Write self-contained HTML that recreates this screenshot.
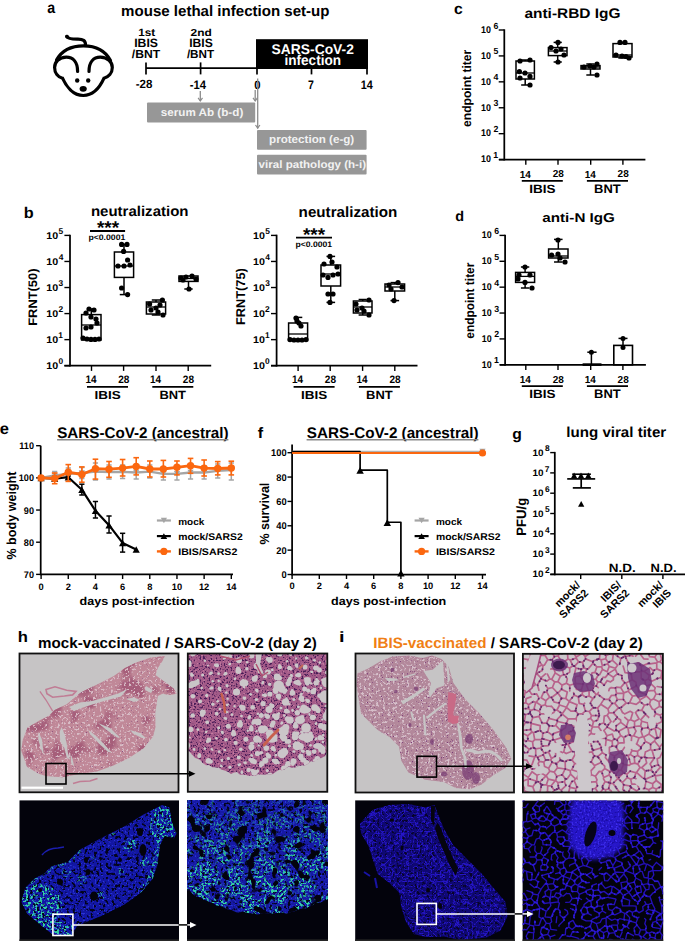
<!DOCTYPE html>
<html><head><meta charset="utf-8"><style>
html,body{margin:0;padding:0;background:#fff;width:685px;height:941px;overflow:hidden}
svg{display:block}
text{font-family:"Liberation Sans", sans-serif;text-rendering:geometricPrecision}
</style></head><body>
<svg width="685" height="941" viewBox="0 0 685 941" font-family="Liberation Sans, sans-serif">
<text x="47.37" y="12.94" font-size="15.82" font-weight="bold" fill="#000" textLength="7.90" lengthAdjust="spacingAndGlyphs" >a</text>
<text x="121.12" y="16.13" font-size="15.08" font-weight="bold" fill="#000" textLength="208.39" lengthAdjust="spacingAndGlyphs" >mouse lethal infection set-up</text>
<g fill="none" stroke="#000" stroke-width="3.2" stroke-linecap="round">
<path d="M66.8 36.4 C68 39 72 39.3 78 39.2 C83 39.2 85.6 40.5 85.5 45"/>
<path d="M56.5 60 C62 50 72 45.8 83.5 45.8 C95 45.8 105 50 110.5 60.5"/>
<path d="M77.6 71.5 C77.6 62 73 57.2 66.3 57.2 C59 57.2 54.6 62 54.6 67.5 C54.6 73 58 77 62.5 78.2 C66 86 73 95.5 83.3 95.5 C93.6 95.5 100.5 86 104 78.2 C108.5 77 112.3 73 112.3 67.5 C112.3 62 107.6 57.2 100.3 57.2 C93.6 57.2 89 62 89 71.5"/>
</g>
<circle cx="67" cy="36.6" r="1.9" fill="#000"/><circle cx="77.2" cy="80.5" r="2.2" fill="#000"/><circle cx="88.2" cy="80.5" r="2.2" fill="#000"/>
<ellipse cx="83.2" cy="88.8" rx="3.6" ry="2.9" fill="#000"/>
<text x="138.30" y="36.29" font-size="10.57" font-weight="bold" fill="#000" textLength="16.88" lengthAdjust="spacingAndGlyphs" >1st</text>
<text x="134.20" y="47.48" font-size="12.11" font-weight="bold" fill="#000" textLength="23.82" lengthAdjust="spacingAndGlyphs" >IBIS</text>
<text x="131.88" y="58.16" font-size="11.81" font-weight="bold" fill="#000" textLength="28.28" lengthAdjust="spacingAndGlyphs" >/BNT</text>
<text x="190.58" y="36.30" font-size="10.07" font-weight="bold" fill="#000" textLength="21.23" lengthAdjust="spacingAndGlyphs" >2nd</text>
<text x="189.21" y="47.48" font-size="12.11" font-weight="bold" fill="#000" textLength="23.61" lengthAdjust="spacingAndGlyphs" >IBIS</text>
<text x="186.88" y="58.16" font-size="11.81" font-weight="bold" fill="#000" textLength="27.27" lengthAdjust="spacingAndGlyphs" >/BNT</text>
<line x1="146" y1="62.4" x2="146" y2="74.4" stroke="#000" stroke-width="1.7" />
<line x1="200.6" y1="62.4" x2="200.6" y2="74.4" stroke="#000" stroke-width="1.7" />
<line x1="146" y1="68.2" x2="257" y2="68.2" stroke="#000" stroke-width="1.7" />
<rect x="256" y="39.2" width="112" height="29.8" fill="#000" stroke="none" stroke-width="1" />
<line x1="257" y1="66" x2="257" y2="74.4" stroke="#000" stroke-width="1.7" />
<line x1="311.5" y1="66" x2="311.5" y2="74.4" stroke="#000" stroke-width="1.7" />
<line x1="367" y1="66" x2="367" y2="74.4" stroke="#000" stroke-width="1.7" />
<text x="271.58" y="53.66" font-size="14.08" font-weight="bold" fill="#fff" textLength="82.28" lengthAdjust="spacingAndGlyphs" >SARS-CoV-2</text>
<text x="284.45" y="64.86" font-size="14.42" font-weight="bold" fill="#fff" textLength="56.59" lengthAdjust="spacingAndGlyphs" >infection</text>
<text x="135.64" y="88.48" font-size="11.97" font-weight="bold" fill="#000" textLength="16.71" lengthAdjust="spacingAndGlyphs" >-28</text>
<text x="189.65" y="88.60" font-size="12.32" font-weight="bold" fill="#000" textLength="16.31" lengthAdjust="spacingAndGlyphs" >-14</text>
<text x="254.15" y="88.58" font-size="11.97" font-weight="bold" fill="#000" textLength="6.32" lengthAdjust="spacingAndGlyphs" >0</text>
<text x="307.98" y="88.60" font-size="12.32" font-weight="bold" fill="#000" textLength="5.85" lengthAdjust="spacingAndGlyphs" >7</text>
<text x="360.65" y="88.60" font-size="12.32" font-weight="bold" fill="#000" textLength="12.03" lengthAdjust="spacingAndGlyphs" >14</text>
<rect x="147" y="102.4" width="108.2" height="20.1" fill="#979797" stroke="none" stroke-width="1" rx="1"/>
<rect x="257" y="129.9" width="109.6" height="19.8" fill="#979797" stroke="none" stroke-width="1" rx="1"/>
<rect x="257" y="154.7" width="109.6" height="19.8" fill="#979797" stroke="none" stroke-width="1" rx="1"/>
<text x="160.79" y="115.99" font-size="11.02" font-weight="bold" fill="#f2f2f2" textLength="82.48" lengthAdjust="spacingAndGlyphs" >serum Ab (b-d)</text>
<text x="269.04" y="142.74" font-size="11.23" font-weight="bold" fill="#f2f2f2" textLength="85.21" lengthAdjust="spacingAndGlyphs" >protection (e-g)</text>
<text x="258.64" y="167.53" font-size="10.80" font-weight="bold" fill="#f2f2f2" textLength="107.41" lengthAdjust="spacingAndGlyphs" >viral pathology (h-i)</text>
<line x1="200.3" y1="91" x2="200.3" y2="101" stroke="#8c8c8c" stroke-width="1.3" />
<path d="M198.10000000000002 97.8 L200.3 101 L202.5 97.8" fill="none" stroke="#8c8c8c" stroke-width="1.2"/>
<line x1="255.2" y1="90" x2="255.2" y2="101" stroke="#8c8c8c" stroke-width="1.3" />
<path d="M253.0 97.8 L255.2 101 L257.4 97.8" fill="none" stroke="#8c8c8c" stroke-width="1.2"/>
<line x1="257.7" y1="78.5" x2="257.7" y2="128.2" stroke="#8c8c8c" stroke-width="1.3" />
<path d="M255.5 124.99999999999999 L257.7 128.2 L259.9 124.99999999999999" fill="none" stroke="#8c8c8c" stroke-width="1.2"/>
<text x="23.84" y="217.64" font-size="15.51" font-weight="bold" fill="#000" textLength="9.92" lengthAdjust="spacingAndGlyphs" >b</text>
<text x="90.92" y="216.46" font-size="14.29" font-weight="bold" fill="#000" textLength="97.59" lengthAdjust="spacingAndGlyphs" >neutralization</text>
<line x1="70" y1="234.70000000000002" x2="70" y2="366.575" stroke="#000" stroke-width="1.75" />
<line x1="64.4" y1="235.4" x2="70" y2="235.4" stroke="#000" stroke-width="1.4" />
<text x="46.36" y="238.60" font-size="9.86" font-weight="bold" fill="#000" textLength="11.89" lengthAdjust="spacingAndGlyphs" >10</text>
<text x="58.55" y="234.00" font-size="8.40" font-weight="bold" fill="#000" text-anchor="start" textLength="4.67" lengthAdjust="spacingAndGlyphs">5</text>
<line x1="64.4" y1="261.46" x2="70" y2="261.46" stroke="#000" stroke-width="1.4" />
<text x="46.36" y="264.66" font-size="9.86" font-weight="bold" fill="#000" textLength="11.89" lengthAdjust="spacingAndGlyphs" >10</text>
<text x="58.67" y="260.06" font-size="8.40" font-weight="bold" fill="#000" text-anchor="start" textLength="4.67" lengthAdjust="spacingAndGlyphs">4</text>
<line x1="64.4" y1="287.52" x2="70" y2="287.52" stroke="#000" stroke-width="1.4" />
<text x="46.36" y="290.72" font-size="9.86" font-weight="bold" fill="#000" textLength="11.89" lengthAdjust="spacingAndGlyphs" >10</text>
<text x="58.59" y="286.12" font-size="8.40" font-weight="bold" fill="#000" text-anchor="start" textLength="4.67" lengthAdjust="spacingAndGlyphs">3</text>
<line x1="64.4" y1="313.58" x2="70" y2="313.58" stroke="#000" stroke-width="1.4" />
<text x="46.36" y="316.78" font-size="9.86" font-weight="bold" fill="#000" textLength="11.89" lengthAdjust="spacingAndGlyphs" >10</text>
<text x="58.51" y="312.18" font-size="8.40" font-weight="bold" fill="#000" text-anchor="start" textLength="4.67" lengthAdjust="spacingAndGlyphs">2</text>
<line x1="64.4" y1="339.64" x2="70" y2="339.64" stroke="#000" stroke-width="1.4" />
<text x="46.36" y="342.84" font-size="9.86" font-weight="bold" fill="#000" textLength="11.89" lengthAdjust="spacingAndGlyphs" >10</text>
<text x="58.30" y="338.24" font-size="8.40" font-weight="bold" fill="#000" text-anchor="start" textLength="4.67" lengthAdjust="spacingAndGlyphs">1</text>
<line x1="64.4" y1="365.7" x2="70" y2="365.7" stroke="#000" stroke-width="1.4" />
<text x="46.36" y="368.90" font-size="9.86" font-weight="bold" fill="#000" textLength="11.89" lengthAdjust="spacingAndGlyphs" >10</text>
<text x="58.46" y="364.30" font-size="8.40" font-weight="bold" fill="#000" text-anchor="start" textLength="4.67" lengthAdjust="spacingAndGlyphs">0</text>
<line x1="64.4" y1="365.7" x2="211.2" y2="365.7" stroke="#000" stroke-width="1.75" />
<line x1="91.5" y1="365.7" x2="91.5" y2="370.9" stroke="#000" stroke-width="1.4" />
<line x1="123.6" y1="365.7" x2="123.6" y2="370.9" stroke="#000" stroke-width="1.4" />
<line x1="156" y1="365.7" x2="156" y2="370.9" stroke="#000" stroke-width="1.4" />
<line x1="188.2" y1="365.7" x2="188.2" y2="370.9" stroke="#000" stroke-width="1.4" />
<text x="85.50" y="383.00" font-size="11.01" font-weight="bold" fill="#000" textLength="11.07" lengthAdjust="spacingAndGlyphs" >14</text>
<text x="118.25" y="382.89" font-size="10.70" font-weight="bold" fill="#000" textLength="11.18" lengthAdjust="spacingAndGlyphs" >28</text>
<text x="150.00" y="383.00" font-size="11.01" font-weight="bold" fill="#000" textLength="11.07" lengthAdjust="spacingAndGlyphs" >14</text>
<text x="182.85" y="382.89" font-size="10.70" font-weight="bold" fill="#000" textLength="11.18" lengthAdjust="spacingAndGlyphs" >28</text>
<line x1="87" y1="386.9" x2="128" y2="386.9" stroke="#000" stroke-width="1.8" />
<text x="94.47" y="398.58" font-size="11.55" font-weight="bold" fill="#000" textLength="26.25" lengthAdjust="spacingAndGlyphs" >IBIS</text>
<line x1="152.3" y1="386.9" x2="193.3" y2="386.9" stroke="#000" stroke-width="1.8" />
<text x="159.46" y="398.70" font-size="11.88" font-weight="bold" fill="#000" textLength="26.57" lengthAdjust="spacingAndGlyphs" >BNT</text>
<text x="0" y="0" transform="translate(36.52 325.74) rotate(-90)" font-size="12.30" font-weight="bold" fill="#000" textLength="57.17" lengthAdjust="spacingAndGlyphs">FRNT(50)</text>
<line x1="90" y1="231" x2="125.1" y2="231" stroke="#000" stroke-width="1.8" />
<text x="96.91" y="234.07" font-size="18.65" font-weight="bold" fill="#000" textLength="22.14" lengthAdjust="spacingAndGlyphs" >***</text>
<text x="88.44" y="239.92" font-size="8.02" font-weight="bold" fill="#000" textLength="36.91" lengthAdjust="spacingAndGlyphs" >p&lt;0.0001</text>
<line x1="91.3" y1="309" x2="91.3" y2="314.6" stroke="#000" stroke-width="1.5" />
<line x1="87.032" y1="309" x2="95.568" y2="309" stroke="#000" stroke-width="1.5" />
<rect x="81.6" y="314.6" width="19.400000000000006" height="25.399999999999977" fill="#fff" stroke="#000" stroke-width="1.5" />
<line x1="81.6" y1="325" x2="101" y2="325" stroke="#000" stroke-width="1.3" />
<circle cx="89" cy="309" r="2.6" fill="#000"/>
<circle cx="94" cy="310" r="2.6" fill="#000"/>
<circle cx="86" cy="313" r="2.6" fill="#000"/>
<circle cx="91" cy="317" r="2.6" fill="#000"/>
<circle cx="96" cy="319" r="2.6" fill="#000"/>
<circle cx="97" cy="323" r="2.6" fill="#000"/>
<circle cx="91" cy="327" r="2.6" fill="#000"/>
<circle cx="86" cy="328" r="2.6" fill="#000"/>
<circle cx="83" cy="338" r="2.6" fill="#000"/>
<circle cx="87" cy="339" r="2.6" fill="#000"/>
<circle cx="91" cy="339.4" r="2.6" fill="#000"/>
<circle cx="95" cy="339.4" r="2.6" fill="#000"/>
<circle cx="99" cy="339" r="2.6" fill="#000"/>
<line x1="124.0" y1="244.4" x2="124.0" y2="252" stroke="#000" stroke-width="1.5" />
<line x1="119.776" y1="244.4" x2="128.224" y2="244.4" stroke="#000" stroke-width="1.5" />
<line x1="124.0" y1="277.4" x2="124.0" y2="294.6" stroke="#000" stroke-width="1.5" />
<line x1="119.776" y1="294.6" x2="128.224" y2="294.6" stroke="#000" stroke-width="1.5" />
<rect x="114.4" y="252" width="19.19999999999999" height="25.399999999999977" fill="#fff" stroke="#000" stroke-width="1.5" />
<line x1="114.4" y1="266" x2="133.6" y2="266" stroke="#000" stroke-width="1.3" />
<circle cx="121.6" cy="244.4" r="2.6" fill="#000"/>
<circle cx="127" cy="244.4" r="2.6" fill="#000"/>
<circle cx="123.6" cy="251.4" r="2.6" fill="#000"/>
<circle cx="127.6" cy="260" r="2.6" fill="#000"/>
<circle cx="118" cy="266" r="2.6" fill="#000"/>
<circle cx="124" cy="266" r="2.6" fill="#000"/>
<circle cx="130" cy="265" r="2.6" fill="#000"/>
<circle cx="121.6" cy="288" r="2.6" fill="#000"/>
<circle cx="127.6" cy="294.6" r="2.6" fill="#000"/>
<line x1="156.0" y1="300" x2="156.0" y2="302" stroke="#000" stroke-width="1.5" />
<line x1="151.776" y1="300" x2="160.224" y2="300" stroke="#000" stroke-width="1.5" />
<line x1="156.0" y1="314" x2="156.0" y2="315" stroke="#000" stroke-width="1.5" />
<line x1="151.776" y1="315" x2="160.224" y2="315" stroke="#000" stroke-width="1.5" />
<rect x="146.4" y="302" width="19.19999999999999" height="12" fill="#fff" stroke="#000" stroke-width="1.5" />
<line x1="146.4" y1="307" x2="165.6" y2="307" stroke="#000" stroke-width="1.3" />
<circle cx="162.4" cy="300" r="2.6" fill="#000"/>
<circle cx="149.6" cy="304" r="2.6" fill="#000"/>
<circle cx="156" cy="308" r="2.6" fill="#000"/>
<circle cx="163" cy="315" r="2.6" fill="#000"/>
<circle cx="158" cy="312" r="2.6" fill="#000"/>
<circle cx="151" cy="310" r="2.6" fill="#000"/>
<circle cx="160" cy="305" r="2.6" fill="#000"/>
<line x1="188.5" y1="281.4" x2="188.5" y2="289" stroke="#000" stroke-width="1.5" />
<line x1="184.32" y1="289" x2="192.68" y2="289" stroke="#000" stroke-width="1.5" />
<rect x="179" y="276" width="19" height="5.399999999999977" fill="#fff" stroke="#000" stroke-width="1.5" />
<line x1="179" y1="278.5" x2="198" y2="278.5" stroke="#000" stroke-width="1.3" />
<circle cx="181" cy="278" r="2.6" fill="#000"/>
<circle cx="186" cy="277" r="2.6" fill="#000"/>
<circle cx="192" cy="276" r="2.6" fill="#000"/>
<circle cx="196" cy="279" r="2.6" fill="#000"/>
<circle cx="183" cy="280" r="2.6" fill="#000"/>
<circle cx="189" cy="289" r="2.6" fill="#000"/>
<text x="298.61" y="216.85" font-size="14.83" font-weight="bold" fill="#000" textLength="98.61" lengthAdjust="spacingAndGlyphs" >neutralization</text>
<line x1="276.6" y1="234.70000000000002" x2="276.6" y2="366.575" stroke="#000" stroke-width="1.75" />
<line x1="271.0" y1="235.4" x2="276.6" y2="235.4" stroke="#000" stroke-width="1.4" />
<text x="252.96" y="238.60" font-size="9.86" font-weight="bold" fill="#000" textLength="11.89" lengthAdjust="spacingAndGlyphs" >10</text>
<text x="265.15" y="234.00" font-size="8.40" font-weight="bold" fill="#000" text-anchor="start" textLength="4.67" lengthAdjust="spacingAndGlyphs">5</text>
<line x1="271.0" y1="261.46" x2="276.6" y2="261.46" stroke="#000" stroke-width="1.4" />
<text x="252.96" y="264.66" font-size="9.86" font-weight="bold" fill="#000" textLength="11.89" lengthAdjust="spacingAndGlyphs" >10</text>
<text x="265.27" y="260.06" font-size="8.40" font-weight="bold" fill="#000" text-anchor="start" textLength="4.67" lengthAdjust="spacingAndGlyphs">4</text>
<line x1="271.0" y1="287.52" x2="276.6" y2="287.52" stroke="#000" stroke-width="1.4" />
<text x="252.96" y="290.72" font-size="9.86" font-weight="bold" fill="#000" textLength="11.89" lengthAdjust="spacingAndGlyphs" >10</text>
<text x="265.19" y="286.12" font-size="8.40" font-weight="bold" fill="#000" text-anchor="start" textLength="4.67" lengthAdjust="spacingAndGlyphs">3</text>
<line x1="271.0" y1="313.58" x2="276.6" y2="313.58" stroke="#000" stroke-width="1.4" />
<text x="252.96" y="316.78" font-size="9.86" font-weight="bold" fill="#000" textLength="11.89" lengthAdjust="spacingAndGlyphs" >10</text>
<text x="265.11" y="312.18" font-size="8.40" font-weight="bold" fill="#000" text-anchor="start" textLength="4.67" lengthAdjust="spacingAndGlyphs">2</text>
<line x1="271.0" y1="339.64" x2="276.6" y2="339.64" stroke="#000" stroke-width="1.4" />
<text x="252.96" y="342.84" font-size="9.86" font-weight="bold" fill="#000" textLength="11.89" lengthAdjust="spacingAndGlyphs" >10</text>
<text x="264.90" y="338.24" font-size="8.40" font-weight="bold" fill="#000" text-anchor="start" textLength="4.67" lengthAdjust="spacingAndGlyphs">1</text>
<line x1="271.0" y1="365.7" x2="276.6" y2="365.7" stroke="#000" stroke-width="1.4" />
<text x="252.96" y="368.90" font-size="9.86" font-weight="bold" fill="#000" textLength="11.89" lengthAdjust="spacingAndGlyphs" >10</text>
<text x="265.06" y="364.30" font-size="8.40" font-weight="bold" fill="#000" text-anchor="start" textLength="4.67" lengthAdjust="spacingAndGlyphs">0</text>
<line x1="271.0" y1="365.7" x2="417.5" y2="365.7" stroke="#000" stroke-width="1.75" />
<line x1="298.1" y1="365.7" x2="298.1" y2="370.9" stroke="#000" stroke-width="1.4" />
<line x1="330.2" y1="365.7" x2="330.2" y2="370.9" stroke="#000" stroke-width="1.4" />
<line x1="362.6" y1="365.7" x2="362.6" y2="370.9" stroke="#000" stroke-width="1.4" />
<line x1="394.79999999999995" y1="365.7" x2="394.79999999999995" y2="370.9" stroke="#000" stroke-width="1.4" />
<text x="292.10" y="383.00" font-size="11.01" font-weight="bold" fill="#000" textLength="11.07" lengthAdjust="spacingAndGlyphs" >14</text>
<text x="324.85" y="382.89" font-size="10.70" font-weight="bold" fill="#000" textLength="11.18" lengthAdjust="spacingAndGlyphs" >28</text>
<text x="356.60" y="383.00" font-size="11.01" font-weight="bold" fill="#000" textLength="11.07" lengthAdjust="spacingAndGlyphs" >14</text>
<text x="389.45" y="382.89" font-size="10.70" font-weight="bold" fill="#000" textLength="11.18" lengthAdjust="spacingAndGlyphs" >28</text>
<line x1="293.6" y1="386.9" x2="334.6" y2="386.9" stroke="#000" stroke-width="1.8" />
<text x="301.07" y="398.58" font-size="11.55" font-weight="bold" fill="#000" textLength="26.25" lengthAdjust="spacingAndGlyphs" >IBIS</text>
<line x1="358.9" y1="386.9" x2="399.9" y2="386.9" stroke="#000" stroke-width="1.8" />
<text x="366.06" y="398.70" font-size="11.88" font-weight="bold" fill="#000" textLength="26.57" lengthAdjust="spacingAndGlyphs" >BNT</text>
<text x="0" y="0" transform="translate(245.23 324.93) rotate(-90)" font-size="12.73" font-weight="bold" fill="#000" textLength="56.76" lengthAdjust="spacingAndGlyphs">FRNT(75)</text>
<line x1="296" y1="237.6" x2="332" y2="237.6" stroke="#000" stroke-width="1.8" />
<text x="302.91" y="240.87" font-size="18.65" font-weight="bold" fill="#000" textLength="22.14" lengthAdjust="spacingAndGlyphs" >***</text>
<text x="295.44" y="246.82" font-size="8.02" font-weight="bold" fill="#000" textLength="36.60" lengthAdjust="spacingAndGlyphs" >p&lt;0.0001</text>
<line x1="298.1" y1="317.4" x2="298.1" y2="323" stroke="#000" stroke-width="1.5" />
<line x1="293.92" y1="317.4" x2="302.28000000000003" y2="317.4" stroke="#000" stroke-width="1.5" />
<rect x="288.6" y="323" width="19.0" height="17.600000000000023" fill="#fff" stroke="#000" stroke-width="1.5" />
<line x1="288.6" y1="334" x2="307.6" y2="334" stroke="#000" stroke-width="1.3" />
<circle cx="296" cy="318" r="2.6" fill="#000"/>
<circle cx="297" cy="321" r="2.6" fill="#000"/>
<circle cx="301" cy="326" r="2.6" fill="#000"/>
<circle cx="299" cy="323" r="2.6" fill="#000"/>
<circle cx="290" cy="339.6" r="2.6" fill="#000"/>
<circle cx="294" cy="340" r="2.6" fill="#000"/>
<circle cx="298" cy="340" r="2.6" fill="#000"/>
<circle cx="302" cy="340" r="2.6" fill="#000"/>
<circle cx="306" cy="339.6" r="2.6" fill="#000"/>
<line x1="330.8" y1="256.4" x2="330.8" y2="265" stroke="#000" stroke-width="1.5" />
<line x1="326.488" y1="256.4" x2="335.112" y2="256.4" stroke="#000" stroke-width="1.5" />
<line x1="330.8" y1="286" x2="330.8" y2="302.4" stroke="#000" stroke-width="1.5" />
<line x1="326.488" y1="302.4" x2="335.112" y2="302.4" stroke="#000" stroke-width="1.5" />
<rect x="321" y="265" width="19.600000000000023" height="21" fill="#fff" stroke="#000" stroke-width="1.5" />
<line x1="321" y1="274" x2="340.6" y2="274" stroke="#000" stroke-width="1.3" />
<circle cx="330" cy="256.4" r="2.6" fill="#000"/>
<circle cx="324" cy="264" r="2.6" fill="#000"/>
<circle cx="332" cy="262" r="2.6" fill="#000"/>
<circle cx="337" cy="267" r="2.6" fill="#000"/>
<circle cx="323" cy="275" r="2.6" fill="#000"/>
<circle cx="328" cy="277.4" r="2.6" fill="#000"/>
<circle cx="333" cy="275" r="2.6" fill="#000"/>
<circle cx="338" cy="274" r="2.6" fill="#000"/>
<circle cx="328" cy="294" r="2.6" fill="#000"/>
<circle cx="333" cy="294" r="2.6" fill="#000"/>
<circle cx="330" cy="302.4" r="2.6" fill="#000"/>
<line x1="362.7" y1="299.5" x2="362.7" y2="301" stroke="#000" stroke-width="1.5" />
<line x1="358.608" y1="299.5" x2="366.792" y2="299.5" stroke="#000" stroke-width="1.5" />
<line x1="362.7" y1="313" x2="362.7" y2="315" stroke="#000" stroke-width="1.5" />
<line x1="358.608" y1="315" x2="366.792" y2="315" stroke="#000" stroke-width="1.5" />
<rect x="353.4" y="301" width="18.600000000000023" height="12" fill="#fff" stroke="#000" stroke-width="1.5" />
<line x1="353.4" y1="307" x2="372" y2="307" stroke="#000" stroke-width="1.3" />
<circle cx="369" cy="300" r="2.6" fill="#000"/>
<circle cx="356" cy="304" r="2.6" fill="#000"/>
<circle cx="362" cy="308" r="2.6" fill="#000"/>
<circle cx="369" cy="315" r="2.6" fill="#000"/>
<circle cx="364" cy="311" r="2.6" fill="#000"/>
<circle cx="357" cy="310" r="2.6" fill="#000"/>
<line x1="394.8" y1="282.6" x2="394.8" y2="284" stroke="#000" stroke-width="1.5" />
<line x1="390.488" y1="282.6" x2="399.112" y2="282.6" stroke="#000" stroke-width="1.5" />
<line x1="394.8" y1="291" x2="394.8" y2="300.6" stroke="#000" stroke-width="1.5" />
<line x1="390.488" y1="300.6" x2="399.112" y2="300.6" stroke="#000" stroke-width="1.5" />
<rect x="385" y="284" width="19.600000000000023" height="7" fill="#fff" stroke="#000" stroke-width="1.5" />
<line x1="385" y1="287" x2="404.6" y2="287" stroke="#000" stroke-width="1.3" />
<circle cx="389" cy="285" r="2.6" fill="#000"/>
<circle cx="398" cy="282.6" r="2.6" fill="#000"/>
<circle cx="402" cy="287" r="2.6" fill="#000"/>
<circle cx="394" cy="300.6" r="2.6" fill="#000"/>
<circle cx="391" cy="289" r="2.6" fill="#000"/>
<text x="453.97" y="14.15" font-size="15.45" font-weight="bold" fill="#000" textLength="8.72" lengthAdjust="spacingAndGlyphs" >c</text>
<text x="524.44" y="18.30" font-size="13.80" font-weight="bold" fill="#000" textLength="96.12" lengthAdjust="spacingAndGlyphs" >anti-RBD IgG</text>
<line x1="504.3" y1="29.3" x2="504.3" y2="160.475" stroke="#000" stroke-width="1.75" />
<line x1="498.7" y1="30.0" x2="504.3" y2="30.0" stroke="#000" stroke-width="1.4" />
<text x="481.07" y="32.80" font-size="9.86" font-weight="bold" fill="#000" textLength="9.91" lengthAdjust="spacingAndGlyphs" >10</text>
<text x="493.39" y="28.50" font-size="8.80" font-weight="bold" fill="#000" text-anchor="start" textLength="4.89" lengthAdjust="spacingAndGlyphs">6</text>
<line x1="498.7" y1="55.92" x2="504.3" y2="55.92" stroke="#000" stroke-width="1.4" />
<text x="481.07" y="58.72" font-size="9.86" font-weight="bold" fill="#000" textLength="9.91" lengthAdjust="spacingAndGlyphs" >10</text>
<text x="493.44" y="54.42" font-size="8.80" font-weight="bold" fill="#000" text-anchor="start" textLength="4.89" lengthAdjust="spacingAndGlyphs">5</text>
<line x1="498.7" y1="81.84" x2="504.3" y2="81.84" stroke="#000" stroke-width="1.4" />
<text x="481.07" y="84.64" font-size="9.86" font-weight="bold" fill="#000" textLength="9.91" lengthAdjust="spacingAndGlyphs" >10</text>
<text x="493.57" y="80.34" font-size="8.80" font-weight="bold" fill="#000" text-anchor="start" textLength="4.89" lengthAdjust="spacingAndGlyphs">4</text>
<line x1="498.7" y1="107.75999999999999" x2="504.3" y2="107.75999999999999" stroke="#000" stroke-width="1.4" />
<text x="481.07" y="110.56" font-size="9.86" font-weight="bold" fill="#000" textLength="9.91" lengthAdjust="spacingAndGlyphs" >10</text>
<text x="493.48" y="106.26" font-size="8.80" font-weight="bold" fill="#000" text-anchor="start" textLength="4.89" lengthAdjust="spacingAndGlyphs">3</text>
<line x1="498.7" y1="133.68" x2="504.3" y2="133.68" stroke="#000" stroke-width="1.4" />
<text x="481.07" y="136.48" font-size="9.86" font-weight="bold" fill="#000" textLength="9.91" lengthAdjust="spacingAndGlyphs" >10</text>
<text x="493.39" y="132.18" font-size="8.80" font-weight="bold" fill="#000" text-anchor="start" textLength="4.89" lengthAdjust="spacingAndGlyphs">2</text>
<line x1="498.7" y1="159.6" x2="504.3" y2="159.6" stroke="#000" stroke-width="1.4" />
<text x="481.07" y="162.40" font-size="9.86" font-weight="bold" fill="#000" textLength="9.91" lengthAdjust="spacingAndGlyphs" >10</text>
<text x="493.17" y="158.10" font-size="8.80" font-weight="bold" fill="#000" text-anchor="start" textLength="4.89" lengthAdjust="spacingAndGlyphs">1</text>
<line x1="499" y1="159.6" x2="645.4" y2="159.6" stroke="#000" stroke-width="1.75" />
<line x1="525.8" y1="159.6" x2="525.8" y2="164.79999999999998" stroke="#000" stroke-width="1.4" />
<line x1="558" y1="159.6" x2="558" y2="164.79999999999998" stroke="#000" stroke-width="1.4" />
<line x1="590.7" y1="159.6" x2="590.7" y2="164.79999999999998" stroke="#000" stroke-width="1.4" />
<line x1="622.9" y1="159.6" x2="622.9" y2="164.79999999999998" stroke="#000" stroke-width="1.4" />
<text x="519.80" y="177.50" font-size="10.29" font-weight="bold" fill="#000" textLength="11.07" lengthAdjust="spacingAndGlyphs" >14</text>
<text x="552.65" y="177.40" font-size="10.00" font-weight="bold" fill="#000" textLength="11.18" lengthAdjust="spacingAndGlyphs" >28</text>
<text x="584.70" y="177.50" font-size="10.29" font-weight="bold" fill="#000" textLength="11.07" lengthAdjust="spacingAndGlyphs" >14</text>
<text x="617.55" y="177.40" font-size="10.00" font-weight="bold" fill="#000" textLength="11.18" lengthAdjust="spacingAndGlyphs" >28</text>
<line x1="521.8" y1="180.9" x2="562.8" y2="180.9" stroke="#000" stroke-width="1.8" />
<text x="529.27" y="193.08" font-size="11.97" font-weight="bold" fill="#000" textLength="26.25" lengthAdjust="spacingAndGlyphs" >IBIS</text>
<line x1="586.9" y1="180.9" x2="628" y2="180.9" stroke="#000" stroke-width="1.8" />
<text x="594.11" y="193.20" font-size="12.32" font-weight="bold" fill="#000" textLength="26.57" lengthAdjust="spacingAndGlyphs" >BNT</text>
<text x="0" y="0" transform="translate(471.29 126.98) rotate(-90)" font-size="12.41" font-weight="bold" fill="#000" textLength="77.25" lengthAdjust="spacingAndGlyphs">endpoint titer</text>
<line x1="525.2" y1="60" x2="525.2" y2="61" stroke="#000" stroke-width="1.5" />
<line x1="521.152" y1="60" x2="529.248" y2="60" stroke="#000" stroke-width="1.5" />
<line x1="525.2" y1="79" x2="525.2" y2="85" stroke="#000" stroke-width="1.5" />
<line x1="521.152" y1="85" x2="529.248" y2="85" stroke="#000" stroke-width="1.5" />
<rect x="516" y="61" width="18.399999999999977" height="18" fill="#fff" stroke="#000" stroke-width="1.5" />
<line x1="516" y1="73" x2="534.4" y2="73" stroke="#000" stroke-width="1.3" />
<circle cx="520" cy="61" r="2.6" fill="#000"/>
<circle cx="530" cy="60" r="2.6" fill="#000"/>
<circle cx="519.4" cy="71.6" r="2.6" fill="#000"/>
<circle cx="520" cy="78" r="2.6" fill="#000"/>
<circle cx="530" cy="76.4" r="2.6" fill="#000"/>
<circle cx="530" cy="85" r="2.6" fill="#000"/>
<circle cx="525" cy="73" r="2.6" fill="#000"/>
<line x1="557.7" y1="42.4" x2="557.7" y2="47.6" stroke="#000" stroke-width="1.5" />
<line x1="553.6080000000001" y1="42.4" x2="561.792" y2="42.4" stroke="#000" stroke-width="1.5" />
<line x1="557.7" y1="55.6" x2="557.7" y2="62" stroke="#000" stroke-width="1.5" />
<line x1="553.6080000000001" y1="62" x2="561.792" y2="62" stroke="#000" stroke-width="1.5" />
<rect x="548.4" y="47.6" width="18.600000000000023" height="8.0" fill="#fff" stroke="#000" stroke-width="1.5" />
<line x1="548.4" y1="51" x2="567" y2="51" stroke="#000" stroke-width="1.3" />
<circle cx="558" cy="42.4" r="2.6" fill="#000"/>
<circle cx="551" cy="47.6" r="2.6" fill="#000"/>
<circle cx="556" cy="51" r="2.6" fill="#000"/>
<circle cx="564" cy="55" r="2.6" fill="#000"/>
<circle cx="558" cy="62" r="2.6" fill="#000"/>
<circle cx="561" cy="49" r="2.6" fill="#000"/>
<line x1="590.5" y1="64" x2="590.5" y2="65.6" stroke="#000" stroke-width="1.5" />
<line x1="586.32" y1="64" x2="594.68" y2="64" stroke="#000" stroke-width="1.5" />
<line x1="590.5" y1="69" x2="590.5" y2="75" stroke="#000" stroke-width="1.5" />
<line x1="586.32" y1="75" x2="594.68" y2="75" stroke="#000" stroke-width="1.5" />
<rect x="581" y="65.6" width="19" height="3.4000000000000057" fill="#fff" stroke="#000" stroke-width="1.5" />
<line x1="581" y1="67" x2="600" y2="67" stroke="#000" stroke-width="1.3" />
<circle cx="597" cy="64" r="2.6" fill="#000"/>
<circle cx="597" cy="75" r="2.6" fill="#000"/>
<circle cx="584" cy="67" r="2.6" fill="#000"/>
<circle cx="590" cy="66" r="2.6" fill="#000"/>
<circle cx="594" cy="67" r="2.6" fill="#000"/>
<line x1="622.5" y1="42.4" x2="622.5" y2="43.6" stroke="#000" stroke-width="1.5" />
<line x1="618.32" y1="42.4" x2="626.68" y2="42.4" stroke="#000" stroke-width="1.5" />
<line x1="622.5" y1="57" x2="622.5" y2="58" stroke="#000" stroke-width="1.5" />
<line x1="618.32" y1="58" x2="626.68" y2="58" stroke="#000" stroke-width="1.5" />
<rect x="613" y="43.6" width="19" height="13.399999999999999" fill="#fff" stroke="#000" stroke-width="1.5" />
<line x1="613" y1="55" x2="632" y2="55" stroke="#000" stroke-width="1.3" />
<circle cx="620" cy="42.4" r="2.6" fill="#000"/>
<circle cx="625" cy="42.4" r="2.6" fill="#000"/>
<circle cx="629" cy="58" r="2.6" fill="#000"/>
<circle cx="616" cy="55" r="2.6" fill="#000"/>
<circle cx="622" cy="56" r="2.6" fill="#000"/>
<circle cx="626" cy="56.5" r="2.6" fill="#000"/>
<text x="455.22" y="221.16" font-size="14.29" font-weight="bold" fill="#000" textLength="8.83" lengthAdjust="spacingAndGlyphs" >d</text>
<text x="542.34" y="221.50" font-size="12.83" font-weight="bold" fill="#000" textLength="72.60" lengthAdjust="spacingAndGlyphs" >anti-N IgG</text>
<line x1="505.1" y1="234.70000000000002" x2="505.1" y2="365.675" stroke="#000" stroke-width="1.75" />
<line x1="499.5" y1="235.4" x2="505.1" y2="235.4" stroke="#000" stroke-width="1.4" />
<text x="481.87" y="238.20" font-size="9.86" font-weight="bold" fill="#000" textLength="9.91" lengthAdjust="spacingAndGlyphs" >10</text>
<text x="494.19" y="233.90" font-size="8.80" font-weight="bold" fill="#000" text-anchor="start" textLength="4.89" lengthAdjust="spacingAndGlyphs">6</text>
<line x1="499.5" y1="261.28000000000003" x2="505.1" y2="261.28000000000003" stroke="#000" stroke-width="1.4" />
<text x="481.87" y="264.08" font-size="9.86" font-weight="bold" fill="#000" textLength="9.91" lengthAdjust="spacingAndGlyphs" >10</text>
<text x="494.24" y="259.78" font-size="8.80" font-weight="bold" fill="#000" text-anchor="start" textLength="4.89" lengthAdjust="spacingAndGlyphs">5</text>
<line x1="499.5" y1="287.16" x2="505.1" y2="287.16" stroke="#000" stroke-width="1.4" />
<text x="481.87" y="289.96" font-size="9.86" font-weight="bold" fill="#000" textLength="9.91" lengthAdjust="spacingAndGlyphs" >10</text>
<text x="494.37" y="285.66" font-size="8.80" font-weight="bold" fill="#000" text-anchor="start" textLength="4.89" lengthAdjust="spacingAndGlyphs">4</text>
<line x1="499.5" y1="313.04" x2="505.1" y2="313.04" stroke="#000" stroke-width="1.4" />
<text x="481.87" y="315.84" font-size="9.86" font-weight="bold" fill="#000" textLength="9.91" lengthAdjust="spacingAndGlyphs" >10</text>
<text x="494.28" y="311.54" font-size="8.80" font-weight="bold" fill="#000" text-anchor="start" textLength="4.89" lengthAdjust="spacingAndGlyphs">3</text>
<line x1="499.5" y1="338.92" x2="505.1" y2="338.92" stroke="#000" stroke-width="1.4" />
<text x="481.87" y="341.72" font-size="9.86" font-weight="bold" fill="#000" textLength="9.91" lengthAdjust="spacingAndGlyphs" >10</text>
<text x="494.19" y="337.42" font-size="8.80" font-weight="bold" fill="#000" text-anchor="start" textLength="4.89" lengthAdjust="spacingAndGlyphs">2</text>
<line x1="499.5" y1="364.8" x2="505.1" y2="364.8" stroke="#000" stroke-width="1.4" />
<text x="481.87" y="367.60" font-size="9.86" font-weight="bold" fill="#000" textLength="9.91" lengthAdjust="spacingAndGlyphs" >10</text>
<text x="493.97" y="363.30" font-size="8.80" font-weight="bold" fill="#000" text-anchor="start" textLength="4.89" lengthAdjust="spacingAndGlyphs">1</text>
<line x1="499.8" y1="364.8" x2="645.9" y2="364.8" stroke="#000" stroke-width="1.75" />
<line x1="525.8" y1="364.8" x2="525.8" y2="370.0" stroke="#000" stroke-width="1.4" />
<line x1="558" y1="364.8" x2="558" y2="370.0" stroke="#000" stroke-width="1.4" />
<line x1="590.7" y1="364.8" x2="590.7" y2="370.0" stroke="#000" stroke-width="1.4" />
<line x1="622.9" y1="364.8" x2="622.9" y2="370.0" stroke="#000" stroke-width="1.4" />
<text x="519.80" y="382.70" font-size="10.29" font-weight="bold" fill="#000" textLength="11.07" lengthAdjust="spacingAndGlyphs" >14</text>
<text x="552.65" y="382.60" font-size="10.00" font-weight="bold" fill="#000" textLength="11.18" lengthAdjust="spacingAndGlyphs" >28</text>
<text x="584.70" y="382.70" font-size="10.29" font-weight="bold" fill="#000" textLength="11.07" lengthAdjust="spacingAndGlyphs" >14</text>
<text x="617.55" y="382.60" font-size="10.00" font-weight="bold" fill="#000" textLength="11.18" lengthAdjust="spacingAndGlyphs" >28</text>
<line x1="521.8" y1="386.1" x2="562.8" y2="386.1" stroke="#000" stroke-width="1.8" />
<text x="529.27" y="398.28" font-size="11.97" font-weight="bold" fill="#000" textLength="26.25" lengthAdjust="spacingAndGlyphs" >IBIS</text>
<line x1="586.9" y1="386.1" x2="628" y2="386.1" stroke="#000" stroke-width="1.8" />
<text x="594.11" y="398.40" font-size="12.32" font-weight="bold" fill="#000" textLength="26.57" lengthAdjust="spacingAndGlyphs" >BNT</text>
<text x="0" y="0" transform="translate(474.37 338.68) rotate(-90)" font-size="12.51" font-weight="bold" fill="#000" textLength="76.04" lengthAdjust="spacingAndGlyphs">endpoint titer</text>
<line x1="525.1" y1="267" x2="525.1" y2="272.4" stroke="#000" stroke-width="1.5" />
<line x1="520.9200000000001" y1="267" x2="529.28" y2="267" stroke="#000" stroke-width="1.5" />
<line x1="525.1" y1="282.4" x2="525.1" y2="288" stroke="#000" stroke-width="1.5" />
<line x1="520.9200000000001" y1="288" x2="529.28" y2="288" stroke="#000" stroke-width="1.5" />
<rect x="515.6" y="272.4" width="19.0" height="10.0" fill="#fff" stroke="#000" stroke-width="1.5" />
<line x1="515.6" y1="276.4" x2="534.6" y2="276.4" stroke="#000" stroke-width="1.3" />
<circle cx="525" cy="267" r="2.6" fill="#000"/>
<circle cx="519" cy="275" r="2.6" fill="#000"/>
<circle cx="530" cy="275" r="2.6" fill="#000"/>
<circle cx="518" cy="279" r="2.6" fill="#000"/>
<circle cx="525" cy="282.4" r="2.6" fill="#000"/>
<circle cx="532" cy="288" r="2.6" fill="#000"/>
<line x1="558.3" y1="239.4" x2="558.3" y2="249" stroke="#000" stroke-width="1.5" />
<line x1="554.0319999999999" y1="239.4" x2="562.568" y2="239.4" stroke="#000" stroke-width="1.5" />
<line x1="558.3" y1="258" x2="558.3" y2="262" stroke="#000" stroke-width="1.5" />
<line x1="554.0319999999999" y1="262" x2="562.568" y2="262" stroke="#000" stroke-width="1.5" />
<rect x="548.6" y="249" width="19.399999999999977" height="9" fill="#fff" stroke="#000" stroke-width="1.5" />
<line x1="548.6" y1="256" x2="568" y2="256" stroke="#000" stroke-width="1.3" />
<circle cx="558" cy="240" r="2.6" fill="#000"/>
<circle cx="551.6" cy="255" r="2.6" fill="#000"/>
<circle cx="558" cy="254" r="2.6" fill="#000"/>
<circle cx="560" cy="258" r="2.6" fill="#000"/>
<circle cx="565" cy="262" r="2.6" fill="#000"/>
<line x1="591.4" y1="352.2" x2="591.4" y2="364.8" stroke="#000" stroke-width="1.5" />
<line x1="587.3" y1="352.2" x2="596.6" y2="352.2" stroke="#000" stroke-width="1.5" />
<circle cx="591.4" cy="352.2" r="2.5" fill="#000"/>
<line x1="582.6" y1="364.6" x2="601.5" y2="364.6" stroke="#000" stroke-width="2.6" />
<line x1="623" y1="338.4" x2="623" y2="345.4" stroke="#000" stroke-width="1.5" />
<line x1="618.5" y1="338.4" x2="627.5" y2="338.4" stroke="#000" stroke-width="1.5" />
<rect x="613.8" y="345.4" width="18.7" height="19.4" fill="#fff" stroke="#000" stroke-width="1.6" />
<circle cx="623" cy="338.4" r="2.5" fill="#000"/>
<circle cx="623" cy="347.6" r="2.5" fill="#000"/>
<text x="-0.26" y="434.34" font-size="16.00" font-weight="bold" fill="#000" textLength="9.15" lengthAdjust="spacingAndGlyphs" >e</text>
<text x="57.24" y="437.89" font-size="15.29" font-weight="bold" fill="#000" textLength="171.36" lengthAdjust="spacingAndGlyphs" >SARS-CoV-2 (ancestral)</text>
<line x1="57.1" y1="439.7" x2="228.4" y2="439.7" stroke="#8a8a8a" stroke-width="1.5" />
<line x1="40.7" y1="445.7" x2="40.7" y2="575.275" stroke="#000" stroke-width="1.75" />
<line x1="36.1" y1="445.7" x2="40.7" y2="445.7" stroke="#000" stroke-width="1.4" />
<text x="34.00" y="449.20" font-size="9.60" font-weight="bold" fill="#000" text-anchor="end" textLength="14.71" lengthAdjust="spacingAndGlyphs">110</text>
<line x1="36.1" y1="477.87" x2="40.7" y2="477.87" stroke="#000" stroke-width="1.4" />
<text x="34.00" y="481.37" font-size="9.60" font-weight="bold" fill="#000" text-anchor="end" textLength="15.22" lengthAdjust="spacingAndGlyphs">100</text>
<line x1="36.1" y1="510.03999999999996" x2="40.7" y2="510.03999999999996" stroke="#000" stroke-width="1.4" />
<text x="34.00" y="513.54" font-size="9.60" font-weight="bold" fill="#000" text-anchor="end" textLength="10.14" lengthAdjust="spacingAndGlyphs">90</text>
<line x1="36.1" y1="542.21" x2="40.7" y2="542.21" stroke="#000" stroke-width="1.4" />
<text x="34.00" y="545.71" font-size="9.60" font-weight="bold" fill="#000" text-anchor="end" textLength="10.14" lengthAdjust="spacingAndGlyphs">80</text>
<line x1="36.1" y1="574.38" x2="40.7" y2="574.38" stroke="#000" stroke-width="1.4" />
<text x="34.00" y="577.88" font-size="9.60" font-weight="bold" fill="#000" text-anchor="end" textLength="10.14" lengthAdjust="spacingAndGlyphs">70</text>
<line x1="40.7" y1="574.4" x2="233" y2="574.4" stroke="#000" stroke-width="1.75" />
<line x1="41.1" y1="574.4" x2="41.1" y2="579" stroke="#000" stroke-width="1.4" />
<text x="41.10" y="589.60" font-size="9.30" font-weight="bold" fill="#000" text-anchor="middle" textLength="5.17" lengthAdjust="spacingAndGlyphs">0</text>
<line x1="68.27142857142857" y1="574.4" x2="68.27142857142857" y2="579" stroke="#000" stroke-width="1.4" />
<text x="68.27" y="589.60" font-size="9.30" font-weight="bold" fill="#000" text-anchor="middle" textLength="5.17" lengthAdjust="spacingAndGlyphs">2</text>
<line x1="95.44285714285715" y1="574.4" x2="95.44285714285715" y2="579" stroke="#000" stroke-width="1.4" />
<text x="95.44" y="589.60" font-size="9.30" font-weight="bold" fill="#000" text-anchor="middle" textLength="5.17" lengthAdjust="spacingAndGlyphs">4</text>
<line x1="122.61428571428573" y1="574.4" x2="122.61428571428573" y2="579" stroke="#000" stroke-width="1.4" />
<text x="122.61" y="589.60" font-size="9.30" font-weight="bold" fill="#000" text-anchor="middle" textLength="5.17" lengthAdjust="spacingAndGlyphs">6</text>
<line x1="149.7857142857143" y1="574.4" x2="149.7857142857143" y2="579" stroke="#000" stroke-width="1.4" />
<text x="149.79" y="589.60" font-size="9.30" font-weight="bold" fill="#000" text-anchor="middle" textLength="5.17" lengthAdjust="spacingAndGlyphs">8</text>
<line x1="176.95714285714286" y1="574.4" x2="176.95714285714286" y2="579" stroke="#000" stroke-width="1.4" />
<text x="176.96" y="589.60" font-size="9.30" font-weight="bold" fill="#000" text-anchor="middle" textLength="10.34" lengthAdjust="spacingAndGlyphs">10</text>
<line x1="204.12857142857143" y1="574.4" x2="204.12857142857143" y2="579" stroke="#000" stroke-width="1.4" />
<text x="204.13" y="589.60" font-size="9.30" font-weight="bold" fill="#000" text-anchor="middle" textLength="10.34" lengthAdjust="spacingAndGlyphs">12</text>
<line x1="231.3" y1="574.4" x2="231.3" y2="579" stroke="#000" stroke-width="1.4" />
<text x="231.30" y="589.60" font-size="9.30" font-weight="bold" fill="#000" text-anchor="middle" textLength="10.34" lengthAdjust="spacingAndGlyphs">14</text>
<text x="79.60" y="604.77" font-size="11.55" font-weight="bold" fill="#000" textLength="115.19" lengthAdjust="spacingAndGlyphs" >days post-infection</text>
<text x="0" y="0" transform="translate(15.64 559.61) rotate(-90)" font-size="13.16" font-weight="bold" fill="#000" textLength="88.10" lengthAdjust="spacingAndGlyphs">% body weight</text>
<line x1="54.68571428571429" y1="471.5" x2="54.68571428571429" y2="479" stroke="#a5a5a5" stroke-width="1.5" />
<line x1="52.08571428571429" y1="471.5" x2="57.28571428571429" y2="471.5" stroke="#a5a5a5" stroke-width="1.5" />
<line x1="52.08571428571429" y1="479" x2="57.28571428571429" y2="479" stroke="#a5a5a5" stroke-width="1.5" />
<line x1="68.27142857142857" y1="468" x2="68.27142857142857" y2="479" stroke="#a5a5a5" stroke-width="1.5" />
<line x1="65.67142857142858" y1="468" x2="70.87142857142857" y2="468" stroke="#a5a5a5" stroke-width="1.5" />
<line x1="65.67142857142858" y1="479" x2="70.87142857142857" y2="479" stroke="#a5a5a5" stroke-width="1.5" />
<line x1="81.85714285714286" y1="467.5" x2="81.85714285714286" y2="478.5" stroke="#a5a5a5" stroke-width="1.5" />
<line x1="79.25714285714287" y1="467.5" x2="84.45714285714286" y2="467.5" stroke="#a5a5a5" stroke-width="1.5" />
<line x1="79.25714285714287" y1="478.5" x2="84.45714285714286" y2="478.5" stroke="#a5a5a5" stroke-width="1.5" />
<line x1="95.44285714285715" y1="463" x2="95.44285714285715" y2="480" stroke="#a5a5a5" stroke-width="1.5" />
<line x1="92.84285714285716" y1="463" x2="98.04285714285714" y2="463" stroke="#a5a5a5" stroke-width="1.5" />
<line x1="92.84285714285716" y1="480" x2="98.04285714285714" y2="480" stroke="#a5a5a5" stroke-width="1.5" />
<line x1="109.02857142857144" y1="465" x2="109.02857142857144" y2="479" stroke="#a5a5a5" stroke-width="1.5" />
<line x1="106.42857142857144" y1="465" x2="111.62857142857143" y2="465" stroke="#a5a5a5" stroke-width="1.5" />
<line x1="106.42857142857144" y1="479" x2="111.62857142857143" y2="479" stroke="#a5a5a5" stroke-width="1.5" />
<line x1="122.61428571428573" y1="465" x2="122.61428571428573" y2="478.5" stroke="#a5a5a5" stroke-width="1.5" />
<line x1="120.01428571428573" y1="465" x2="125.21428571428572" y2="465" stroke="#a5a5a5" stroke-width="1.5" />
<line x1="120.01428571428573" y1="478.5" x2="125.21428571428572" y2="478.5" stroke="#a5a5a5" stroke-width="1.5" />
<line x1="136.20000000000002" y1="466" x2="136.20000000000002" y2="479" stroke="#a5a5a5" stroke-width="1.5" />
<line x1="133.60000000000002" y1="466" x2="138.8" y2="466" stroke="#a5a5a5" stroke-width="1.5" />
<line x1="133.60000000000002" y1="479" x2="138.8" y2="479" stroke="#a5a5a5" stroke-width="1.5" />
<line x1="149.7857142857143" y1="465" x2="149.7857142857143" y2="478" stroke="#a5a5a5" stroke-width="1.5" />
<line x1="147.1857142857143" y1="465" x2="152.3857142857143" y2="465" stroke="#a5a5a5" stroke-width="1.5" />
<line x1="147.1857142857143" y1="478" x2="152.3857142857143" y2="478" stroke="#a5a5a5" stroke-width="1.5" />
<line x1="163.3714285714286" y1="467" x2="163.3714285714286" y2="480" stroke="#a5a5a5" stroke-width="1.5" />
<line x1="160.7714285714286" y1="467" x2="165.9714285714286" y2="467" stroke="#a5a5a5" stroke-width="1.5" />
<line x1="160.7714285714286" y1="480" x2="165.9714285714286" y2="480" stroke="#a5a5a5" stroke-width="1.5" />
<line x1="176.95714285714286" y1="467" x2="176.95714285714286" y2="480" stroke="#a5a5a5" stroke-width="1.5" />
<line x1="174.35714285714286" y1="467" x2="179.55714285714285" y2="467" stroke="#a5a5a5" stroke-width="1.5" />
<line x1="174.35714285714286" y1="480" x2="179.55714285714285" y2="480" stroke="#a5a5a5" stroke-width="1.5" />
<line x1="190.54285714285714" y1="466" x2="190.54285714285714" y2="479" stroke="#a5a5a5" stroke-width="1.5" />
<line x1="187.94285714285715" y1="466" x2="193.14285714285714" y2="466" stroke="#a5a5a5" stroke-width="1.5" />
<line x1="187.94285714285715" y1="479" x2="193.14285714285714" y2="479" stroke="#a5a5a5" stroke-width="1.5" />
<line x1="204.12857142857143" y1="466" x2="204.12857142857143" y2="479" stroke="#a5a5a5" stroke-width="1.5" />
<line x1="201.52857142857144" y1="466" x2="206.72857142857143" y2="466" stroke="#a5a5a5" stroke-width="1.5" />
<line x1="201.52857142857144" y1="479" x2="206.72857142857143" y2="479" stroke="#a5a5a5" stroke-width="1.5" />
<line x1="217.71428571428572" y1="464" x2="217.71428571428572" y2="478" stroke="#a5a5a5" stroke-width="1.5" />
<line x1="215.11428571428573" y1="464" x2="220.31428571428572" y2="464" stroke="#a5a5a5" stroke-width="1.5" />
<line x1="215.11428571428573" y1="478" x2="220.31428571428572" y2="478" stroke="#a5a5a5" stroke-width="1.5" />
<line x1="231.3" y1="463" x2="231.3" y2="480" stroke="#a5a5a5" stroke-width="1.5" />
<line x1="228.70000000000002" y1="463" x2="233.9" y2="463" stroke="#a5a5a5" stroke-width="1.5" />
<line x1="228.70000000000002" y1="480" x2="233.9" y2="480" stroke="#a5a5a5" stroke-width="1.5" />
<polyline points="41.1,477.9 54.68571428571429,475.5 68.27142857142857,473.8 81.85714285714286,473 95.44285714285715,471.5 109.02857142857144,472 122.61428571428573,471.8 136.20000000000002,472.5 149.7857142857143,471.7 163.3714285714286,473.8 176.95714285714286,473.8 190.54285714285714,472.5 204.12857142857143,472.5 217.71428571428572,470.9 231.3,470" fill="none" stroke="#a5a5a5" stroke-width="2.3" stroke-linejoin="round"/>
<path d="M38.0 475.10999999999996 L41.1 480.69 L44.2 475.10999999999996Z" fill="#a5a5a5"/>
<path d="M51.58571428571429 472.71 L54.68571428571429 478.29 L57.78571428571429 472.71Z" fill="#a5a5a5"/>
<path d="M65.17142857142858 471.01 L68.27142857142857 476.59000000000003 L71.37142857142857 471.01Z" fill="#a5a5a5"/>
<path d="M78.75714285714287 470.21 L81.85714285714286 475.79 L84.95714285714286 470.21Z" fill="#a5a5a5"/>
<path d="M92.34285714285716 468.71 L95.44285714285715 474.29 L98.54285714285714 468.71Z" fill="#a5a5a5"/>
<path d="M105.92857142857144 469.21 L109.02857142857144 474.79 L112.12857142857143 469.21Z" fill="#a5a5a5"/>
<path d="M119.51428571428573 469.01 L122.61428571428573 474.59000000000003 L125.71428571428572 469.01Z" fill="#a5a5a5"/>
<path d="M133.10000000000002 469.71 L136.20000000000002 475.29 L139.3 469.71Z" fill="#a5a5a5"/>
<path d="M146.6857142857143 468.90999999999997 L149.7857142857143 474.49 L152.8857142857143 468.90999999999997Z" fill="#a5a5a5"/>
<path d="M160.2714285714286 471.01 L163.3714285714286 476.59000000000003 L166.4714285714286 471.01Z" fill="#a5a5a5"/>
<path d="M173.85714285714286 471.01 L176.95714285714286 476.59000000000003 L180.05714285714285 471.01Z" fill="#a5a5a5"/>
<path d="M187.44285714285715 469.71 L190.54285714285714 475.29 L193.64285714285714 469.71Z" fill="#a5a5a5"/>
<path d="M201.02857142857144 469.71 L204.12857142857143 475.29 L207.22857142857143 469.71Z" fill="#a5a5a5"/>
<path d="M214.61428571428573 468.10999999999996 L217.71428571428572 473.69 L220.81428571428572 468.10999999999996Z" fill="#a5a5a5"/>
<path d="M228.20000000000002 467.21 L231.3 472.79 L234.4 467.21Z" fill="#a5a5a5"/>
<line x1="54.68571428571429" y1="476.5" x2="54.68571428571429" y2="480.5" stroke="#000" stroke-width="1.5" />
<line x1="52.08571428571429" y1="476.5" x2="57.28571428571429" y2="476.5" stroke="#000" stroke-width="1.5" />
<line x1="52.08571428571429" y1="480.5" x2="57.28571428571429" y2="480.5" stroke="#000" stroke-width="1.5" />
<line x1="68.27142857142857" y1="476" x2="68.27142857142857" y2="479" stroke="#000" stroke-width="1.5" />
<line x1="65.67142857142858" y1="476" x2="70.87142857142857" y2="476" stroke="#000" stroke-width="1.5" />
<line x1="65.67142857142858" y1="479" x2="70.87142857142857" y2="479" stroke="#000" stroke-width="1.5" />
<line x1="81.85714285714286" y1="484.2" x2="81.85714285714286" y2="495" stroke="#000" stroke-width="1.5" />
<line x1="79.25714285714287" y1="484.2" x2="84.45714285714286" y2="484.2" stroke="#000" stroke-width="1.5" />
<line x1="79.25714285714287" y1="495" x2="84.45714285714286" y2="495" stroke="#000" stroke-width="1.5" />
<line x1="95.44285714285715" y1="501.5" x2="95.44285714285715" y2="518" stroke="#000" stroke-width="1.5" />
<line x1="92.84285714285716" y1="501.5" x2="98.04285714285714" y2="501.5" stroke="#000" stroke-width="1.5" />
<line x1="92.84285714285716" y1="518" x2="98.04285714285714" y2="518" stroke="#000" stroke-width="1.5" />
<line x1="109.02857142857144" y1="516" x2="109.02857142857144" y2="533" stroke="#000" stroke-width="1.5" />
<line x1="106.42857142857144" y1="516" x2="111.62857142857143" y2="516" stroke="#000" stroke-width="1.5" />
<line x1="106.42857142857144" y1="533" x2="111.62857142857143" y2="533" stroke="#000" stroke-width="1.5" />
<line x1="122.61428571428573" y1="533.3" x2="122.61428571428573" y2="552.1" stroke="#000" stroke-width="1.5" />
<line x1="120.01428571428573" y1="533.3" x2="125.21428571428572" y2="533.3" stroke="#000" stroke-width="1.5" />
<line x1="120.01428571428573" y1="552.1" x2="125.21428571428572" y2="552.1" stroke="#000" stroke-width="1.5" />
<polyline points="41.1,477.9 54.68571428571429,478.6 68.27142857142857,477.2 81.85714285714286,489.7 95.44285714285715,510.7 109.02857142857144,525.2 122.61428571428573,542.9 136.20000000000002,549.5" fill="none" stroke="#000" stroke-width="2.2" stroke-linejoin="round"/>
<path d="M37.5 481.14 L41.1 474.65999999999997 L44.7 481.14Z" fill="#000"/>
<path d="M51.08571428571429 481.84000000000003 L54.68571428571429 475.36 L58.28571428571429 481.84000000000003Z" fill="#000"/>
<path d="M64.67142857142858 480.44 L68.27142857142857 473.96 L71.87142857142857 480.44Z" fill="#000"/>
<path d="M78.25714285714287 492.94 L81.85714285714286 486.46 L85.45714285714286 492.94Z" fill="#000"/>
<path d="M91.84285714285716 513.9399999999999 L95.44285714285715 507.46 L99.04285714285714 513.9399999999999Z" fill="#000"/>
<path d="M105.42857142857144 528.44 L109.02857142857144 521.96 L112.62857142857143 528.44Z" fill="#000"/>
<path d="M119.01428571428573 546.14 L122.61428571428573 539.66 L126.21428571428572 546.14Z" fill="#000"/>
<path d="M132.60000000000002 552.74 L136.20000000000002 546.26 L139.8 552.74Z" fill="#000"/>
<line x1="54.68571428571429" y1="473" x2="54.68571428571429" y2="483.7" stroke="#fb670f" stroke-width="1.6" />
<line x1="51.88571428571429" y1="473" x2="57.48571428571429" y2="473" stroke="#fb670f" stroke-width="1.6" />
<line x1="51.88571428571429" y1="483.7" x2="57.48571428571429" y2="483.7" stroke="#fb670f" stroke-width="1.6" />
<line x1="68.27142857142857" y1="464.6" x2="68.27142857142857" y2="481.4" stroke="#fb670f" stroke-width="1.6" />
<line x1="65.47142857142858" y1="464.6" x2="71.07142857142857" y2="464.6" stroke="#fb670f" stroke-width="1.6" />
<line x1="65.47142857142858" y1="481.4" x2="71.07142857142857" y2="481.4" stroke="#fb670f" stroke-width="1.6" />
<line x1="81.85714285714286" y1="466.9" x2="81.85714285714286" y2="482.2" stroke="#fb670f" stroke-width="1.6" />
<line x1="79.05714285714286" y1="466.9" x2="84.65714285714286" y2="466.9" stroke="#fb670f" stroke-width="1.6" />
<line x1="79.05714285714286" y1="482.2" x2="84.65714285714286" y2="482.2" stroke="#fb670f" stroke-width="1.6" />
<line x1="95.44285714285715" y1="459.2" x2="95.44285714285715" y2="479.1" stroke="#fb670f" stroke-width="1.6" />
<line x1="92.64285714285715" y1="459.2" x2="98.24285714285715" y2="459.2" stroke="#fb670f" stroke-width="1.6" />
<line x1="92.64285714285715" y1="479.1" x2="98.24285714285715" y2="479.1" stroke="#fb670f" stroke-width="1.6" />
<line x1="109.02857142857144" y1="461.5" x2="109.02857142857144" y2="477.3" stroke="#fb670f" stroke-width="1.6" />
<line x1="106.22857142857144" y1="461.5" x2="111.82857142857144" y2="461.5" stroke="#fb670f" stroke-width="1.6" />
<line x1="106.22857142857144" y1="477.3" x2="111.82857142857144" y2="477.3" stroke="#fb670f" stroke-width="1.6" />
<line x1="122.61428571428573" y1="459.5" x2="122.61428571428573" y2="476" stroke="#fb670f" stroke-width="1.6" />
<line x1="119.81428571428573" y1="459.5" x2="125.41428571428573" y2="459.5" stroke="#fb670f" stroke-width="1.6" />
<line x1="119.81428571428573" y1="476" x2="125.41428571428573" y2="476" stroke="#fb670f" stroke-width="1.6" />
<line x1="136.20000000000002" y1="457.7" x2="136.20000000000002" y2="474.9" stroke="#fb670f" stroke-width="1.6" />
<line x1="133.4" y1="457.7" x2="139.00000000000003" y2="457.7" stroke="#fb670f" stroke-width="1.6" />
<line x1="133.4" y1="474.9" x2="139.00000000000003" y2="474.9" stroke="#fb670f" stroke-width="1.6" />
<line x1="149.7857142857143" y1="461" x2="149.7857142857143" y2="477" stroke="#fb670f" stroke-width="1.6" />
<line x1="146.9857142857143" y1="461" x2="152.58571428571432" y2="461" stroke="#fb670f" stroke-width="1.6" />
<line x1="146.9857142857143" y1="477" x2="152.58571428571432" y2="477" stroke="#fb670f" stroke-width="1.6" />
<line x1="163.3714285714286" y1="460.4" x2="163.3714285714286" y2="477" stroke="#fb670f" stroke-width="1.6" />
<line x1="160.57142857142858" y1="460.4" x2="166.1714285714286" y2="460.4" stroke="#fb670f" stroke-width="1.6" />
<line x1="160.57142857142858" y1="477" x2="166.1714285714286" y2="477" stroke="#fb670f" stroke-width="1.6" />
<line x1="176.95714285714286" y1="461" x2="176.95714285714286" y2="474.9" stroke="#fb670f" stroke-width="1.6" />
<line x1="174.15714285714284" y1="461" x2="179.75714285714287" y2="461" stroke="#fb670f" stroke-width="1.6" />
<line x1="174.15714285714284" y1="474.9" x2="179.75714285714287" y2="474.9" stroke="#fb670f" stroke-width="1.6" />
<line x1="190.54285714285714" y1="458.4" x2="190.54285714285714" y2="473.3" stroke="#fb670f" stroke-width="1.6" />
<line x1="187.74285714285713" y1="458.4" x2="193.34285714285716" y2="458.4" stroke="#fb670f" stroke-width="1.6" />
<line x1="187.74285714285713" y1="473.3" x2="193.34285714285716" y2="473.3" stroke="#fb670f" stroke-width="1.6" />
<line x1="204.12857142857143" y1="460" x2="204.12857142857143" y2="476" stroke="#fb670f" stroke-width="1.6" />
<line x1="201.32857142857142" y1="460" x2="206.92857142857144" y2="460" stroke="#fb670f" stroke-width="1.6" />
<line x1="201.32857142857142" y1="476" x2="206.92857142857144" y2="476" stroke="#fb670f" stroke-width="1.6" />
<line x1="217.71428571428572" y1="461.6" x2="217.71428571428572" y2="474.9" stroke="#fb670f" stroke-width="1.6" />
<line x1="214.9142857142857" y1="461.6" x2="220.51428571428573" y2="461.6" stroke="#fb670f" stroke-width="1.6" />
<line x1="214.9142857142857" y1="474.9" x2="220.51428571428573" y2="474.9" stroke="#fb670f" stroke-width="1.6" />
<line x1="231.3" y1="461.2" x2="231.3" y2="474.9" stroke="#fb670f" stroke-width="1.6" />
<line x1="228.5" y1="461.2" x2="234.10000000000002" y2="461.2" stroke="#fb670f" stroke-width="1.6" />
<line x1="228.5" y1="474.9" x2="234.10000000000002" y2="474.9" stroke="#fb670f" stroke-width="1.6" />
<polyline points="41.1,477.9 54.68571428571429,478.4 68.27142857142857,472.2 81.85714285714286,474.5 95.44285714285715,468.7 109.02857142857144,469.2 122.61428571428573,468.1 136.20000000000002,466.4 149.7857142857143,469 163.3714285714286,469 176.95714285714286,467.3 190.54285714285714,465.7 204.12857142857143,468.1 217.71428571428572,468.5 231.3,468" fill="none" stroke="#fb670f" stroke-width="2.8" stroke-linejoin="round"/>
<circle cx="41.1" cy="477.9" r="3.7" fill="#fb670f"/>
<circle cx="54.68571428571429" cy="478.4" r="3.7" fill="#fb670f"/>
<circle cx="68.27142857142857" cy="472.2" r="3.7" fill="#fb670f"/>
<circle cx="81.85714285714286" cy="474.5" r="3.7" fill="#fb670f"/>
<circle cx="95.44285714285715" cy="468.7" r="3.7" fill="#fb670f"/>
<circle cx="109.02857142857144" cy="469.2" r="3.7" fill="#fb670f"/>
<circle cx="122.61428571428573" cy="468.1" r="3.7" fill="#fb670f"/>
<circle cx="136.20000000000002" cy="466.4" r="3.7" fill="#fb670f"/>
<circle cx="149.7857142857143" cy="469" r="3.7" fill="#fb670f"/>
<circle cx="163.3714285714286" cy="469" r="3.7" fill="#fb670f"/>
<circle cx="176.95714285714286" cy="467.3" r="3.7" fill="#fb670f"/>
<circle cx="190.54285714285714" cy="465.7" r="3.7" fill="#fb670f"/>
<circle cx="204.12857142857143" cy="468.1" r="3.7" fill="#fb670f"/>
<circle cx="217.71428571428572" cy="468.5" r="3.7" fill="#fb670f"/>
<circle cx="231.3" cy="468" r="3.7" fill="#fb670f"/>
<line x1="156.9" y1="520.5" x2="170.9" y2="520.5" stroke="#a5a5a5" stroke-width="2.2" />
<path d="M160.8 517.71 L163.9 523.29 L167.0 517.71Z" fill="#a5a5a5"/>
<line x1="156.9" y1="536.1" x2="170.9" y2="536.1" stroke="#000" stroke-width="2.2" />
<path d="M160.6 539.07 L163.9 533.13 L167.20000000000002 539.07Z" fill="#000"/>
<line x1="156.9" y1="551.4" x2="170.9" y2="551.4" stroke="#fb670f" stroke-width="2.4" />
<circle cx="163.9" cy="551.4" r="3.6" fill="#fb670f"/>
<text x="178.25" y="524.50" font-size="9.52" font-weight="bold" fill="#000" textLength="26.07" lengthAdjust="spacingAndGlyphs" >mock</text>
<text x="178.23" y="540.00" font-size="9.80" font-weight="bold" fill="#000" textLength="64.49" lengthAdjust="spacingAndGlyphs" >mock/SARS2</text>
<text x="178.21" y="554.61" font-size="9.53" font-weight="bold" fill="#000" textLength="59.14" lengthAdjust="spacingAndGlyphs" >IBIS/SARS2</text>
<text x="257.76" y="438.40" font-size="15.17" font-weight="bold" fill="#000" textLength="5.41" lengthAdjust="spacingAndGlyphs" >f</text>
<text x="306.84" y="437.89" font-size="15.29" font-weight="bold" fill="#000" textLength="171.76" lengthAdjust="spacingAndGlyphs" >SARS-CoV-2 (ancestral)</text>
<line x1="306.6" y1="439.7" x2="478.4" y2="439.7" stroke="#8a8a8a" stroke-width="1.5" />
<line x1="292.1" y1="444.5" x2="292.1" y2="575.375" stroke="#000" stroke-width="1.75" />
<line x1="287.5" y1="452.7" x2="292.1" y2="452.7" stroke="#000" stroke-width="1.4" />
<text x="286.60" y="456.30" font-size="9.80" font-weight="bold" fill="#000" text-anchor="end" textLength="15.53" lengthAdjust="spacingAndGlyphs">100</text>
<line x1="287.5" y1="477.06" x2="292.1" y2="477.06" stroke="#000" stroke-width="1.4" />
<text x="286.60" y="480.66" font-size="9.80" font-weight="bold" fill="#000" text-anchor="end" textLength="10.36" lengthAdjust="spacingAndGlyphs">80</text>
<line x1="287.5" y1="501.42" x2="292.1" y2="501.42" stroke="#000" stroke-width="1.4" />
<text x="286.60" y="505.02" font-size="9.80" font-weight="bold" fill="#000" text-anchor="end" textLength="10.36" lengthAdjust="spacingAndGlyphs">60</text>
<line x1="287.5" y1="525.78" x2="292.1" y2="525.78" stroke="#000" stroke-width="1.4" />
<text x="286.60" y="529.38" font-size="9.80" font-weight="bold" fill="#000" text-anchor="end" textLength="10.36" lengthAdjust="spacingAndGlyphs">40</text>
<line x1="287.5" y1="550.14" x2="292.1" y2="550.14" stroke="#000" stroke-width="1.4" />
<text x="286.60" y="553.74" font-size="9.80" font-weight="bold" fill="#000" text-anchor="end" textLength="10.36" lengthAdjust="spacingAndGlyphs">20</text>
<line x1="287.5" y1="574.5" x2="292.1" y2="574.5" stroke="#000" stroke-width="1.4" />
<text x="286.60" y="578.10" font-size="9.80" font-weight="bold" fill="#000" text-anchor="end" textLength="5.18" lengthAdjust="spacingAndGlyphs">0</text>
<line x1="292.1" y1="574.5" x2="486" y2="574.5" stroke="#000" stroke-width="1.75" />
<line x1="292.1" y1="574.5" x2="292.1" y2="579" stroke="#000" stroke-width="1.4" />
<text x="292.10" y="589.40" font-size="9.30" font-weight="bold" fill="#000" text-anchor="middle" textLength="5.17" lengthAdjust="spacingAndGlyphs">0</text>
<line x1="319.3" y1="574.5" x2="319.3" y2="579" stroke="#000" stroke-width="1.4" />
<text x="319.30" y="589.40" font-size="9.30" font-weight="bold" fill="#000" text-anchor="middle" textLength="5.17" lengthAdjust="spacingAndGlyphs">2</text>
<line x1="346.5" y1="574.5" x2="346.5" y2="579" stroke="#000" stroke-width="1.4" />
<text x="346.50" y="589.40" font-size="9.30" font-weight="bold" fill="#000" text-anchor="middle" textLength="5.17" lengthAdjust="spacingAndGlyphs">4</text>
<line x1="373.70000000000005" y1="574.5" x2="373.70000000000005" y2="579" stroke="#000" stroke-width="1.4" />
<text x="373.70" y="589.40" font-size="9.30" font-weight="bold" fill="#000" text-anchor="middle" textLength="5.17" lengthAdjust="spacingAndGlyphs">6</text>
<line x1="400.90000000000003" y1="574.5" x2="400.90000000000003" y2="579" stroke="#000" stroke-width="1.4" />
<text x="400.90" y="589.40" font-size="9.30" font-weight="bold" fill="#000" text-anchor="middle" textLength="5.17" lengthAdjust="spacingAndGlyphs">8</text>
<line x1="428.1" y1="574.5" x2="428.1" y2="579" stroke="#000" stroke-width="1.4" />
<text x="428.10" y="589.40" font-size="9.30" font-weight="bold" fill="#000" text-anchor="middle" textLength="10.34" lengthAdjust="spacingAndGlyphs">10</text>
<line x1="455.3" y1="574.5" x2="455.3" y2="579" stroke="#000" stroke-width="1.4" />
<text x="455.30" y="589.40" font-size="9.30" font-weight="bold" fill="#000" text-anchor="middle" textLength="10.34" lengthAdjust="spacingAndGlyphs">12</text>
<line x1="482.5" y1="574.5" x2="482.5" y2="579" stroke="#000" stroke-width="1.4" />
<text x="482.50" y="589.40" font-size="9.30" font-weight="bold" fill="#000" text-anchor="middle" textLength="10.34" lengthAdjust="spacingAndGlyphs">14</text>
<text x="331.00" y="604.77" font-size="11.55" font-weight="bold" fill="#000" textLength="115.29" lengthAdjust="spacingAndGlyphs" >days post-infection</text>
<text x="0" y="0" transform="translate(268.97 544.61) rotate(-90)" font-size="13.20" font-weight="bold" fill="#000" textLength="61.96" lengthAdjust="spacingAndGlyphs">% survival</text>
<polyline points="292.1,451.6 482.5,451.6" fill="none" stroke="#b0b0b0" stroke-width="1.6" stroke-linejoin="round"/>
<path d="M479.4 448.71 L482.5 454.29 L485.6 448.71Z" fill="#a5a5a5"/>
<polyline points="292.1,451.7 360.1,451.7 360.1,470.1174 387.3,470.1174 387.3,522.2478 400.90000000000003,522.2478 400.90000000000003,574.5" fill="none" stroke="#000" stroke-width="1.7" stroke-linejoin="round"/>
<polyline points="292.1,453.1 482.5,453.1" fill="none" stroke="#fb670f" stroke-width="2.0" stroke-linejoin="round"/>
<path d="M356.40000000000003 473.74739999999997 L360.1 467.0874 L363.8 473.74739999999997Z" fill="#000"/>
<path d="M383.6 525.8778 L387.3 519.2177999999999 L391.0 525.8778Z" fill="#000"/>
<path d="M397.20000000000005 576.5300000000001 L400.90000000000003 569.87 L404.6 576.5300000000001Z" fill="#000"/>
<circle cx="482.5" cy="453" r="3.6" fill="#fb670f"/>
<line x1="414.6" y1="520.5" x2="428.6" y2="520.5" stroke="#a5a5a5" stroke-width="2.2" />
<path d="M418.5 517.71 L421.6 523.29 L424.70000000000005 517.71Z" fill="#a5a5a5"/>
<line x1="414.6" y1="536.1" x2="428.6" y2="536.1" stroke="#000" stroke-width="2.2" />
<path d="M418.3 539.07 L421.6 533.13 L424.90000000000003 539.07Z" fill="#000"/>
<line x1="414.6" y1="551.4" x2="428.6" y2="551.4" stroke="#fb670f" stroke-width="2.4" />
<circle cx="421.6" cy="551.4" r="3.6" fill="#fb670f"/>
<text x="435.95" y="524.50" font-size="9.52" font-weight="bold" fill="#000" textLength="26.07" lengthAdjust="spacingAndGlyphs" >mock</text>
<text x="435.93" y="540.00" font-size="9.80" font-weight="bold" fill="#000" textLength="64.49" lengthAdjust="spacingAndGlyphs" >mock/SARS2</text>
<text x="435.91" y="554.61" font-size="9.53" font-weight="bold" fill="#000" textLength="59.14" lengthAdjust="spacingAndGlyphs" >IBIS/SARS2</text>
<text x="512.17" y="439.34" font-size="15.07" font-weight="bold" fill="#000" textLength="9.56" lengthAdjust="spacingAndGlyphs" >g</text>
<text x="566.34" y="436.57" font-size="14.44" font-weight="bold" fill="#000" textLength="99.84" lengthAdjust="spacingAndGlyphs" >lung viral titer</text>
<line x1="554.8" y1="451.90000000000003" x2="554.8" y2="575.275" stroke="#000" stroke-width="1.75" />
<line x1="550.1999999999999" y1="452.6" x2="554.8" y2="452.6" stroke="#000" stroke-width="1.4" />
<text x="532.61" y="455.61" font-size="9.30" font-weight="bold" fill="#000" textLength="11.01" lengthAdjust="spacingAndGlyphs" >10</text>
<text x="544.95" y="451.40" font-size="8.40" font-weight="bold" fill="#000" text-anchor="start" textLength="4.67" lengthAdjust="spacingAndGlyphs">8</text>
<line x1="550.1999999999999" y1="472.90000000000003" x2="554.8" y2="472.90000000000003" stroke="#000" stroke-width="1.4" />
<text x="532.61" y="475.91" font-size="9.30" font-weight="bold" fill="#000" textLength="11.01" lengthAdjust="spacingAndGlyphs" >10</text>
<text x="544.86" y="471.70" font-size="8.40" font-weight="bold" fill="#000" text-anchor="start" textLength="4.67" lengthAdjust="spacingAndGlyphs">7</text>
<line x1="550.1999999999999" y1="493.2" x2="554.8" y2="493.2" stroke="#000" stroke-width="1.4" />
<text x="532.61" y="496.21" font-size="9.30" font-weight="bold" fill="#000" textLength="11.01" lengthAdjust="spacingAndGlyphs" >10</text>
<text x="544.91" y="492.00" font-size="8.40" font-weight="bold" fill="#000" text-anchor="start" textLength="4.67" lengthAdjust="spacingAndGlyphs">6</text>
<line x1="550.1999999999999" y1="513.5" x2="554.8" y2="513.5" stroke="#000" stroke-width="1.4" />
<text x="532.61" y="516.51" font-size="9.30" font-weight="bold" fill="#000" textLength="11.01" lengthAdjust="spacingAndGlyphs" >10</text>
<text x="544.95" y="512.30" font-size="8.40" font-weight="bold" fill="#000" text-anchor="start" textLength="4.67" lengthAdjust="spacingAndGlyphs">5</text>
<line x1="550.1999999999999" y1="533.8" x2="554.8" y2="533.8" stroke="#000" stroke-width="1.4" />
<text x="532.61" y="536.81" font-size="9.30" font-weight="bold" fill="#000" textLength="11.01" lengthAdjust="spacingAndGlyphs" >10</text>
<text x="545.07" y="532.60" font-size="8.40" font-weight="bold" fill="#000" text-anchor="start" textLength="4.67" lengthAdjust="spacingAndGlyphs">4</text>
<line x1="550.1999999999999" y1="554.1" x2="554.8" y2="554.1" stroke="#000" stroke-width="1.4" />
<text x="532.61" y="557.11" font-size="9.30" font-weight="bold" fill="#000" textLength="11.01" lengthAdjust="spacingAndGlyphs" >10</text>
<text x="544.99" y="552.90" font-size="8.40" font-weight="bold" fill="#000" text-anchor="start" textLength="4.67" lengthAdjust="spacingAndGlyphs">3</text>
<line x1="550.1999999999999" y1="574.4" x2="554.8" y2="574.4" stroke="#000" stroke-width="1.4" />
<text x="532.61" y="577.41" font-size="9.30" font-weight="bold" fill="#000" textLength="11.01" lengthAdjust="spacingAndGlyphs" >10</text>
<text x="544.91" y="573.20" font-size="8.40" font-weight="bold" fill="#000" text-anchor="start" textLength="4.67" lengthAdjust="spacingAndGlyphs">2</text>
<line x1="550.3" y1="574.4" x2="685" y2="574.4" stroke="#000" stroke-width="1.75" />
<line x1="580.7" y1="574.4" x2="580.7" y2="579" stroke="#000" stroke-width="1.4" />
<line x1="621.8" y1="574.4" x2="621.8" y2="579" stroke="#000" stroke-width="1.4" />
<line x1="662.9" y1="574.4" x2="662.9" y2="579" stroke="#000" stroke-width="1.4" />
<text x="608.83" y="572.20" font-size="12.17" font-weight="bold" fill="#000" textLength="26.92" lengthAdjust="spacingAndGlyphs" >N.D.</text>
<text x="650.56" y="572.20" font-size="12.17" font-weight="bold" fill="#000" textLength="25.95" lengthAdjust="spacingAndGlyphs" >N.D.</text>
<text x="0" y="0" transform="translate(526.25 535.65) rotate(-90)" font-size="13.58" font-weight="bold" fill="#000" textLength="37.78" lengthAdjust="spacingAndGlyphs">PFU/g</text>
<g transform="translate(581 585.6) rotate(-45)"><text x="0" y="0" font-size="10.8" font-weight="bold" text-anchor="end">mock/</text><text x="0" y="11.4" font-size="10.8" font-weight="bold" text-anchor="end">SARS2</text></g>
<g transform="translate(622 585.6) rotate(-45)"><text x="0" y="0" font-size="10.8" font-weight="bold" text-anchor="end">IBIS/</text><text x="0" y="11.4" font-size="10.8" font-weight="bold" text-anchor="end">SARS2</text></g>
<g transform="translate(663.8 585.6) rotate(-45)"><text x="0" y="0" font-size="10.8" font-weight="bold" text-anchor="end">mock/</text><text x="0" y="11.4" font-size="10.8" font-weight="bold" text-anchor="end">IBIS</text></g>
<line x1="572.2" y1="474.2" x2="590.9" y2="474.2" stroke="#000" stroke-width="1.6" />
<path d="M571.0 478.19 L574.1 472.60999999999996 L577.2 478.19Z" fill="#000"/>
<path d="M577.9 478.19 L581 472.60999999999996 L584.1 478.19Z" fill="#000"/>
<path d="M585.1999999999999 478.19 L588.3 472.60999999999996 L591.4 478.19Z" fill="#000"/>
<path d="M578.0500000000001 506.635 L581.2 500.96500000000003 L584.35 506.635Z" fill="#000"/>
<line x1="567.2" y1="478.9" x2="595.2" y2="478.9" stroke="#000" stroke-width="1.7" />
<line x1="581.2" y1="478.9" x2="581.2" y2="487.9" stroke="#000" stroke-width="1.7" />
<line x1="572.8" y1="487.9" x2="590.9" y2="487.9" stroke="#000" stroke-width="1.7" />
<defs><filter id="heWhole" x="0" y="0" width="1" height="1" color-interpolation-filters="sRGB"><feTurbulence type="fractalNoise" baseFrequency="0.05" numOctaves="2" seed="8" result="lo"/><feColorMatrix in="lo" type="matrix" values="0 0 0 0 0.651 0 0 0 0 0.369 0 0 0 0 0.478 7 0 0 0 -3.7" result="dark"/><feTurbulence type="fractalNoise" baseFrequency="0.45" numOctaves="2" seed="4" result="t"/><feColorMatrix in="t" type="matrix" values="0 0 0 0 0.847 0 0 0 0 0.737 0 0 0 0 0.776 8 0 0 0 -4.5" result="spk"/><feTurbulence type="fractalNoise" baseFrequency="0.8" numOctaves="1" seed="12" result="n"/><feColorMatrix in="n" type="matrix" values="0 0 0 0 0.557 0 0 0 0 0.322 0 0 0 0 0.502 8 0 0 0 -5.4" result="nuc"/><feMerge result="m"><feMergeNode in="dark"/><feMergeNode in="spk"/><feMergeNode in="nuc"/></feMerge><feGaussianBlur in="m" stdDeviation="0.6"/></filter><filter id="heWholeI" x="0" y="0" width="1" height="1" color-interpolation-filters="sRGB"><feTurbulence type="fractalNoise" baseFrequency="0.42" numOctaves="2" seed="14" result="t"/><feColorMatrix in="t" type="matrix" values="0 0 0 0 0.839 0 0 0 0 0.749 0 0 0 0 0.792 8 0 0 0 -4.4" result="spk"/><feTurbulence type="fractalNoise" baseFrequency="0.8" numOctaves="1" seed="22" result="n"/><feColorMatrix in="n" type="matrix" values="0 0 0 0 0.478 0 0 0 0 0.227 0 0 0 0 0.471 8 0 0 0 -5.2" result="nuc"/><feMerge result="m"><feMergeNode in="spk"/><feMergeNode in="nuc"/></feMerge><feGaussianBlur in="m" stdDeviation="0.55"/></filter><filter id="hZoom" x="0" y="0" width="1" height="1" color-interpolation-filters="sRGB"><feTurbulence type="fractalNoise" baseFrequency="0.75" numOctaves="1" seed="19" result="p"/><feColorMatrix in="p" type="matrix" values="0 0 0 0 0.812 0 0 0 0 0.525 0 0 0 0 0.659 7 0 0 0 -3.8" result="pink"/><feTurbulence type="fractalNoise" baseFrequency="0.6" numOctaves="1" seed="3" result="n"/><feColorMatrix in="n" type="matrix" values="0 0 0 0 0.322 0 0 0 0 0.133 0 0 0 0 0.373 7 0 0 0 -3.9" result="nuc"/><feTurbulence type="fractalNoise" baseFrequency="0.17" numOctaves="3" seed="7" result="h"/><feColorMatrix in="h" type="matrix" values="0 0 0 0 0.792 0 0 0 0 0.773 0 0 0 0 0.788 14 0 0 0 -8.0" result="holes"/><feMerge result="m"><feMergeNode in="pink"/><feMergeNode in="nuc"/><feMergeNode in="holes"/></feMerge><feGaussianBlur in="m" stdDeviation="0.4"/></filter><filter id="iZoom" x="0" y="0" width="1" height="1" color-interpolation-filters="sRGB"><feFlood flood-color="#b4648e" result="base"/><feTurbulence type="fractalNoise" baseFrequency="0.6" numOctaves="1" seed="23" result="n"/><feColorMatrix in="n" type="matrix" values="0 0 0 0 0.416 0 0 0 0 0.173 0 0 0 0 0.439 7 0 0 0 -3.75" result="nuc"/><feTurbulence type="fractalNoise" baseFrequency="0.2" numOctaves="2" seed="5" result="h"/><feColorMatrix in="h" type="matrix" values="0 0 0 0 0.804 0 0 0 0 0.784 0 0 0 0 0.8 13 0 0 0 -6.05" result="holes"/><feMerge result="m"><feMergeNode in="base"/><feMergeNode in="nuc"/><feMergeNode in="holes"/></feMerge><feGaussianBlur in="m" stdDeviation="0.45"/></filter><filter id="soft45" x="0" y="0" width="1" height="1" color-interpolation-filters="sRGB"><feGaussianBlur stdDeviation="0.45"/></filter><filter id="soft35" x="0" y="0" width="1" height="1" color-interpolation-filters="sRGB"><feGaussianBlur stdDeviation="0.35"/></filter><filter id="nucI" x="0" y="0" width="1" height="1" color-interpolation-filters="sRGB"><feTurbulence type="fractalNoise" baseFrequency="0.6" numOctaves="1" seed="23" result="n"/><feColorMatrix in="n" type="matrix" values="0 0 0 0 0.369 0 0 0 0 0.141 0 0 0 0 0.408 7 0 0 0 -3.9" result="nuc"/></filter><filter id="nucH" x="0" y="0" width="1" height="1" color-interpolation-filters="sRGB"><feTurbulence type="fractalNoise" baseFrequency="0.6" numOctaves="1" seed="3" result="n"/><feColorMatrix in="n" type="matrix" values="0 0 0 0 0.298 0 0 0 0 0.114 0 0 0 0 0.361 7 0 0 0 -3.5" result="nuc"/><feTurbulence type="fractalNoise" baseFrequency="0.7" numOctaves="1" seed="19" result="p"/><feColorMatrix in="p" type="matrix" values="0 0 0 0 0.816 0 0 0 0 0.541 0 0 0 0 0.659 7 0 0 0 -3.9" result="pink"/><feMerge><feMergeNode in="pink"/><feMergeNode in="nuc"/></feMerge></filter><filter id="nucH2" x="0" y="0" width="1" height="1" color-interpolation-filters="sRGB"><feTurbulence type="fractalNoise" baseFrequency="0.55" numOctaves="2" seed="3" result="n"/><feColorMatrix in="n" type="matrix" values="0 0 0 0 0.29 0 0 0 0 0.114 0 0 0 0 0.345 8 0 0 0 -4.4" result="nuc"/><feTurbulence type="fractalNoise" baseFrequency="0.6" numOctaves="1" seed="19" result="p"/><feColorMatrix in="p" type="matrix" values="0 0 0 0 0.769 0 0 0 0 0.486 0 0 0 0 0.627 7 0 0 0 -4.0" result="pink"/><feMerge result="m"><feMergeNode in="pink"/><feMergeNode in="nuc"/></feMerge><feGaussianBlur in="m" stdDeviation="0.45"/></filter><filter id="ifBright" x="0" y="0" width="1" height="1" color-interpolation-filters="sRGB"><feTurbulence type="fractalNoise" baseFrequency="0.5" numOctaves="2" seed="61" result="b"/><feColorMatrix in="b" type="matrix" values="0 0 0 0 0.251 0 0 0 0 0.188 0 0 0 0 0.941 8 0 0 0 -4.3" result="bs"/><feTurbulence type="fractalNoise" baseFrequency="0.5" numOctaves="2" seed="63" result="d"/><feColorMatrix in="d" type="matrix" values="0 0 0 0 0.102 0 0 0 0 0.047 0 0 0 0 0.627 8 0 0 0 -4.5" result="ds"/><feMerge result="m"><feMergeNode in="bs"/><feMergeNode in="ds"/></feMerge><feGaussianBlur in="m" stdDeviation="0.5"/></filter><filter id="ifI2" x="0" y="0" width="1" height="1" color-interpolation-filters="sRGB"><feTurbulence type="turbulence" baseFrequency="0.22" numOctaves="2" seed="71" result="t"/><feColorMatrix in="t" type="matrix" values="0 0 0 0 0.149 0 0 0 0 0.086 0 0 0 0 0.784 -7 0 0 0 1.45" result="lace"/><feTurbulence type="fractalNoise" baseFrequency="0.4" numOctaves="2" seed="37" result="d"/><feColorMatrix in="d" type="matrix" values="0 0 0 0 0.027 0 0 0 0 0.016 0 0 0 0 0.165 9 0 0 0 -5.0" result="ds"/><feMerge result="m"><feMergeNode in="ds"/><feMergeNode in="lace"/></feMerge><feGaussianBlur in="m" stdDeviation="0.45"/></filter><filter id="blur2" x="-0.1" y="-0.1" width="1.2" height="1.2" color-interpolation-filters="sRGB"><feGaussianBlur stdDeviation="2.2"/></filter><filter id="ifH" x="0" y="0" width="1" height="1" color-interpolation-filters="sRGB"><feTurbulence type="fractalNoise" baseFrequency="0.33" numOctaves="2" seed="17" result="d"/><feColorMatrix in="d" type="matrix" values="0 0 0 0 0.012 0 0 0 0 0.016 0 0 0 0 0.11 9 0 0 0 -4.9" result="ds"/><feTurbulence type="fractalNoise" baseFrequency="0.6" numOctaves="1" seed="27" result="b"/><feColorMatrix in="b" type="matrix" values="0 0 0 0 0.165 0 0 0 0 0.204 0 0 0 0 0.847 8 0 0 0 -4.6" result="bs"/><feMerge result="m"><feMergeNode in="bs"/><feMergeNode in="ds"/></feMerge><feGaussianBlur in="m" stdDeviation="0.5"/></filter><filter id="ifI" x="0" y="0" width="1" height="1" color-interpolation-filters="sRGB"><feTurbulence type="fractalNoise" baseFrequency="0.42" numOctaves="2" seed="37" result="d"/><feColorMatrix in="d" type="matrix" values="0 0 0 0 0.016 0 0 0 0 0.012 0 0 0 0 0.102 9 0 0 0 -5.0" result="ds"/><feTurbulence type="fractalNoise" baseFrequency="0.6" numOctaves="1" seed="29" result="b"/><feColorMatrix in="b" type="matrix" values="0 0 0 0 0.18 0 0 0 0 0.102 0 0 0 0 0.902 8 0 0 0 -4.6" result="bs"/><feMerge result="m"><feMergeNode in="bs"/><feMergeNode in="ds"/></feMerge><feGaussianBlur in="m" stdDeviation="0.5"/></filter><filter id="ifGreenP" x="0" y="0" width="1" height="1" color-interpolation-filters="sRGB"><feTurbulence type="fractalNoise" baseFrequency="0.05" numOctaves="2" seed="41" result="lo"/><feColorMatrix in="lo" type="matrix" values="0 0 0 0 0 0 0 0 0 0 0 0 0 0 0 12 0 0 0 -6.6" result="mask"/><feTurbulence type="fractalNoise" baseFrequency="0.5" numOctaves="1" seed="13" result="g"/><feColorMatrix in="g" type="matrix" values="0 0 0 0 0.204 0 0 0 0 0.816 0 0 0 0 0.643 8 0 0 0 -3.9" result="gs"/><feComposite in="gs" in2="mask" operator="in" result="gp"/><feGaussianBlur in="gp" stdDeviation="0.45"/></filter><filter id="ifGreen" x="0" y="0" width="1" height="1" color-interpolation-filters="sRGB"><feTurbulence type="fractalNoise" baseFrequency="0.42" numOctaves="2" seed="13" result="g"/><feColorMatrix in="g" type="matrix" values="0 0 0 0 0.204 0 0 0 0 0.863 0 0 0 0 0.651 9 0 0 0 -4.7" result="gs"/><feGaussianBlur in="gs" stdDeviation="0.5"/></filter><filter id="ifHoles" x="0" y="0" width="1" height="1" color-interpolation-filters="sRGB"><feTurbulence type="fractalNoise" baseFrequency="0.085" numOctaves="2" seed="5" result="h"/><feColorMatrix in="h" type="matrix" values="0 0 0 0 0.012 0 0 0 0 0.012 0 0 0 0 0.055 16 0 0 0 -9.7" result="hs"/><feGaussianBlur in="hs" stdDeviation="0.6"/></filter><filter id="ifGreenP2" x="0" y="0" width="1" height="1" color-interpolation-filters="sRGB"><feTurbulence type="fractalNoise" baseFrequency="0.07" numOctaves="2" seed="43" result="lo"/><feColorMatrix in="lo" type="matrix" values="0 0 0 0 0 0 0 0 0 0 0 0 0 0 0 6 0 0 0 -2.2" result="mask"/><feTurbulence type="fractalNoise" baseFrequency="0.42" numOctaves="2" seed="13" result="g"/><feColorMatrix in="g" type="matrix" values="0 0 0 0 0.204 0 0 0 0 0.863 0 0 0 0 0.651 10 0 0 0 -5.1" result="gs"/><feComposite in="gs" in2="mask" operator="in" result="gp"/><feGaussianBlur in="gp" stdDeviation="0.55"/></filter><filter id="ifLace" x="0" y="0" width="1" height="1" color-interpolation-filters="sRGB"><feTurbulence type="turbulence" baseFrequency="0.14" numOctaves="2" seed="9" result="t"/><feColorMatrix in="t" type="matrix" values="0 0 0 0 0.173 0 0 0 0 0.102 0 0 0 0 0.831 -5.5 0 0 0 1.45" result="lace"/><feTurbulence type="fractalNoise" baseFrequency="0.7" numOctaves="1" seed="31" result="n"/><feColorMatrix in="n" type="matrix" values="0 0 0 0 0.29 0 0 0 0 0.227 0 0 0 0 0.941 8 0 0 0 -4.6" result="nb0"/><feComposite in="nb0" in2="lace" operator="in" result="nb"/><feMerge result="m"><feMergeNode in="lace"/><feMergeNode in="nb"/></feMerge><feGaussianBlur in="m" stdDeviation="0.35"/></filter>
<clipPath id="c_hTL"><polygon points="21.2,750.4 22.7,740 27.5,727.7 39.3,720.6 48.7,715.9 54.7,710 66.7,704.2 80.7,692.5 97.1,684.4 113.4,676.2 125.1,668 136.8,662.2 150.8,657.5 164.8,656.3 162.5,661 157.8,668 155.5,675 164.8,682 174.2,689 176.5,693.7 169.5,694.9 162.5,693.7 157.8,696 155.2,713.5 155.5,727 153.1,736.4 143.8,748 129.8,757.4 113.4,765.5 97,771.4 80.7,773.7 62,777.2 45.7,776 38.7,773.7 27,766.7"/></clipPath>
<clipPath id="c_iTL"><polygon points="357.5,673.3 368.2,668.6 380,661.5 391.8,656.7 408.4,655.5 422.6,657.9 432,655.5 441.5,659 448.6,666.2 453.3,682.7 465.2,699.3 479.4,713.5 493.5,730 505.4,746.6 511.3,758.4 505.4,767.9 493.5,775 481.7,784.4 469.9,789.2 455.7,788 443.9,782.1 425,779.7 408.4,772.6 401.3,760.8 399,746.6 389.5,737.1 377.7,730 370.6,723 361.1,713.5 358.7,699.3 356.4,685.1"/></clipPath>
<clipPath id="c_hBL"><polygon points="162.3,805.1 169.4,807.5 171.7,821.7 176.5,833.5 174.1,838.2 164.6,835.8 159.9,845.3 157.5,864.2 152.8,878.4 141,892.6 124.4,904.4 100.8,916.3 77.1,925.7 72.4,935.2 53.5,935.2 41.7,925.7 27.5,913.9 21.5,902.1 25.1,887.9 34.6,878.4 44,873.7 51.1,866.6 67.7,861.9 79.5,850 100.8,838.2 124.4,826.4 143.4,814.6"/></clipPath>
<clipPath id="c_iBL"><polygon points="363.5,819.3 372.9,809.8 389.5,805.1 408.4,803.9 425,807.5 434.4,805.1 439.1,816.9 443.9,828.7 453.3,845.3 467.5,859.5 481.7,873.7 493.5,887.9 505.4,902.1 507.7,916.3 500.6,930.5 486.5,937.5 460.4,939.9 443.9,936.5 425,937 414,934 406,922 401,906 399.5,893 389.5,883.1 377.7,873.7 372.9,859.5 368.2,845.3 361.1,833.5 359.9,824"/></clipPath>
<clipPath id="c_hTR"><polygon points="187,653 187.0,750.1757161566694 189.63333333333333,751.6596763554568 192.26666666666668,754.862831822785 194.9,757.6883656750504 197.53333333333333,758.7375243945147 200.16666666666669,760.05981940115 202.8,763.0567070170546 205.95000000000002,765.274295953264 209.10000000000002,765.0486735628292 212.25,767.320096636608 215.4,767.8075733190594 218.55,767.4870512779038 221.7,769.7456470368611 224.85,770.5828029757993 228.0,771.6880897064678 231.0,773.9882998131056 234.0,772.47918257826 237.0,772.0651726667941 240.0,774.7629464520231 243.0,774.4894265971549 246.0,775.0140769692032 249.0,775.7827960433191 252.0,775.2819488258974 255.0,776.011115872146 258.0,774.2159204383163 261.0,774.4948081805561 264.0,774.8431115887473 267.0,774.3463625559403 270.0,774.5807911210209 272.96,774.0237851090405 275.92,771.695045262668 278.88,769.8723449932963 281.84000000000003,770.1906093196493 284.8,769.3258916604653 288.16,766.557183086541 291.52000000000004,767.7208586266636 294.88,767.9587380561513 298.24,766.3334728794944 301.6,765.1394995804571 304.75,765.3991016729449 307.90000000000003,763.6941673695322 311.05,761.3701980192815 314.2,761.480333297909 317.35,759.351386344006 320.5,758.6130091978398 324.25,756.5752321313232 328,755 328,653"/></clipPath>
<clipPath id="c_hBR"><polygon points="187,800 187.0,890.7184054727056 189.85714285714286,890.7748078242387 192.71428571428572,893.6413796186337 195.57142857142858,896.0257597136529 198.42857142857142,896.9014603462913 201.28571428571428,898.045053177374 204.14285714285714,899.6572455583548 207.0,900.8430758008755 210.0,902.2840558660578 213.0,902.9294280199632 216.0,905.1488498014999 219.0,905.9208020340997 222.0,906.3457735685693 225.0,908.0542874125217 228.0,909.6833578445604 231.0,909.8316323342412 234.0,911.1515392762439 237.0,912.6137678944225 240.0,912.2060351256982 243.0,911.1730825039693 246.0,912.4901831586093 249.0,913.3463031792317 252.0,913.1833211909584 255.0,913.8459434696945 258.0,914.5806593936933 261.0,913.6751492145612 264.0,914.0175731995371 267.0,913.6876957175472 270.0,913.0408679140248 273.0,913.537132982279 276.0,912.9701782935896 279.0,912.9223170918264 282.0,912.4391122776096 285.0,913.3530587078341 288.0,913.2351249245996 291.0,912.0823330853029 294.0,911.7830573694217 297.0,909.9138915559232 300.0,908.9841904492012 303.0,907.9625715371706 306.0,908.3960315628306 309.0,906.5307749902706 312.0,905.6758422071532 315.2,903.1138923323716 318.4,902.9826793978652 321.6,902.0784910702836 324.8,900.2528195880302 328,899 328,800"/></clipPath>
<clipPath id="c_iTR"><rect x="522.6" y="653.5" width="140.4" height="139.2"/></clipPath>
<clipPath id="c_iBR"><rect x="522.6" y="800.6" width="140.6" height="139.2"/></clipPath>
</defs>
<rect x="19.5" y="653.5" width="159" height="138.8" fill="#c6c4c5" stroke="none" stroke-width="1" />
<g clip-path="url(#c_hTL)">
<rect x="19" y="653" width="160" height="140" fill="#c08898" stroke="none" stroke-width="1" />
<rect x="19" y="653" width="160" height="140" filter="url(#heWhole)"/>
</g>
<polygon points="69,707 80,702.5 92,701 105,697.5 118.1,693.5 127.5,689 121,696.5 106,700.5 92.4,704.5 80,708.5 74,711" fill="#c6c4c5" />
<polygon points="61.6,727 64.4,734 66.7,743.4 67.9,752.7 70.2,759.7 66.7,757.4 64.4,748 60.2,741 59.7,731.7" fill="#c6c4c5" />
<polygon points="70.2,753 72.5,759 74.2,766.5 71.5,764" fill="#c6c4c5" />
<polygon points="88,729.5 96,736 104,744 111.5,752.5 108,752 99,743.5 90,734" fill="#c6c4c5" />
<polygon points="98,723 110,728 120,737.5 117,737.5 106,729.5" fill="#c6c4c5" />
<polygon points="38.7,731.7 42,740 43.8,755 41.3,750 38.2,739" fill="#c6c4c5" />
<polygon points="130,730 140,733 146,738 142,738 133,733.5" fill="#c6c4c5" />
<polygon points="126,699 134,697.5 140,700 134,702" fill="#c6c4c5" />
<polygon points="146,686 153,690 151,693 145,690" fill="#c6c4c5" />
<path d="M46 689.5 L55 686.8 L66.7 690.2 L76 691.4 L72.6 694.9 L64.4 696 L52.7 697.2 L46.9 693.7Z" fill="none" stroke="#c07d95" stroke-width="1.6"/>
<path d="M39.9 691.4 L46 700 L52.7 711.2" fill="none" stroke="#c07d95" stroke-width="1.3"/>
<path d="M73 783.5 L80 781.5 L90 781 L97.5 778.5" fill="none" stroke="#c07d95" stroke-width="1.6"/>
<rect x="187" y="653" width="140.5" height="139" fill="#c6c4c5" stroke="none" stroke-width="1" />
<g clip-path="url(#c_hTR)">
<rect x="187" y="653" width="141" height="125" fill="#a35a88" stroke="none" stroke-width="1" />
<rect x="187" y="653" width="141" height="125" filter="url(#nucH2)"/>
<g fill="#cbc6c9"><circle cx="208.9" cy="740.0" r="2.4"/><circle cx="254.5" cy="678.9" r="2.9"/><circle cx="302.1" cy="717.1" r="2.1"/><circle cx="269.9" cy="659.9" r="2.9"/><circle cx="218.7" cy="681.0" r="1.2"/><circle cx="329.6" cy="746.3" r="3.2"/><circle cx="257.1" cy="665.9" r="3.4"/><circle cx="238.4" cy="671.0" r="3.0"/><circle cx="203.1" cy="770.7" r="1.9"/><circle cx="265.0" cy="695.2" r="2.0"/><circle cx="219.1" cy="751.7" r="1.4"/><circle cx="325.5" cy="766.3" r="2.8"/><circle cx="295.6" cy="725.9" r="2.7"/><circle cx="202.8" cy="712.4" r="3.0"/><circle cx="214.2" cy="770.1" r="3.2"/><circle cx="244.4" cy="698.1" r="1.9"/><circle cx="240.9" cy="779.3" r="1.8"/><circle cx="188.9" cy="663.0" r="2.7"/><circle cx="329.0" cy="715.0" r="2.0"/><circle cx="264.8" cy="747.5" r="1.5"/><circle cx="273.3" cy="722.8" r="2.4"/><circle cx="211.2" cy="672.9" r="1.7"/><circle cx="319.4" cy="695.7" r="2.3"/><circle cx="229.5" cy="664.3" r="1.2"/><circle cx="303.0" cy="751.2" r="1.8"/><circle cx="284.1" cy="738.2" r="3.2"/><circle cx="324.4" cy="727.2" r="3.2"/><circle cx="256.2" cy="699.4" r="1.5"/><circle cx="312.0" cy="671.9" r="1.2"/><circle cx="306.4" cy="657.7" r="1.5"/><circle cx="227.0" cy="705.1" r="1.4"/><circle cx="221.6" cy="774.7" r="2.1"/><circle cx="290.6" cy="654.7" r="1.4"/><circle cx="272.2" cy="706.0" r="2.3"/><circle cx="308.2" cy="690.7" r="2.1"/><circle cx="225.0" cy="750.1" r="1.2"/><circle cx="284.4" cy="774.1" r="1.2"/><circle cx="271.1" cy="734.1" r="3.1"/><circle cx="269.7" cy="684.2" r="1.8"/><circle cx="280.0" cy="667.3" r="2.1"/><circle cx="232.0" cy="714.7" r="1.4"/><circle cx="287.9" cy="722.0" r="1.2"/><circle cx="288.1" cy="763.7" r="2.8"/><circle cx="299.7" cy="652.0" r="2.0"/><circle cx="194.2" cy="749.5" r="1.4"/><circle cx="288.2" cy="683.6" r="2.6"/><circle cx="230.5" cy="656.4" r="1.8"/><circle cx="229.9" cy="767.2" r="1.6"/><circle cx="258.0" cy="721.9" r="3.4"/><circle cx="291.5" cy="775.8" r="1.6"/><circle cx="236.5" cy="692.0" r="3.6"/><circle cx="249.2" cy="717.7" r="1.8"/><circle cx="243.2" cy="680.1" r="1.2"/><circle cx="276.6" cy="775.2" r="1.3"/><circle cx="314.1" cy="751.6" r="2.4"/><circle cx="295.0" cy="737.2" r="3.1"/><circle cx="304.6" cy="775.3" r="3.6"/><circle cx="185.9" cy="691.3" r="1.6"/><circle cx="292.6" cy="710.6" r="1.3"/><circle cx="233.6" cy="733.8" r="2.6"/><circle cx="221.9" cy="760.1" r="1.3"/><circle cx="252.7" cy="707.4" r="2.4"/><circle cx="225.7" cy="673.5" r="1.8"/><circle cx="190.7" cy="729.4" r="2.6"/><circle cx="192.1" cy="675.2" r="1.8"/><circle cx="301.0" cy="694.6" r="1.5"/><circle cx="314.1" cy="660.2" r="1.2"/><circle cx="259.2" cy="738.5" r="1.4"/><circle cx="224.1" cy="658.6" r="1.2"/><circle cx="263.1" cy="703.7" r="2.6"/><circle cx="305.0" cy="678.6" r="1.2"/><circle cx="208.5" cy="760.8" r="2.9"/><circle cx="316.4" cy="738.7" r="1.4"/><circle cx="297.8" cy="767.5" r="2.1"/><circle cx="316.7" cy="776.2" r="1.8"/><circle cx="273.0" cy="748.5" r="2.4"/><circle cx="314.8" cy="717.3" r="1.3"/><circle cx="251.5" cy="655.6" r="3.0"/><circle cx="242.1" cy="651.5" r="2.5"/><circle cx="238.7" cy="757.6" r="2.0"/><circle cx="293.9" cy="699.4" r="1.5"/><circle cx="279.1" cy="698.5" r="1.4"/><circle cx="279.9" cy="653.7" r="2.7"/><circle cx="217.0" cy="665.4" r="2.1"/><circle cx="197.3" cy="682.3" r="2.3"/><circle cx="281.0" cy="708.1" r="1.5"/><circle cx="256.7" cy="690.3" r="1.7"/><circle cx="314.3" cy="760.2" r="1.3"/><circle cx="283.5" cy="750.6" r="2.5"/><circle cx="329.5" cy="693.3" r="1.8"/><circle cx="326.6" cy="672.6" r="1.8"/><circle cx="204.8" cy="651.5" r="1.3"/><circle cx="250.9" cy="749.5" r="1.2"/><circle cx="275.7" cy="691.3" r="2.6"/><circle cx="235.1" cy="678.5" r="1.2"/><circle cx="265.4" cy="760.6" r="3.1"/><circle cx="329.4" cy="661.8" r="3.5"/><circle cx="318.2" cy="710.5" r="2.6"/><circle cx="298.8" cy="675.1" r="2.4"/><circle cx="242.8" cy="707.9" r="2.8"/><circle cx="284.5" cy="691.7" r="2.4"/><circle cx="262.6" cy="683.1" r="1.5"/><circle cx="310.5" cy="734.0" r="2.4"/><circle cx="245.9" cy="739.2" r="2.5"/><circle cx="234.5" cy="706.2" r="1.2"/><circle cx="254.7" cy="761.9" r="2.3"/><circle cx="267.3" cy="770.6" r="1.6"/><circle cx="265.0" cy="727.0" r="1.6"/><circle cx="289.3" cy="668.0" r="2.3"/><circle cx="308.0" cy="701.1" r="2.1"/><circle cx="277.1" cy="677.0" r="3.4"/><circle cx="326.9" cy="706.0" r="1.5"/><circle cx="320.8" cy="687.7" r="1.2"/><circle cx="253.6" cy="777.5" r="1.3"/><circle cx="239.9" cy="724.7" r="3.0"/><circle cx="260.5" cy="752.9" r="1.7"/><circle cx="196.4" cy="765.9" r="2.0"/><circle cx="235.7" cy="742.9" r="2.1"/><circle cx="207.2" cy="722.2" r="1.9"/><circle cx="264.8" cy="676.1" r="2.4"/><circle cx="194.5" cy="651.5" r="3.6"/><circle cx="199.2" cy="756.1" r="2.1"/><circle cx="309.4" cy="714.1" r="1.2"/><circle cx="304.8" cy="708.6" r="1.7"/><circle cx="227.0" cy="685.8" r="1.7"/><circle cx="263.6" cy="777.4" r="1.3"/><circle cx="241.8" cy="772.5" r="1.5"/><circle cx="294.2" cy="751.6" r="1.3"/><circle cx="272.4" cy="670.1" r="1.3"/><circle cx="185.9" cy="754.5" r="1.6"/><circle cx="219.5" cy="688.5" r="1.9"/><circle cx="299.3" cy="684.1" r="1.6"/><circle cx="193.2" cy="771.9" r="1.3"/><circle cx="305.0" cy="667.0" r="2.5"/><circle cx="327.2" cy="775.7" r="3.0"/><circle cx="308.4" cy="725.4" r="1.3"/><circle cx="310.5" cy="745.3" r="1.4"/><circle cx="276.9" cy="762.2" r="2.0"/><circle cx="225.9" cy="739.7" r="1.9"/><circle cx="316.6" cy="679.2" r="1.3"/><circle cx="329.5" cy="685.1" r="2.2"/><circle cx="204.9" cy="748.6" r="1.3"/><circle cx="303.3" cy="759.9" r="2.7"/><circle cx="248.7" cy="770.0" r="2.2"/><circle cx="256.5" cy="731.3" r="1.2"/><circle cx="238.9" cy="660.2" r="3.0"/><circle cx="257.5" cy="770.9" r="1.7"/><circle cx="267.5" cy="716.4" r="2.5"/><circle cx="186.5" cy="775.6" r="2.0"/><circle cx="321.6" cy="747.9" r="1.3"/><circle cx="222.2" cy="732.1" r="1.6"/><circle cx="226.5" cy="692.5" r="1.2"/><circle cx="186.4" cy="762.3" r="2.2"/><circle cx="212.9" cy="704.2" r="1.7"/><circle cx="296.5" cy="665.1" r="1.9"/><circle cx="281.9" cy="722.7" r="1.5"/><circle cx="225.8" cy="718.5" r="1.5"/><circle cx="205.3" cy="779.1" r="1.6"/><circle cx="247.7" cy="730.8" r="1.2"/><circle cx="211.9" cy="687.9" r="1.7"/><circle cx="201.7" cy="688.1" r="1.3"/><circle cx="246.9" cy="668.7" r="1.7"/><circle cx="284.3" cy="715.6" r="1.3"/><circle cx="319.0" cy="651.4" r="2.4"/><circle cx="311.3" cy="683.4" r="1.2"/><circle cx="226.3" cy="712.1" r="1.4"/><circle cx="326.7" cy="755.7" r="1.3"/><circle cx="206.0" cy="732.1" r="1.2"/><circle cx="323.1" cy="735.3" r="1.2"/><circle cx="251.5" cy="755.3" r="1.2"/><circle cx="229.0" cy="778.6" r="1.7"/><circle cx="194.2" cy="779.1" r="1.9"/><circle cx="299.8" cy="744.7" r="1.9"/><circle cx="298.4" cy="706.8" r="1.5"/><circle cx="243.8" cy="686.7" r="1.3"/><circle cx="259.2" cy="651.8" r="1.8"/><circle cx="311.0" cy="767.3" r="1.5"/><circle cx="289.3" cy="704.2" r="1.2"/><circle cx="319.4" cy="670.0" r="2.5"/><circle cx="277.7" cy="714.7" r="1.9"/><circle cx="211.7" cy="749.1" r="1.2"/><circle cx="228.3" cy="726.3" r="2.5"/><circle cx="185.6" cy="684.5" r="1.3"/><circle cx="287.3" cy="661.1" r="1.2"/><circle cx="185.1" cy="670.7" r="1.7"/><circle cx="240.8" cy="749.2" r="1.8"/><circle cx="221.4" cy="766.3" r="1.3"/><circle cx="252.5" cy="743.2" r="1.7"/><circle cx="228.3" cy="758.5" r="1.7"/><circle cx="250.7" cy="694.3" r="1.4"/><circle cx="218.6" cy="673.7" r="1.4"/><circle cx="322.4" cy="719.4" r="1.2"/><circle cx="270.4" cy="652.0" r="1.5"/><circle cx="320.5" cy="759.7" r="1.3"/><circle cx="214.4" cy="779.4" r="1.2"/><circle cx="292.2" cy="690.4" r="1.3"/><circle cx="280.6" cy="729.7" r="1.5"/><circle cx="238.9" cy="764.8" r="1.5"/><circle cx="291.3" cy="675.2" r="1.5"/><circle cx="186.4" cy="745.5" r="3.6"/><circle cx="276.3" cy="740.4" r="1.2"/><circle cx="301.7" cy="732.1" r="1.6"/><circle cx="245.4" cy="762.7" r="1.5"/><circle cx="319.8" cy="662.6" r="1.3"/><circle cx="286.5" cy="698.6" r="1.3"/><circle cx="212.7" cy="681.3" r="1.3"/><circle cx="315.9" cy="723.7" r="1.3"/><circle cx="311.9" cy="652.9" r="1.4"/><circle cx="296.3" cy="658.4" r="1.2"/><circle cx="205.0" cy="660.7" r="1.2"/><circle cx="235.7" cy="775.6" r="1.3"/><circle cx="227.6" cy="698.7" r="1.3"/><circle cx="323.3" cy="679.7" r="1.5"/><circle cx="257.9" cy="713.7" r="1.3"/><circle cx="329.6" cy="651.2" r="2.3"/><circle cx="322.9" cy="742.1" r="1.3"/><circle cx="258.7" cy="745.6" r="1.2"/><circle cx="219.9" cy="709.0" r="1.3"/><circle cx="329.4" cy="737.9" r="1.5"/><circle cx="241.5" cy="716.1" r="1.4"/><circle cx="247.1" cy="662.3" r="1.2"/><circle cx="275.9" cy="755.2" r="1.4"/><circle cx="271.2" cy="778.5" r="1.3"/><circle cx="289.5" cy="745.9" r="1.6"/><circle cx="318.3" cy="769.2" r="1.3"/><circle cx="324.0" cy="774.9" r="5.9"/><circle cx="256.7" cy="739.2" r="3.6"/><circle cx="292.4" cy="693.0" r="2.8"/><circle cx="285.6" cy="702.1" r="3.7"/><circle cx="283.7" cy="731.3" r="5.0"/><circle cx="278.7" cy="685.8" r="5.3"/><circle cx="297.1" cy="745.8" r="4.5"/><circle cx="327.7" cy="716.3" r="5.1"/><circle cx="307.4" cy="739.1" r="3.7"/><circle cx="301.4" cy="698.2" r="2.8"/><circle cx="275.9" cy="761.6" r="2.8"/><circle cx="272.0" cy="737.3" r="5.5"/><circle cx="276.5" cy="717.0" r="3.1"/><circle cx="306.6" cy="762.9" r="3.0"/><circle cx="293.6" cy="771.9" r="4.3"/><circle cx="325.6" cy="696.7" r="6.4"/><circle cx="254.5" cy="721.6" r="2.5"/><circle cx="329.1" cy="754.9" r="3.3"/><circle cx="293.5" cy="761.3" r="3.0"/><circle cx="321.6" cy="748.8" r="3.6"/><circle cx="269.1" cy="709.5" r="3.5"/><circle cx="269.9" cy="775.2" r="2.6"/><circle cx="295.0" cy="734.2" r="3.0"/><circle cx="307.5" cy="680.4" r="3.4"/><circle cx="266.3" cy="748.1" r="2.8"/><circle cx="306.0" cy="728.0" r="4.8"/><circle cx="328.6" cy="743.4" r="2.5"/><circle cx="314.6" cy="707.6" r="3.4"/><circle cx="261.7" cy="763.7" r="2.6"/><circle cx="297.3" cy="712.7" r="2.7"/><circle cx="303.5" cy="707.3" r="2.8"/><circle cx="327.0" cy="682.2" r="5.3"/><circle cx="305.1" cy="774.7" r="4.7"/><circle cx="308.8" cy="753.2" r="2.6"/><circle cx="320.8" cy="725.9" r="2.8"/><circle cx="254.3" cy="772.8" r="3.0"/><circle cx="282.0" cy="753.9" r="4.4"/><circle cx="284.0" cy="768.6" r="3.0"/><circle cx="317.4" cy="762.5" r="4.1"/><circle cx="320.2" cy="737.7" r="2.6"/><circle cx="313.2" cy="691.6" r="2.9"/><circle cx="269.8" cy="694.0" r="2.6"/><circle cx="252.6" cy="760.7" r="2.8"/><circle cx="312.7" cy="717.3" r="2.9"/><circle cx="282.6" cy="778.7" r="2.8"/><circle cx="257.4" cy="753.5" r="2.6"/><circle cx="261.3" cy="715.4" r="2.5"/><circle cx="290.1" cy="720.2" r="3.6"/><circle cx="272.0" cy="725.3" r="2.5"/><circle cx="268.6" cy="756.3" r="2.5"/><circle cx="304.6" cy="688.9" r="2.5"/><circle cx="297.7" cy="682.5" r="2.8"/><circle cx="251.4" cy="747.1" r="3.1"/><circle cx="262.0" cy="729.6" r="4.0"/><circle cx="288.5" cy="741.4" r="2.5"/><circle cx="289.4" cy="680.4" r="2.5"/><circle cx="251.3" cy="728.9" r="2.5"/><circle cx="316.1" cy="682.9" r="2.6"/><circle cx="278.5" cy="696.3" r="2.7"/><circle cx="259.5" cy="779.9" r="3.1"/><circle cx="300.8" cy="756.2" r="2.7"/><circle cx="286.4" cy="710.9" r="2.5"/><circle cx="207.5" cy="741.4" r="1.7"/><circle cx="256.1" cy="677.0" r="2.0"/><circle cx="300.4" cy="717.1" r="1.4"/><circle cx="267.6" cy="659.1" r="2.0"/><circle cx="327.7" cy="748.1" r="2.2"/><circle cx="238.0" cy="668.5" r="2.1"/><circle cx="203.2" cy="772.3" r="1.4"/><circle cx="263.3" cy="695.2" r="1.4"/><circle cx="295.5" cy="723.6" r="1.9"/><circle cx="202.1" cy="714.9" r="2.1"/><circle cx="242.2" cy="780.1" r="1.2"/><circle cx="189.5" cy="665.2" r="1.9"/><circle cx="329.6" cy="713.4" r="1.4"/><circle cx="265.7" cy="746.7" r="1.0"/><circle cx="210.2" cy="673.9" r="1.2"/><circle cx="321.4" cy="696.0" r="1.6"/><circle cx="230.3" cy="663.7" r="0.9"/><circle cx="301.8" cy="750.4" r="1.2"/><circle cx="281.7" cy="736.9" r="2.3"/><circle cx="257.5" cy="699.5" r="1.0"/><circle cx="311.0" cy="671.7" r="0.9"/><circle cx="307.5" cy="658.4" r="1.1"/><circle cx="228.1" cy="704.6" r="1.0"/><circle cx="192.9" cy="696.3" r="2.3"/><circle cx="289.6" cy="654.1" r="1.0"/><circle cx="270.7" cy="704.7" r="1.6"/><circle cx="224.1" cy="749.8" r="0.8"/><circle cx="270.8" cy="736.7" r="2.2"/><circle cx="279.5" cy="665.6" r="1.5"/><circle cx="287.1" cy="721.3" r="0.9"/><circle cx="286.5" cy="765.5" r="2.0"/><circle cx="229.6" cy="657.6" r="1.2"/><circle cx="197.9" cy="729.6" r="1.4"/><circle cx="249.6" cy="716.3" r="1.2"/><circle cx="242.3" cy="680.5" r="0.9"/><circle cx="217.7" cy="701.3" r="1.4"/><circle cx="277.5" cy="775.8" r="0.9"/><circle cx="295.5" cy="734.6" r="2.2"/><circle cx="305.2" cy="772.3" r="2.5"/><circle cx="292.4" cy="709.6" r="0.9"/><circle cx="233.4" cy="731.6" r="1.8"/><circle cx="222.0" cy="761.2" r="0.9"/><circle cx="224.6" cy="674.6" r="1.2"/><circle cx="191.4" cy="673.9" r="1.3"/><circle cx="301.7" cy="693.5" r="1.1"/><circle cx="315.1" cy="660.5" r="0.9"/><circle cx="225.1" cy="658.2" r="0.9"/><circle cx="210.8" cy="761.7" r="2.1"/><circle cx="315.5" cy="739.4" r="1.0"/><circle cx="274.4" cy="750.1" r="1.7"/><circle cx="189.9" cy="737.5" r="1.0"/><circle cx="240.0" cy="652.1" r="1.7"/><circle cx="216.7" cy="713.7" r="1.9"/><circle cx="216.3" cy="738.2" r="1.2"/><circle cx="218.7" cy="727.8" r="1.6"/><circle cx="215.3" cy="665.1" r="1.5"/><circle cx="200.1" cy="701.5" r="2.0"/><circle cx="197.7" cy="680.4" r="1.6"/><circle cx="192.7" cy="715.5" r="2.3"/><circle cx="206.7" cy="695.5" r="1.7"/><circle cx="257.3" cy="691.5" r="1.2"/><circle cx="315.3" cy="759.8" r="0.9"/><circle cx="285.5" cy="749.8" r="1.8"/><circle cx="331.0" cy="693.2" r="1.2"/><circle cx="203.8" cy="651.4" r="0.9"/><circle cx="251.8" cy="748.9" r="0.9"/><circle cx="274.3" cy="689.6" r="1.8"/><circle cx="234.8" cy="679.5" r="0.8"/><circle cx="317.5" cy="708.4" r="1.8"/><circle cx="296.8" cy="675.2" r="1.7"/><circle cx="240.9" cy="706.4" r="1.9"/><circle cx="285.9" cy="690.3" r="1.7"/><circle cx="263.1" cy="681.9" r="1.1"/><circle cx="253.1" cy="760.7" r="1.6"/><circle cx="291.1" cy="668.8" r="1.6"/><circle cx="306.6" cy="700.0" r="1.5"/><circle cx="279.7" cy="678.1" r="2.4"/><circle cx="325.6" cy="706.2" r="1.1"/><circle cx="321.8" cy="687.9" r="0.8"/><circle cx="240.4" cy="722.2" r="2.1"/><circle cx="261.9" cy="752.5" r="1.2"/><circle cx="192.7" cy="653.9" r="2.5"/><circle cx="199.5" cy="754.4" r="1.5"/><circle cx="309.6" cy="715.2" r="0.8"/><circle cx="305.9" cy="709.6" r="1.2"/><circle cx="241.8" cy="771.2" r="1.0"/><circle cx="293.1" cy="751.4" r="0.9"/><circle cx="271.7" cy="669.3" r="0.9"/><circle cx="185.8" cy="755.8" r="1.1"/><circle cx="220.1" cy="690.0" r="1.4"/><circle cx="300.6" cy="683.6" r="1.1"/><circle cx="194.1" cy="772.5" r="0.9"/><circle cx="327.2" cy="778.2" r="2.1"/><circle cx="278.5" cy="762.8" r="1.4"/><circle cx="202.6" cy="675.1" r="1.6"/><circle cx="256.9" cy="772.2" r="1.2"/><circle cx="265.8" cy="715.1" r="1.8"/><circle cx="185.5" cy="777.0" r="1.4"/><circle cx="222.6" cy="733.4" r="1.1"/><circle cx="225.5" cy="692.8" r="0.8"/><circle cx="297.1" cy="666.6" r="1.4"/><circle cx="281.3" cy="723.8" r="1.0"/><circle cx="224.5" cy="718.2" r="1.1"/><circle cx="204.9" cy="777.7" r="1.2"/><circle cx="207.9" cy="665.5" r="0.9"/><circle cx="210.5" cy="688.4" r="1.2"/><circle cx="310.3" cy="683.1" r="0.8"/><circle cx="227.5" cy="712.3" r="1.0"/><circle cx="206.7" cy="731.3" r="0.9"/><circle cx="323.6" cy="734.4" r="0.8"/><circle cx="252.3" cy="755.9" r="0.9"/><circle cx="192.6" cy="778.7" r="1.3"/><circle cx="301.5" cy="744.8" r="1.3"/><circle cx="244.5" cy="687.6" r="0.9"/><circle cx="260.4" cy="652.7" r="1.2"/><circle cx="278.9" cy="713.6" r="1.3"/><circle cx="212.4" cy="749.9" r="0.9"/><circle cx="185.4" cy="685.7" r="0.9"/><circle cx="286.5" cy="661.8" r="0.8"/><circle cx="184.0" cy="669.7" r="1.2"/><circle cx="221.0" cy="765.2" r="0.9"/><circle cx="251.1" cy="743.3" r="1.2"/><circle cx="271.2" cy="653.0" r="1.0"/><circle cx="320.0" cy="758.7" r="0.9"/><circle cx="213.9" cy="780.3" r="0.8"/><circle cx="279.6" cy="729.0" r="1.0"/><circle cx="240.1" cy="764.2" r="1.0"/><circle cx="291.8" cy="676.4" r="1.0"/><circle cx="302.6" cy="733.1" r="1.2"/><circle cx="244.2" cy="762.4" r="1.0"/><circle cx="286.8" cy="699.6" r="0.9"/><circle cx="316.5" cy="722.8" r="0.9"/><circle cx="236.7" cy="776.0" r="0.9"/><circle cx="322.0" cy="680.0" r="1.1"/><circle cx="328.6" cy="738.9" r="1.1"/><circle cx="270.1" cy="778.3" r="0.9"/><circle cx="317.8" cy="768.3" r="0.9"/><circle cx="259.6" cy="740.3" r="2.5"/><circle cx="285.8" cy="727.6" r="3.5"/><circle cx="281.8" cy="689.0" r="3.7"/><circle cx="300.8" cy="746.6" r="3.1"/><circle cx="328.5" cy="712.0" r="3.6"/><circle cx="310.5" cy="738.4" r="2.6"/><circle cx="302.5" cy="700.3" r="2.0"/><circle cx="273.7" cy="760.5" r="2.0"/><circle cx="269.7" cy="733.2" r="3.8"/><circle cx="274.1" cy="715.7" r="2.2"/><circle cx="252.9" cy="723.1" r="1.8"/><circle cx="292.9" cy="763.8" r="2.1"/><circle cx="322.9" cy="751.5" r="2.5"/><circle cx="297.4" cy="733.6" r="2.1"/><circle cx="307.4" cy="683.3" r="2.4"/><circle cx="330.8" cy="743.6" r="1.8"/><circle cx="317.2" cy="708.6" r="2.4"/><circle cx="260.9" cy="765.8" r="1.8"/><circle cx="305.8" cy="707.5" r="1.9"/><circle cx="330.3" cy="685.4" r="3.7"/><circle cx="305.7" cy="778.7" r="3.3"/><circle cx="307.4" cy="751.5" r="1.8"/><circle cx="252.6" cy="770.8" r="2.1"/><circle cx="285.2" cy="752.1" r="3.1"/><circle cx="317.3" cy="759.0" r="2.9"/><circle cx="322.4" cy="738.3" r="1.9"/><circle cx="314.5" cy="689.5" r="2.0"/><circle cx="250.3" cy="759.8" r="2.0"/><circle cx="282.0" cy="776.4" r="2.0"/><circle cx="287.3" cy="718.8" r="2.5"/><circle cx="273.2" cy="723.6" r="1.8"/><circle cx="267.4" cy="754.4" r="1.8"/><circle cx="295.4" cy="682.3" r="1.9"/><circle cx="265.3" cy="729.0" r="2.8"/><circle cx="286.4" cy="742.0" r="1.8"/><circle cx="290.0" cy="678.4" r="1.8"/><circle cx="251.3" cy="726.8" r="1.8"/><circle cx="317.8" cy="681.3" r="1.8"/><circle cx="300.7" cy="758.5" r="1.9"/><circle cx="288.3" cy="711.8" r="1.8"/></g>
<ellipse cx="244" cy="683" rx="4.5" ry="3.5" fill="#cbc6c9"/>
<ellipse cx="268" cy="672" rx="3" ry="2.5" fill="#cbc6c9"/>
<ellipse cx="305" cy="710" rx="6" ry="3.5" fill="#cbc6c9"/>
<ellipse cx="300" cy="720" rx="5" ry="4" fill="#cbc6c9"/>
<ellipse cx="306" cy="737" rx="8" ry="4" fill="#cbc6c9"/>
<ellipse cx="318" cy="746" rx="5" ry="3" fill="#cbc6c9"/>
<ellipse cx="193" cy="684" rx="4" ry="3" fill="#cbc6c9"/>
<ellipse cx="316" cy="668" rx="3" ry="2.5" fill="#cbc6c9"/>
<polygon points="256,653 262,653 260,665 264,674 258,673 256,664" fill="#c9c5c8" />
<polygon points="221,653 232,653 228,657 220,657" fill="#c9c5c8" />
<polygon points="187,684 196,680 200,684 192,688 187,688" fill="#c9c5c8" />
<path d="M221.5 694 L224 702 L225 712" stroke="#c8604e" stroke-width="2.4" stroke-linecap="round" fill="none"/>
<path d="M264 745 L271 737 L278 730" stroke="#c8604e" stroke-width="2.8" stroke-linecap="round" fill="none"/>
<path d="M299 669 L303 665" stroke="#c4685a" stroke-width="2" fill="none"/>
<path d="M220 656 L236 660 L250 656" stroke="#b05070" stroke-width="1.5" fill="none"/>
<path d="M256 664 L262 676 L268 672" stroke="#b05070" stroke-width="1.5" fill="none"/>
</g>
<rect x="355.5" y="653.5" width="158.5" height="139" fill="#c6c4c5" stroke="none" stroke-width="1" />
<g clip-path="url(#c_iTL)">
<rect x="355" y="653" width="160" height="140" fill="#b3889b" stroke="none" stroke-width="1" />
<rect x="355" y="653" width="160" height="140" filter="url(#heWholeI)"/>
<g fill="#7a3e74" opacity="0.75" filter="url(#soft45)">
<ellipse cx="469" cy="739" rx="4" ry="5"/>
<ellipse cx="468" cy="770" rx="6" ry="10"/>
<ellipse cx="476" cy="778" rx="4" ry="6"/>
<ellipse cx="392.5" cy="669.8" rx="2" ry="2"/>
<ellipse cx="416" cy="688.8" rx="2.2" ry="2.2"/>
<ellipse cx="395.8" cy="691.5" rx="1.8" ry="1.8"/>
<ellipse cx="444" cy="774" rx="3" ry="2.5"/>
<ellipse cx="432" cy="742" rx="2" ry="3"/>
<ellipse cx="410" cy="725" rx="1.5" ry="2"/>
</g>
<polygon points="448.3,692 456.2,694 456,700 453.6,712 453,723.6 448,722 447.5,705" fill="#c86a86" />
<polygon points="449,715 458.8,716 458,723.3 452,724" fill="#cc6a86" />
</g>
<polygon points="423.4,671 432.6,669.8 443,660.6 444.4,685.5 436.5,688.2 430,697.4 428.6,693.4 431,683" fill="#c6c4c5" />
<polygon points="384.6,677.7 395.8,678.6 399,680.3 387.9,681.3" fill="#c6c4c5" />
<polygon points="403.7,676.6 415.5,673.2 415.5,674.6 404,678" fill="#c6c4c5" />
<polygon points="401,701.3 412.9,694.7 423.4,687.3 425.3,689.5 414.2,697.6 403,704.6" fill="#c6c4c5" />
<polygon points="410.2,711.8 412,711.5 414.6,719.7 412.4,720" fill="#c6c4c5" />
<polygon points="426,717 436,709 445.7,702.2 446.5,704 437,711 427.5,719" fill="#c6c4c5" />
<polygon points="422.8,715 425,715 426.6,735.8 424.6,735.2" fill="#c6c4c5" />
<polygon points="457,723.3 459,723.5 462,738 462.6,748 466.5,758 466.8,768 464.6,768 463.4,757 460,748 458.6,735" fill="#c6c4c5" />
<polygon points="465.8,749 472,748.7 478.3,751.2 486,749.6 492,750.4 500,756 503.2,760.6 501,761.4 495,755.6 488,752.6 478.5,754 470,752 466,751.5" fill="#c6c4c5" />
<polygon points="446,662 448,662 450,680 448,683" fill="#c6c4c5" />
<rect x="522.6" y="653.5" width="140.4" height="139.2" fill="#ccc7cb" stroke="none" stroke-width="1" />
<g clip-path="url(#c_iTR)"><g filter="url(#soft45)">
<path d="M663.4 665.0L662.9 670.2M520.8 697.4L524.1 697.1M524.1 697.1L525.4 691.0M520.2 689.1L525.4 691.0M519.8 687.4L520.2 689.1M527.5 667.8L521.6 668.4M527.5 667.8L530.6 675.5M520.9 669.5L523.5 676.3M530.6 675.5L523.5 676.3M519.8 687.4L524.6 682.4M524.6 682.4L522.8 678.3M522.8 678.3L523.5 676.3M663.4 665.0L660.1 661.6M660.1 661.6L661.7 659.3M667.0 657.6L661.7 659.3M524.0 789.6L525.2 791.4M528.2 779.0L528.1 785.7M528.2 779.0L520.9 781.9M520.9 781.9L524.5 788.2M520.8 781.8L519.5 777.5M524.0 789.6L524.5 788.2M520.9 781.9L520.8 781.8M651.7 681.2L648.2 679.0M651.5 684.4L645.7 686.4M645.7 686.4L645.0 680.6M645.0 680.6L648.2 679.0M519.5 712.0L519.8 711.8M519.8 711.8L520.7 709.0M519.6 704.7L520.7 709.0M526.1 698.6L531.0 696.9M526.1 698.6L525.8 702.6M525.8 702.6L528.5 704.7M528.5 704.7L533.4 701.5M519.6 704.7L525.8 702.6M520.7 709.0L528.5 708.3M528.5 708.3L528.5 704.7M530.4 710.6L528.5 708.3M530.4 710.6L530.0 713.2M519.8 711.8L525.5 714.8M530.0 713.2L525.5 714.8M530.4 710.6L533.9 709.2M533.4 701.5L535.7 702.4M533.9 709.2L535.7 702.4M525.2 791.4L534.1 794.1M662.9 670.2L661.9 671.1M661.9 671.1L661.1 677.1M663.7 681.5L660.8 677.5M660.8 677.5L661.1 677.1M660.1 661.6L657.6 661.9M656.8 668.9L661.9 671.1M656.8 668.9L656.7 662.9M657.6 661.9L656.7 662.9M650.0 667.6L653.3 670.8M650.0 667.6L644.1 671.4M644.1 671.4L649.3 675.2M649.3 675.2L652.8 673.7M652.8 673.7L653.3 670.8M656.8 668.9L653.3 670.8M649.9 663.8L656.7 662.9M651.7 681.2L657.6 678.4M648.2 679.0L649.3 675.2M660.8 677.5L657.7 678.5M657.7 678.5L657.6 678.4M631.2 673.5L632.2 679.8M631.2 673.5L632.6 672.1M632.6 672.1L641.1 671.7M635.9 682.3L632.2 679.8M641.2 678.6L641.1 671.7M641.5 671.2L644.1 671.4M645.0 680.6L641.2 678.6M529.5 666.3L528.2 659.7M529.5 666.3L527.5 667.8M519.7 660.5L521.8 658.5M528.2 659.7L521.8 658.5M626.0 683.0L632.2 679.8M631.2 673.5L625.1 672.7M621.9 675.6L622.0 679.7M624.8 682.6L622.0 679.7M592.8 661.7L593.6 660.8M592.8 661.7L585.6 658.9M585.6 658.9L585.2 656.5M585.2 656.5L592.6 651.5M593.4 652.5L592.6 651.5M600.0 654.2L593.4 652.5M600.0 654.2L599.4 658.7M599.4 658.7L593.6 660.8M592.6 650.7L592.6 651.5M585.2 656.5L582.4 653.1M582.1 651.5L582.4 653.1M588.2 677.2L583.7 680.9M588.2 677.2L585.5 674.3M583.7 680.9L579.9 676.0M585.5 674.3L579.9 676.0M600.0 654.2L601.5 652.9M601.5 652.9L601.8 650.7M659.7 651.7L666.0 651.8M667.0 657.6L666.0 651.8M661.7 659.3L659.6 651.8M659.6 651.8L659.7 651.7M519.5 777.5L521.0 773.6M528.5 778.6L528.2 779.0M528.3 777.4L521.9 773.3M525.9 767.8L519.7 764.0M525.9 767.8L521.9 773.3M661.1 784.2L656.2 780.5M664.4 781.7L664.1 774.7M664.1 774.7L655.3 775.8M656.2 780.5L655.3 775.8M661.0 786.6L662.0 787.9M661.0 786.6L661.1 784.2M662.0 787.9L662.2 794.5M654.6 775.2L645.2 779.4M654.6 775.2L655.3 775.8M645.2 779.4L645.8 781.3M656.2 780.5L652.7 783.7M652.7 783.7L645.8 781.3M585.4 720.5L590.5 718.2M585.4 720.5L582.5 713.7M589.3 711.5L585.3 711.0M589.3 711.5L591.5 715.6M591.5 715.6L590.5 718.2M582.5 713.7L585.3 711.0M584.7 703.2L583.5 704.3M583.5 704.3L585.3 711.0M593.1 707.6L590.3 702.9M593.1 707.6L589.3 711.5M599.3 715.3L597.8 707.8M599.3 715.3L599.2 715.3M597.8 707.8L593.1 707.6M599.2 715.3L591.5 715.6M578.1 714.0L575.5 710.8M578.1 714.0L582.5 713.7M579.2 703.4L583.5 704.3M575.5 710.8L577.0 704.7M612.1 703.4L608.0 709.0M612.1 703.4L608.9 699.3M608.0 709.0L600.8 704.3M608.9 699.3L604.0 699.1M604.0 699.1L600.8 704.1M600.8 704.3L600.8 704.1M597.8 707.8L600.8 704.3M590.3 702.9L592.9 698.5M592.9 698.5L593.7 698.3M626.0 683.0L628.6 690.0M635.9 682.3L636.4 686.0M628.6 690.0L636.4 686.0M540.3 713.9L539.4 711.2M540.3 713.9L539.0 716.3M530.0 713.2L532.8 717.6M533.9 709.2L539.4 711.2M532.8 717.6L539.0 716.3M536.4 702.3L541.6 705.9M536.4 702.3L539.1 698.1M541.1 697.8L545.9 700.7M541.6 705.9L545.2 704.8M545.9 700.7L545.2 704.8M539.4 711.2L541.6 705.9M535.7 702.4L536.4 702.3M540.3 713.9L547.2 713.7M547.2 713.7L547.0 706.4M547.0 706.4L545.2 704.8M554.1 702.0L551.6 697.5M549.7 697.2L551.6 697.5M549.7 697.2L545.9 700.7M551.5 706.3L547.0 706.4M528.1 785.7L532.8 786.7M534.1 794.1L535.0 793.0M532.8 786.7L535.0 793.0M542.9 793.9L540.0 792.1M535.0 793.0L540.0 792.1M542.9 793.9L547.5 791.7M547.5 791.7L552.2 793.1M528.5 778.6L536.7 781.2M532.8 786.7L536.7 781.2M536.7 781.2L536.7 781.2M526.8 760.2L530.0 766.5M529.1 755.9L534.7 756.9M534.7 756.9L532.1 764.4M530.0 766.5L532.1 764.4M530.0 766.5L530.0 766.5M520.8 759.6L519.7 764.0M520.8 759.6L526.8 760.2M535.7 756.4L534.7 756.9M535.7 756.4L535.7 748.9M527.4 752.7L529.2 749.3M529.2 749.3L533.2 747.3M535.7 748.9L533.2 747.3M544.1 753.1L543.3 754.7M544.1 753.1L540.7 748.0M540.7 748.0L535.7 748.9M535.7 756.4L537.5 757.1M537.5 757.1L543.3 754.7M527.9 740.5L527.6 735.8M527.9 740.5L532.6 741.8M534.7 739.7L532.6 741.8M534.7 739.7L533.5 732.8M527.6 735.8L532.0 732.0M533.5 732.8L532.0 732.0M522.7 733.3L527.6 735.8M522.7 733.3L522.4 730.4M522.4 730.4L530.6 729.7M530.6 729.7L532.0 732.0M522.7 733.3L521.0 736.8M527.9 740.5L525.4 741.5M525.4 741.5L521.0 736.8M529.2 749.3L523.5 744.5M533.2 747.3L532.6 741.8M520.8 759.6L519.7 757.6M527.4 752.7L524.6 752.8M519.7 757.6L519.1 757.2M659.6 651.8L658.1 651.9M657.6 661.9L654.8 657.1M654.8 657.1L658.1 651.9M654.8 657.1L649.5 656.7M649.0 654.2L649.5 656.7M632.0 665.3L632.6 672.1M625.1 672.7L623.1 666.1M629.0 663.3L628.6 663.3M552.1 653.1L547.3 652.5M554.5 656.5L552.1 653.1M554.5 656.5L558.1 655.8M558.1 655.8L559.3 654.0M552.1 659.8L547.7 659.6M552.1 659.8L554.5 656.5M547.7 659.6L545.1 655.5M545.1 655.5L547.3 652.5M522.5 653.5L519.2 650.2M521.8 658.5L522.5 653.5M530.4 658.1L530.4 652.1M539.6 655.3L537.7 651.5M539.6 655.3L537.7 659.4M537.7 659.4L536.4 659.9M528.2 659.7L530.4 658.1M526.5 651.5L530.4 652.1M529.5 666.3L532.7 666.5M532.7 666.5L536.4 659.9M545.1 655.5L539.6 655.3M544.5 665.0L547.7 659.6M544.5 665.0L543.1 665.4M537.7 659.4L542.0 664.9M543.1 665.4L542.0 664.9M532.7 666.5L535.0 668.5M542.0 664.9L535.0 668.5M559.1 668.2L559.8 662.8M559.1 668.2L562.4 669.9M562.4 669.9L565.8 666.5M564.7 661.5L561.2 661.2M561.2 661.2L559.8 662.8M565.2 675.1L563.6 674.5M565.2 675.1L569.7 672.1M563.6 674.5L562.4 669.9M569.7 668.0L569.7 672.1M569.7 668.0L565.8 666.5M552.1 659.8L553.4 662.8M558.1 655.8L561.2 661.2M549.7 697.2L546.6 691.9M541.1 697.8L543.6 692.4M543.6 692.4L546.6 691.9M560.4 676.2L563.6 674.5M560.4 676.2L555.2 672.9M559.1 668.2L554.3 669.7M555.2 672.9L554.3 669.7M554.3 669.7L552.4 668.7M550.8 669.0L552.4 668.7M543.1 665.4L542.2 670.6M621.9 675.6L617.3 673.9M617.3 673.9L613.4 677.2M613.4 677.2L613.4 679.8M596.2 685.9L600.3 689.3M596.2 685.9L597.9 682.2M597.9 682.2L600.3 681.7M604.1 685.2L600.3 681.7M604.1 685.2L604.1 685.6M600.3 689.3L604.1 685.6M611.0 687.7L609.4 688.7M610.5 681.9L607.1 680.7M604.1 685.2L607.1 680.7M595.0 672.3L592.1 672.9M595.0 672.3L596.9 666.8M588.2 668.9L593.0 663.2M593.0 663.2L596.9 666.8M595.8 679.3L598.4 674.8M595.8 679.3L591.6 679.0M591.6 679.0L590.5 677.3M590.5 677.3L592.1 672.9M598.4 674.8L595.0 672.3M588.2 677.2L590.5 677.3M585.5 674.3L586.6 669.0M586.6 669.0L588.2 668.9M599.4 658.7L601.0 659.9M592.8 661.7L593.0 663.2M601.0 659.9L602.3 665.6M601.5 666.8L596.9 666.8M576.3 657.0L572.1 650.9M576.3 657.0L576.1 658.0M576.1 658.0L570.2 660.1M572.1 650.9L567.5 652.2M567.9 659.0L567.4 652.5M567.9 659.0L570.2 660.1M567.5 652.2L567.4 652.5M582.4 653.1L576.3 657.0M559.3 654.0L567.4 652.5M564.7 661.5L567.9 659.0M569.7 668.0L572.9 665.8M572.9 665.8L570.2 660.1M592.9 698.5L589.1 696.0M585.4 697.1L589.1 696.0M579.2 703.4L578.3 696.9M585.4 697.1L582.1 694.5M578.3 696.9L582.1 694.5M592.2 690.0L594.1 686.4M592.2 690.0L589.1 690.9M589.1 690.9L588.4 690.5M588.4 690.5L586.4 684.8M594.1 686.4L590.6 683.4M590.6 683.4L586.4 684.8M596.1 694.4L592.2 690.0M596.1 694.4L593.7 698.3M589.1 696.0L589.1 690.9M582.1 694.5L582.5 692.0M582.5 692.0L588.4 690.5M596.2 685.9L594.1 686.4M597.9 682.2L595.8 679.3M591.6 679.0L590.6 683.4M583.7 680.9L583.7 683.8M582.3 786.5L583.0 787.2M582.3 786.5L577.1 787.4M577.1 787.4L575.9 788.6M575.3 795.5L575.9 788.6M583.0 787.2L583.9 794.8M638.3 781.1L637.0 783.9M638.3 781.1L634.6 777.5M634.6 777.5L630.7 779.3M637.0 783.9L631.7 784.1M630.7 779.3L631.7 784.1M650.9 795.2L650.5 795.0M650.9 795.2L655.7 794.4M650.5 795.0L648.6 789.8M655.7 794.4L656.2 789.1M648.6 789.8L652.7 787.4M656.2 789.1L652.7 787.4M657.0 795.3L655.7 794.4M661.0 786.6L656.2 789.1M652.7 783.7L652.7 787.4M645.8 781.3L644.8 788.1M644.8 788.1L648.6 789.8M566.5 707.2L569.3 701.6M566.5 707.2L559.6 705.0M565.8 698.5L561.5 698.2M565.8 698.5L569.2 701.3M569.2 701.3L569.3 701.6M561.5 698.2L558.9 703.1M558.9 703.1L559.6 705.0M566.6 707.5L566.5 707.2M566.6 707.5L570.9 711.1M570.9 711.1L575.5 710.8M577.0 704.7L569.3 701.6M562.3 713.7L556.9 710.0M562.3 713.7L566.6 707.5M556.9 710.0L559.6 705.0M567.3 692.0L561.5 689.4M567.3 692.0L565.8 698.5M557.9 693.0L561.5 698.2M557.9 693.0L561.5 689.4M574.3 695.0L573.6 692.7M574.3 695.0L569.2 701.3M578.3 696.9L574.3 695.0M554.1 702.0L558.9 703.1M557.6 693.0L551.6 697.5M556.9 710.0L555.0 710.5M555.0 710.5L551.5 706.3M599.2 715.3L597.5 720.1M590.5 718.2L593.4 721.8M597.5 720.1L593.4 721.8M585.4 720.5L584.8 722.3M584.8 722.3L592.3 726.6M593.4 721.8L592.3 726.6M666.0 688.2L663.5 688.1M662.9 687.5L663.5 688.1M662.9 687.5L657.2 686.5M651.5 684.4L655.3 687.8M663.5 688.1L661.7 694.3M654.4 690.3L656.0 694.0M654.4 690.3L655.3 687.8M661.7 694.3L656.0 694.0M590.9 731.0L584.6 729.7M590.9 731.0L591.4 733.2M583.7 737.0L585.6 737.5M583.7 737.0L582.2 732.8M591.4 733.2L585.6 737.5M582.2 732.8L584.6 729.7M590.9 731.0L592.4 727.0M584.8 722.3L582.5 724.1M592.4 727.0L592.3 726.6M578.1 714.0L576.0 718.7M576.0 718.7L578.4 724.1M582.5 724.1L578.4 724.1M548.4 745.7L550.3 741.0M548.4 745.7L541.7 746.2M550.3 741.0L542.3 738.6M541.7 746.2L541.1 739.7M541.1 739.7L542.3 738.6M544.1 753.1L548.6 752.1M540.7 748.0L541.7 746.2M550.0 750.3L548.6 752.1M534.7 739.7L541.1 739.7M530.6 729.7L531.2 723.4M531.2 723.4L540.2 725.6M533.5 732.8L540.0 730.3M540.0 730.3L540.2 725.6M542.3 738.6L542.8 733.2M540.0 730.3L542.8 733.2M532.8 717.6L530.8 722.7M539.0 716.3L542.2 723.3M531.2 723.4L530.8 722.7M582.3 786.5L582.6 781.9M586.3 778.2L582.6 781.9M586.3 778.2L587.4 778.2M589.4 786.8L583.0 787.2M589.4 786.8L590.6 782.2M587.4 778.2L590.6 782.2M572.0 760.0L567.5 760.2M572.0 760.0L575.1 754.4M566.2 753.5L571.9 751.2M571.9 751.2L574.7 752.2M575.1 754.4L574.7 752.2M623.9 692.9L623.7 693.1M623.9 692.9L620.7 687.6M623.7 693.1L616.6 693.3M620.7 687.6L616.5 687.1M616.6 693.3L615.4 688.0M615.4 688.0L616.5 687.1M624.8 682.6L620.7 687.6M628.2 691.2L623.9 692.9M611.4 695.5L615.4 695.2M615.4 695.2L616.6 693.3M611.0 687.7L615.4 688.0M609.4 688.7L608.8 690.7M610.5 681.9L613.4 679.8M612.1 703.4L614.8 703.4M608.0 709.0L608.9 712.8M608.9 712.8L613.4 712.9M613.4 712.9L618.5 707.9M614.8 703.4L618.5 707.9M611.4 695.5L608.9 699.3M615.4 695.2L617.4 699.5M614.8 703.4L617.4 699.5M623.7 693.1L623.2 699.3M617.4 699.5L623.2 699.3M645.7 686.4L645.7 686.4M636.4 686.0L638.2 687.9M654.4 690.3L647.7 690.9M645.7 686.4L647.7 690.9M654.6 775.2L654.4 774.1M645.2 779.4L644.5 778.9M644.5 778.9L645.2 770.9M654.4 774.1L651.3 770.1M651.3 770.1L645.2 770.9M643.7 778.9L644.5 778.9M643.7 778.9L636.5 772.4M645.2 770.9L641.7 767.6M641.7 767.6L640.0 767.4M640.0 767.4L636.5 772.4M643.7 778.9L638.3 781.1M634.6 777.5L635.9 772.7M626.9 774.2L630.1 771.1M626.9 774.2L627.3 777.5M627.3 777.5L630.7 779.3M635.9 772.7L630.1 771.1M524.4 720.9L525.5 722.2M524.4 720.9L521.3 720.1M525.5 722.2L521.4 729.2M525.5 714.8L524.4 720.9M530.8 722.7L525.5 722.2M522.4 730.4L521.4 729.2M521.8 749.7L522.5 745.0M524.6 752.8L521.8 749.7M523.5 744.5L522.5 745.0M649.1 663.1L641.2 666.4M648.0 659.1L643.7 658.8M641.2 666.4L639.7 663.8M649.9 663.8L649.1 663.1M641.5 671.2L641.2 666.4M649.0 654.2L644.5 650.9M640.7 654.8L644.5 650.9M640.7 654.8L643.7 658.8M637.3 662.8L639.7 663.8M635.6 656.1L637.0 654.7M631.5 655.3L625.1 656.5M624.0 652.2L624.6 656.2M624.6 656.2L625.1 656.5M633.1 656.2L631.5 655.3M628.6 663.3L625.1 656.5M562.0 685.1L566.4 683.2M562.0 685.1L557.9 681.6M557.9 681.6L560.4 676.2M565.2 675.1L567.3 678.9M567.3 678.9L566.4 683.2M575.9 676.5L575.0 678.1M561.5 689.4L562.0 685.1M569.8 691.0L569.7 685.3M566.4 683.2L569.7 685.3M575.9 668.0L574.7 666.1M575.9 668.0L581.2 669.3M574.7 666.1L578.6 661.9M583.8 667.7L581.2 669.3M583.8 667.7L582.6 662.3M582.6 662.3L578.6 661.9M572.9 665.8L574.7 666.1M574.5 674.3L575.9 668.0M575.9 676.5L579.6 675.8M579.6 675.8L581.2 669.3M576.1 658.0L578.6 661.9M579.9 676.0L579.6 675.8M586.6 669.0L583.8 667.7M585.6 658.9L582.6 662.3M547.9 688.6L545.8 685.4M547.9 688.6L552.4 687.5M552.4 687.5L554.7 681.9M546.9 681.1L549.8 678.9M554.7 681.9L551.7 679.3M551.7 679.3L549.8 678.9M557.6 693.0L552.4 687.5M546.6 691.9L547.9 688.6M557.9 681.6L554.7 681.9M555.2 672.9L551.7 679.3M547.4 674.1L549.8 678.9M538.9 690.2L537.7 685.3M539.1 698.1L536.5 693.8M536.5 693.8L531.7 694.4M525.4 691.0L529.1 690.1M531.7 694.4L529.1 690.1M624.6 656.2L620.8 658.6M619.6 664.5L620.8 658.6M620.8 658.6L614.6 654.0M617.3 673.9L615.3 669.1M617.7 665.1L615.4 668.2M615.3 669.1L615.4 668.2M602.5 669.4L607.2 671.8M602.5 669.4L599.7 674.7M603.0 677.4L605.4 677.4M605.4 677.4L608.2 673.9M608.2 673.9L608.2 673.6M601.5 666.8L602.5 669.4M602.3 665.6L607.7 663.8M607.7 663.8L609.2 666.4M609.2 666.4L607.2 671.8M598.4 674.8L599.7 674.7M600.3 681.7L603.0 677.4M609.2 666.4L615.4 668.2M615.3 669.1L608.2 673.6M613.4 677.2L608.2 673.9M597.4 694.0L600.3 689.9M597.4 694.0L603.9 698.9M600.3 689.3L600.3 689.9M583.2 684.1L581.3 689.9M583.2 684.1L575.4 683.4M581.3 689.9L576.4 689.3M576.4 689.3L575.2 683.6M575.4 683.4L575.2 683.6M583.7 683.8L583.2 684.1M582.5 692.0L581.3 689.9M575.0 678.1L575.4 683.4M569.7 685.3L575.2 683.6M575.9 788.6L569.9 787.3M569.9 787.3L568.4 793.5M597.4 785.9L595.4 788.3M597.4 785.9L596.3 781.6M590.6 782.2L596.3 781.6M595.4 788.3L591.9 789.3M540.0 792.1L541.5 784.9M536.7 781.2L539.5 782.4M541.5 784.9L539.5 782.4M577.1 787.4L574.1 780.7M582.6 781.9L576.7 778.3M574.1 780.7L575.5 778.8M576.7 778.3L575.5 778.8M616.3 776.7L616.0 774.2M616.3 776.7L618.0 778.4M618.0 778.5L618.0 778.4M618.0 778.5L623.4 772.8M616.0 774.2L619.2 770.1M623.4 772.8L621.2 769.8M621.2 769.8L619.2 770.1M626.9 774.2L623.4 772.8M622.4 782.5L627.3 777.5M622.4 782.5L618.0 778.5M614.0 766.4L619.2 770.1M614.0 766.4L611.2 771.0M611.2 771.0L616.0 774.2M623.6 764.4L621.2 769.8M623.6 764.4L629.3 765.3M612.0 793.8L618.2 794.4M644.8 788.1L643.3 788.9M637.0 783.9L639.3 788.8M661.7 694.3L662.7 695.5M659.0 701.8L662.7 699.3M659.0 701.8L659.4 706.4M659.4 706.4L663.6 707.8M665.6 701.2L662.7 699.3M665.6 701.2L666.4 705.4M663.6 707.8L666.4 705.4M653.6 698.9L659.0 701.8M653.6 698.9L656.0 694.0M662.7 695.5L662.7 699.3M664.5 712.4L666.3 713.3M591.4 733.2L592.3 733.9M585.6 737.5L588.4 743.2M597.7 756.7L602.4 752.7M597.7 756.7L601.1 761.1M602.4 752.7L606.0 754.9M606.0 754.9L605.4 757.6M609.7 762.7L605.4 757.6M601.0 762.5L604.7 766.1M601.0 762.5L601.1 761.1M623.9 755.3L621.0 752.8M623.9 755.3L622.9 763.4M622.9 763.4L613.9 762.2M621.0 752.8L619.5 752.7M619.5 752.7L614.5 756.1M613.9 762.2L614.5 756.1M623.6 764.4L622.9 763.4M614.0 766.4L613.7 762.5M613.7 762.5L613.9 762.2M609.4 753.5L614.5 756.1M608.9 712.8L607.2 715.2M604.2 716.2L607.2 715.2M563.7 752.1L565.4 744.7M556.4 749.4L562.4 752.5M556.4 749.4L557.2 746.1M557.2 746.1L565.4 744.7M550.0 750.3L555.5 750.0M550.3 741.0L553.2 739.5M553.2 739.5L554.3 740.0M556.4 749.4L555.5 750.0M557.2 746.1L554.3 740.0M566.2 753.5L563.7 752.1M571.9 751.2L567.8 744.1M566.3 743.9L565.4 744.7M542.8 733.2L547.7 731.9M553.2 739.5L552.4 735.2M547.7 731.9L552.4 735.2M567.8 744.1L573.2 741.8M576.4 750.3L574.7 752.2M576.4 750.3L576.0 742.7M583.7 745.6L578.8 741.5M583.7 745.6L582.9 749.4M576.0 742.7L578.8 741.5M583.7 737.0L579.5 740.0M583.7 745.6L588.4 743.2M579.5 740.0L578.8 741.5M591.4 774.8L595.4 776.2M591.4 774.8L587.4 778.2M596.3 781.6L597.0 779.9M597.0 779.9L595.4 776.2M590.9 770.9L594.6 766.9M590.9 770.9L591.4 774.8M595.4 776.2L599.2 771.4M585.6 752.9L584.0 756.5M585.6 752.9L592.1 751.9M584.0 756.5L588.7 762.1M592.1 751.9L594.0 755.9M594.0 755.9L591.3 761.9M591.3 761.9L588.7 762.1M581.2 757.6L584.0 756.5M581.2 757.6L575.1 754.4M582.9 749.4L585.6 752.9M592.8 750.4L590.9 743.8M592.8 750.4L592.1 751.9M592.8 750.4L600.9 748.0M600.9 748.0L602.4 752.7M597.7 756.7L594.0 755.9M594.6 765.6L601.0 762.5M594.6 765.6L591.3 761.9M620.3 708.2L626.2 703.0M620.3 708.2L622.5 712.5M622.5 712.5L624.6 713.9M624.6 713.9L630.2 711.3M628.4 703.3L626.2 703.0M618.5 707.9L620.3 708.2M623.2 699.3L626.2 703.0M613.4 712.9L617.0 716.8M628.2 691.2L632.6 696.1M632.6 696.1L629.6 702.7M629.6 702.7L628.4 703.3M638.2 687.9L638.4 691.6M647.7 690.9L646.2 694.5M638.4 691.6L646.2 694.5M632.6 696.1L636.3 695.3M651.3 770.1L651.8 767.1M646.7 763.0L641.7 767.6M650.1 764.0L651.8 767.1M664.1 774.7L665.7 772.7M640.7 747.2L636.7 744.0M640.7 747.2L640.9 748.5M640.9 748.5L637.5 751.3M636.7 744.0L631.1 744.5M630.5 745.0L631.1 744.5M630.5 745.0L631.9 750.7M631.9 750.7L637.5 751.3M608.5 789.0L610.0 783.1M608.5 789.0L605.5 789.8M605.5 789.8L603.1 788.7M605.1 781.6L609.9 782.9M605.1 781.6L602.1 786.9M602.1 786.9L603.1 788.7M609.9 782.9L610.0 783.1M612.0 793.8L611.2 791.0M611.2 791.0L608.5 789.0M605.7 795.7L605.5 789.8M599.0 794.7L599.0 794.5M599.0 794.5L603.1 788.7M603.5 778.8L605.1 781.6M595.4 788.3L599.0 794.5M611.2 777.6L609.9 782.9M612.8 783.5L610.0 783.1M612.8 783.5L618.0 778.4M537.5 757.1L539.4 761.3M543.3 754.7L545.5 760.0M545.5 760.0L543.8 762.2M543.8 762.2L539.4 761.3M538.2 763.4L539.4 761.3M540.8 773.1L537.1 775.4M537.1 775.4L532.0 771.7M539.7 768.3L531.7 769.0M548.6 768.3L549.8 771.2M548.6 768.3L544.6 766.5M549.8 771.2L546.2 775.8M546.0 775.8L546.2 775.8M546.0 775.8L540.8 773.1M536.7 781.2L537.1 775.4M539.5 782.4L546.0 775.8M528.3 777.4L532.0 771.7M544.6 766.5L543.8 762.2M538.2 763.4L539.7 768.3M530.0 766.5L531.7 769.0M555.7 756.0L551.4 758.4M556.3 763.7L552.1 762.4M556.3 763.7L560.5 760.2M560.5 760.2L559.7 758.0M552.1 762.4L550.9 759.9M550.9 759.9L551.4 758.4M555.5 750.0L555.7 756.0M548.6 752.1L551.4 758.4M567.5 760.2L565.2 761.9M565.2 761.9L560.5 760.2M545.5 760.0L550.9 759.9M548.6 768.3L552.1 762.4M549.8 771.2L554.2 772.1M556.3 763.7L557.5 767.8M554.2 772.1L557.5 767.8M565.3 768.9L565.2 761.9M565.3 768.9L565.1 769.0M565.1 769.0L557.5 767.8M546.9 681.1L541.0 678.8M537.7 685.3L537.4 684.9M537.4 684.9L541.0 678.8M530.6 675.5L532.0 676.3M535.0 668.5L536.2 673.4M532.0 676.3L536.2 673.4M545.5 673.9L540.9 677.9M541.0 678.8L540.9 677.9M542.2 670.6L536.6 673.5M540.9 677.9L536.6 673.5M536.2 673.4L536.6 673.5M609.7 654.0L606.3 655.5M609.7 654.0L613.2 654.9M613.2 654.9L612.5 660.3M605.6 658.7L608.3 662.4M605.6 658.7L606.3 655.5M608.3 662.4L612.5 660.3M601.5 652.9L606.3 655.5M617.7 665.1L612.5 660.3M601.0 659.9L605.6 658.7M607.7 663.8L608.3 662.4M574.1 780.7L571.9 781.5M575.5 778.8L570.6 774.1M570.6 774.1L567.2 778.7M569.9 787.3L569.3 786.4M571.9 781.5L569.3 786.4M593.5 794.8L591.6 790.3M591.6 790.3L585.9 795.2M591.9 789.3L591.6 790.3M583.9 794.8L585.9 795.2M547.7 785.9L551.2 785.7M547.7 785.9L546.4 784.7M546.4 784.7L548.3 779.1M551.2 785.7L555.2 780.7M555.2 780.7L548.3 779.1M547.5 791.7L547.7 785.9M554.1 790.2L552.2 793.1M554.1 790.2L551.2 785.7M541.5 784.9L546.4 784.7M546.2 775.8L548.3 779.1M586.3 778.2L583.5 773.9M576.7 778.3L578.8 773.7M590.9 770.9L585.7 769.2M583.5 773.9L585.7 769.2M622.8 789.6L623.6 784.8M622.4 782.6L623.6 784.8M619.1 791.8L615.6 787.1M615.6 787.1L615.6 786.6M627.9 793.3L622.8 789.6M618.2 794.4L619.1 791.8M622.4 782.5L622.4 782.6M630.3 786.0L623.6 784.8M612.8 783.5L615.6 786.6M630.6 787.2L636.8 790.9M630.6 787.2L628.2 793.3M628.2 793.3L628.8 793.7M628.8 793.7L636.3 792.5M630.3 786.0L630.6 787.2M639.3 788.8L636.8 790.9M627.9 793.3L628.2 793.3M654.3 709.9L655.7 713.6M654.3 709.9L659.4 706.4M664.5 712.4L660.1 715.1M655.7 713.6L660.1 715.1M650.6 749.5L645.4 751.9M650.6 749.5L650.6 744.1M640.7 747.2L645.5 741.5M645.5 741.5L650.6 744.1M632.7 712.8L630.6 719.7M632.7 712.8L630.2 711.3M630.6 719.7L628.4 720.6M624.8 717.3L628.4 720.6M617.1 717.7L620.6 720.0M617.1 717.7L613.3 721.9M616.1 725.9L620.8 722.3M620.8 722.3L620.6 720.0M617.0 716.8L617.1 717.7M611.0 721.5L607.2 715.2M626.4 726.7L628.4 720.6M626.4 726.7L620.8 722.3M634.5 721.5L630.6 719.7M634.5 721.5L639.1 719.0M639.1 719.0L635.5 712.7M628.0 728.2L629.0 734.5M628.0 728.2L634.0 727.2M636.0 731.1L634.0 727.2M636.0 731.1L633.6 735.8M629.0 734.5L631.7 736.3M633.6 735.8L631.7 736.3M634.5 721.5L634.6 726.5M626.5 727.0L628.0 728.2M626.5 727.0L626.4 726.7M624.1 742.6L626.1 744.9M624.1 742.6L623.7 737.4M626.1 744.9L630.5 745.0M623.7 737.4L629.0 734.5M631.1 744.5L631.7 736.3M639.0 738.0L636.7 744.0M639.0 738.0L633.6 735.8M624.1 742.6L618.5 743.2M626.1 744.9L621.0 752.8M619.5 752.7L616.0 746.7M616.0 746.7L618.5 743.2M609.4 753.5L609.4 747.4M609.4 747.4L612.5 745.9M616.0 746.7L612.5 745.9M593.3 741.7L598.0 741.5M600.9 748.0L601.4 747.1M598.0 741.5L601.4 747.1M612.5 745.9L612.2 741.1M612.2 741.1L606.2 739.4M606.2 739.4L605.5 745.5M592.4 727.0L598.5 726.9M599.6 724.3L598.5 726.9M604.2 716.2L603.7 723.0M599.6 724.3L603.7 723.0M611.0 721.5L607.2 726.1M603.7 723.0L607.2 726.1M612.3 734.0L613.9 739.0M620.7 735.6L618.6 731.2M620.7 735.6L616.9 739.6M618.6 731.2L616.1 730.2M616.9 739.6L613.9 739.0M616.1 730.2L614.2 731.0M626.5 727.0L618.6 731.2M623.7 737.4L620.7 735.6M618.5 743.2L616.9 739.6M616.1 725.9L616.1 730.2M612.2 741.1L613.9 739.0M607.2 726.1L607.2 727.0M607.2 727.0L614.2 731.0M572.9 730.7L573.8 726.3M572.9 730.7L576.0 733.8M578.6 732.1L577.8 724.8M578.6 732.1L576.1 733.8M576.1 733.8L576.0 733.8M582.2 732.8L578.6 732.1M578.4 724.1L577.8 724.8M579.5 740.0L576.1 733.8M573.2 741.8L572.4 736.9M572.4 736.9L576.0 733.8M603.8 777.6L601.6 771.6M603.8 777.6L609.1 775.0M609.9 771.5L609.1 775.0M609.9 771.5L604.7 768.6M604.7 768.6L601.6 771.6M603.5 778.8L603.8 777.6M599.2 771.4L601.6 771.6M611.2 777.6L609.1 775.0M604.7 766.1L604.7 768.6M594.6 765.6L594.6 766.9M636.3 695.3L640.0 699.8M646.4 695.9L640.0 699.8M653.6 698.9L650.7 700.2M646.4 695.9L650.7 700.2M654.3 709.9L652.2 708.9M652.2 708.9L649.5 704.0M650.7 700.2L649.5 704.0M654.4 774.1L660.4 767.1M651.8 767.1L657.9 764.7M657.9 764.7L660.4 767.1M665.7 772.7L663.3 767.6M660.4 767.1L663.3 767.6M646.7 763.0L645.3 757.6M640.0 767.4L637.7 764.1M645.3 757.6L644.5 756.7M644.5 756.7L641.3 757.8M637.7 764.1L641.3 757.8M645.4 751.9L644.5 756.7M637.5 751.3L637.7 755.5M641.3 757.8L637.7 755.5M532.1 679.5L535.5 684.5M532.1 679.5L525.4 682.7M535.5 684.5L529.7 688.7M532.0 676.3L532.1 679.5M524.6 682.4L525.4 682.7M565.3 768.9L570.2 770.6M570.6 774.1L570.2 770.6M565.1 769.0L562.3 774.8M567.2 778.7L565.5 779.1M565.5 779.1L562.3 774.8M554.2 772.1L556.8 776.2M562.3 774.8L556.8 776.2M555.2 780.7L555.7 780.5M555.7 780.5L556.8 776.2M578.8 773.7L577.8 771.7M571.7 769.8L577.8 771.7M572.0 760.0L574.7 763.5M571.7 769.8L574.7 763.5M660.1 715.1L662.1 721.5M662.1 721.5L664.0 722.0M664.0 722.0L666.3 727.6M666.7 736.5L664.0 738.9M659.9 737.4L661.2 730.0M666.3 727.6L665.2 729.2M664.5 741.1L664.0 738.9M664.5 741.1L659.6 747.2M659.6 747.2L654.5 741.0M654.5 741.0L655.5 738.7M659.9 737.4L657.2 737.7M657.2 737.7L655.5 738.7M634.6 726.5L640.6 725.8M640.6 725.8L641.7 721.2M641.7 721.2L640.9 719.6M600.1 738.2L605.8 738.5M598.5 734.3L601.0 730.6M607.0 735.8L603.9 730.5M607.0 735.8L605.8 738.5M606.2 739.4L605.8 738.5M592.3 733.9L598.5 734.3M598.5 726.9L601.0 730.6M607.2 727.0L603.9 730.5M612.3 734.0L607.0 735.8M542.2 723.3L546.6 722.8M547.7 731.9L549.2 725.7M546.6 722.8L549.2 725.7M552.4 735.2L553.8 733.4M549.2 725.7L554.2 726.1M565.5 727.7L561.0 730.8M561.0 731.0L561.0 730.8M561.0 731.0L562.2 737.4M564.0 738.4L562.2 737.4M568.5 735.0L568.8 732.0M566.5 723.8L565.5 727.7M566.5 723.8L573.8 726.3M572.9 730.7L568.8 732.0M553.8 733.4L561.0 731.0M554.2 726.1L555.7 725.4M555.7 725.4L561.0 730.8M554.3 740.0L562.2 737.4M566.3 743.9L564.0 738.4M572.4 736.9L568.5 735.0M562.3 713.7L562.3 714.1M562.3 714.1L568.0 718.8M566.5 723.8L566.5 723.5M555.7 725.4L557.6 721.5M566.5 723.5L557.6 721.5M576.0 718.7L568.1 718.9M566.5 723.5L568.1 718.9M568.0 718.8L568.1 718.9M636.2 704.4L639.9 701.5M639.9 701.5L644.4 705.1M644.4 705.1L641.8 710.1M637.7 710.4L641.8 710.1M629.6 702.7L636.2 704.4M640.0 699.8L639.9 701.5M635.5 712.7L637.7 710.4M649.5 704.0L644.4 705.1M645.5 714.0L641.8 710.1M645.5 714.0L645.5 714.4M645.5 714.4L640.9 719.6M657.2 758.8L659.8 757.5M654.4 758.0L654.3 757.9M654.3 757.9L652.1 750.4M659.8 757.5L662.4 752.0M652.1 750.4L659.6 749.1M657.9 764.7L657.2 758.8M650.1 764.0L654.4 758.0M645.3 757.6L654.3 757.9M650.6 749.5L652.1 750.4M650.6 744.1L654.5 741.0M659.6 747.2L659.6 749.1M666.0 749.8L663.3 751.8M630.7 764.1L634.8 763.1M630.7 764.1L628.1 755.4M634.8 763.1L634.2 757.0M634.2 757.0L630.2 754.4M628.1 755.4L630.2 754.4M629.3 765.3L630.7 764.1M637.7 764.1L634.8 763.1M623.9 755.3L628.1 755.4M637.7 755.5L634.2 757.0M631.9 750.7L630.2 754.4M566.0 785.6L564.4 781.7M566.0 785.6L561.1 790.1M564.4 781.7L557.8 782.6M557.8 782.6L558.7 788.6M558.7 788.6L561.1 790.1M565.5 779.1L564.4 781.7M561.7 791.6L561.1 790.1M555.7 780.5L557.8 782.6M554.1 790.2L558.7 788.6M579.6 768.2L577.7 763.7M579.6 768.2L585.2 768.0M585.6 765.0L580.0 762.2M585.6 765.0L585.2 768.0M580.0 762.2L577.7 763.7M577.8 771.7L579.6 768.2M574.7 763.5L577.7 763.7M585.7 769.2L585.2 768.0M581.2 757.6L580.0 762.2M588.7 762.1L585.6 765.0M645.5 741.5L643.8 737.0M655.5 738.7L649.0 734.1M649.0 734.1L643.8 737.0M640.6 725.8L642.1 728.5M641.1 731.5L642.1 728.5M639.0 738.0L642.9 736.6M641.1 731.5L642.9 736.6M642.9 736.6L643.8 737.0M648.0 723.0L651.6 720.0M648.0 723.0L647.8 727.7M647.8 727.7L650.0 730.0M650.0 730.0L655.1 728.4M656.7 724.2L656.4 727.1M656.7 724.2L652.3 719.9M656.4 727.1L655.1 728.4M645.5 714.4L651.6 720.0M641.7 721.2L648.0 723.0M642.1 728.5L647.8 727.7M649.0 734.1L650.0 730.0M657.2 737.7L655.1 728.4M662.1 721.5L656.7 724.2M661.2 730.0L656.4 727.1M655.7 713.6L652.3 719.9M557.5 719.1L557.2 720.5M557.2 720.5L548.9 718.4M553.7 712.6L548.6 714.9M548.6 714.9L548.9 718.4M562.3 714.1L557.5 719.1M557.6 721.5L557.2 720.5M555.0 710.5L553.7 712.6M546.6 722.8L548.9 718.4M547.2 713.7L548.6 714.9" stroke="#b8628b" stroke-width="1.7" stroke-linecap="round" fill="none"/>
<g fill="#62286c"><circle cx="588.8" cy="762.1" r="0.95"/><circle cx="629.0" cy="791.1" r="0.95"/><circle cx="532.3" cy="716.8" r="0.95"/><circle cx="527.8" cy="738.8" r="0.95"/><circle cx="585.6" cy="711.0" r="0.95"/><circle cx="612.2" cy="703.4" r="0.95"/><circle cx="577.5" cy="732.8" r="0.95"/><circle cx="628.3" cy="662.6" r="0.95"/><circle cx="599.8" cy="724.2" r="0.95"/><circle cx="553.4" cy="662.7" r="0.95"/><circle cx="598.4" cy="711.0" r="0.95"/><circle cx="639.2" cy="788.9" r="0.95"/><circle cx="645.8" cy="686.7" r="0.95"/><circle cx="604.1" cy="685.3" r="0.95"/><circle cx="572.9" cy="659.2" r="0.95"/><circle cx="553.1" cy="750.2" r="0.95"/><circle cx="554.6" cy="710.1" r="0.95"/><circle cx="659.6" cy="694.2" r="0.95"/><circle cx="595.1" cy="707.7" r="0.95"/><circle cx="569.8" cy="760.1" r="0.95"/><circle cx="616.7" cy="730.4" r="0.95"/><circle cx="658.3" cy="737.6" r="0.95"/><circle cx="532.1" cy="677.5" r="0.95"/><circle cx="574.3" cy="666.1" r="0.95"/><circle cx="561.6" cy="689.0" r="0.95"/><circle cx="601.1" cy="761.8" r="0.95"/><circle cx="608.6" cy="782.5" r="0.95"/><circle cx="614.1" cy="773.0" r="0.95"/><circle cx="534.6" cy="709.4" r="0.95"/><circle cx="616.4" cy="746.2" r="0.95"/><circle cx="608.8" cy="788.1" r="0.95"/><circle cx="647.4" cy="704.5" r="0.95"/><circle cx="545.6" cy="713.8" r="0.95"/><circle cx="569.6" cy="743.3" r="0.95"/><circle cx="538.6" cy="759.6" r="0.95"/><circle cx="565.3" cy="778.8" r="0.95"/><circle cx="543.0" cy="754.9" r="0.95"/><circle cx="553.3" cy="733.9" r="0.95"/><circle cx="575.6" cy="710.4" r="0.95"/><circle cx="555.8" cy="749.8" r="0.95"/><circle cx="656.1" cy="772.1" r="0.95"/><circle cx="552.4" cy="792.7" r="0.95"/><circle cx="599.0" cy="794.7" r="0.95"/><circle cx="664.8" cy="724.0" r="0.95"/><circle cx="539.8" cy="662.1" r="0.95"/><circle cx="616.8" cy="700.4" r="0.95"/><circle cx="542.5" cy="669.2" r="0.95"/><circle cx="654.8" cy="711.4" r="0.95"/><circle cx="665.8" cy="749.9" r="0.95"/><circle cx="645.0" cy="757.2" r="0.95"/><circle cx="592.3" cy="789.2" r="0.95"/><circle cx="616.1" cy="729.6" r="0.95"/><circle cx="541.1" cy="787.0" r="0.95"/><circle cx="539.2" cy="766.7" r="0.95"/><circle cx="569.4" cy="786.2" r="0.95"/><circle cx="578.7" cy="696.7" r="0.95"/><circle cx="579.2" cy="696.4" r="0.95"/><circle cx="523.5" cy="744.5" r="0.95"/><circle cx="596.4" cy="720.6" r="0.95"/><circle cx="529.5" cy="675.6" r="0.95"/><circle cx="539.6" cy="681.2" r="0.95"/><circle cx="587.6" cy="778.1" r="0.95"/><circle cx="647.8" cy="727.5" r="0.95"/><circle cx="662.1" cy="790.9" r="0.95"/><circle cx="618.6" cy="793.4" r="0.95"/><circle cx="631.2" cy="787.6" r="0.95"/><circle cx="641.0" cy="746.9" r="0.95"/><circle cx="604.1" cy="699.1" r="0.95"/><circle cx="610.9" cy="777.2" r="0.95"/><circle cx="633.3" cy="744.3" r="0.95"/><circle cx="519.7" cy="757.6" r="0.95"/><circle cx="580.4" cy="695.6" r="0.95"/><circle cx="566.1" cy="761.3" r="0.95"/><circle cx="636.3" cy="685.5" r="0.95"/><circle cx="608.9" cy="662.1" r="0.95"/><circle cx="545.9" cy="685.6" r="0.95"/><circle cx="563.0" cy="761.1" r="0.95"/><circle cx="540.4" cy="655.3" r="0.95"/><circle cx="656.4" cy="738.2" r="0.95"/><circle cx="566.2" cy="743.9" r="0.95"/><circle cx="519.2" cy="757.3" r="0.95"/><circle cx="608.2" cy="673.7" r="0.95"/><circle cx="637.6" cy="782.5" r="0.95"/><circle cx="590.5" cy="782.0" r="0.95"/><circle cx="551.9" cy="762.0" r="0.95"/><circle cx="652.0" cy="674.1" r="0.95"/><circle cx="605.9" cy="754.9" r="0.95"/><circle cx="533.9" cy="747.8" r="0.95"/><circle cx="617.6" cy="656.2" r="0.95"/><circle cx="659.3" cy="787.5" r="0.95"/><circle cx="652.8" cy="772.0" r="0.95"/><circle cx="562.2" cy="782.0" r="0.95"/><circle cx="652.5" cy="771.7" r="0.95"/><circle cx="543.8" cy="739.1" r="0.95"/><circle cx="644.2" cy="743.0" r="0.95"/><circle cx="634.9" cy="776.6" r="0.95"/><circle cx="654.8" cy="750.0" r="0.95"/><circle cx="657.5" cy="678.4" r="0.95"/><circle cx="540.6" cy="783.7" r="0.95"/><circle cx="579.7" cy="724.1" r="0.95"/><circle cx="602.6" cy="787.7" r="0.95"/><circle cx="610.2" cy="783.1" r="0.95"/><circle cx="546.0" cy="760.0" r="0.95"/><circle cx="519.6" cy="757.5" r="0.95"/><circle cx="545.6" cy="752.8" r="0.95"/><circle cx="566.5" cy="723.6" r="0.95"/><circle cx="522.7" cy="690.0" r="0.95"/><circle cx="602.7" cy="785.9" r="0.95"/><circle cx="536.1" cy="782.1" r="0.95"/><circle cx="565.5" cy="666.8" r="0.95"/><circle cx="536.6" cy="731.6" r="0.95"/><circle cx="572.1" cy="697.7" r="0.95"/><circle cx="623.5" cy="699.6" r="0.95"/><circle cx="632.3" cy="793.2" r="0.95"/><circle cx="535.7" cy="782.7" r="0.95"/><circle cx="561.6" cy="698.2" r="0.95"/><circle cx="652.9" cy="673.3" r="0.95"/><circle cx="657.7" cy="737.6" r="0.95"/><circle cx="567.4" cy="652.4" r="0.95"/><circle cx="552.5" cy="725.9" r="0.95"/><circle cx="537.8" cy="757.8" r="0.95"/><circle cx="596.3" cy="686.0" r="0.95"/><circle cx="658.8" cy="651.8" r="0.95"/><circle cx="596.9" cy="673.7" r="0.95"/><circle cx="542.9" cy="746.1" r="0.95"/><circle cx="624.7" cy="682.8" r="0.95"/><circle cx="615.8" cy="694.7" r="0.95"/><circle cx="626.0" cy="658.1" r="0.95"/><circle cx="592.3" cy="748.7" r="0.95"/><circle cx="612.0" cy="746.1" r="0.95"/><circle cx="590.5" cy="703.4" r="0.95"/><circle cx="532.5" cy="768.9" r="0.95"/><circle cx="656.6" cy="725.4" r="0.95"/><circle cx="565.8" cy="785.1" r="0.95"/><circle cx="593.2" cy="688.1" r="0.95"/><circle cx="524.7" cy="714.4" r="0.95"/><circle cx="589.4" cy="724.9" r="0.95"/><circle cx="586.1" cy="697.0" r="0.95"/><circle cx="548.2" cy="724.6" r="0.95"/><circle cx="562.8" cy="661.4" r="0.95"/><circle cx="591.5" cy="745.9" r="0.95"/><circle cx="566.5" cy="723.6" r="0.95"/><circle cx="628.6" cy="663.3" r="0.95"/><circle cx="586.7" cy="719.9" r="0.95"/><circle cx="597.4" cy="785.7" r="0.95"/><circle cx="526.6" cy="730.1" r="0.95"/><circle cx="654.2" cy="670.3" r="0.95"/><circle cx="595.8" cy="715.4" r="0.95"/><circle cx="556.9" cy="789.2" r="0.95"/><circle cx="538.0" cy="731.1" r="0.95"/><circle cx="528.7" cy="681.1" r="0.95"/><circle cx="570.8" cy="731.4" r="0.95"/><circle cx="579.8" cy="662.0" r="0.95"/><circle cx="529.3" cy="690.5" r="0.95"/><circle cx="530.9" cy="722.8" r="0.95"/><circle cx="594.6" cy="664.7" r="0.95"/><circle cx="618.6" cy="793.3" r="0.95"/><circle cx="531.9" cy="716.1" r="0.95"/><circle cx="616.0" cy="730.3" r="0.95"/><circle cx="614.4" cy="757.4" r="0.95"/><circle cx="592.5" cy="690.3" r="0.95"/><circle cx="556.5" cy="764.3" r="0.95"/><circle cx="598.3" cy="674.9" r="0.95"/><circle cx="645.7" cy="686.4" r="0.95"/><circle cx="527.8" cy="738.6" r="0.95"/><circle cx="638.4" cy="710.3" r="0.95"/><circle cx="643.8" cy="778.9" r="0.95"/><circle cx="607.2" cy="727.0" r="0.95"/><circle cx="615.8" cy="719.1" r="0.95"/><circle cx="541.5" cy="743.9" r="0.95"/><circle cx="541.6" cy="749.4" r="0.95"/><circle cx="528.5" cy="713.7" r="0.95"/><circle cx="578.3" cy="772.8" r="0.95"/><circle cx="530.2" cy="711.6" r="0.95"/><circle cx="654.0" cy="721.5" r="0.95"/><circle cx="642.1" cy="728.4" r="0.95"/><circle cx="536.4" cy="659.9" r="0.95"/><circle cx="630.2" cy="771.1" r="0.95"/><circle cx="649.0" cy="654.4" r="0.95"/><circle cx="582.9" cy="684.0" r="0.95"/><circle cx="598.8" cy="716.6" r="0.95"/><circle cx="618.2" cy="674.2" r="0.95"/><circle cx="534.5" cy="694.1" r="0.95"/><circle cx="650.0" cy="721.3" r="0.95"/><circle cx="593.5" cy="750.2" r="0.95"/><circle cx="583.1" cy="715.1" r="0.95"/><circle cx="588.0" cy="724.1" r="0.95"/><circle cx="530.7" cy="714.4" r="0.95"/><circle cx="525.7" cy="708.6" r="0.95"/><circle cx="619.7" cy="664.0" r="0.95"/><circle cx="644.5" cy="778.4" r="0.95"/><circle cx="567.2" cy="673.7" r="0.95"/><circle cx="640.9" cy="748.5" r="0.95"/><circle cx="616.3" cy="747.2" r="0.95"/><circle cx="602.0" cy="679.0" r="0.95"/><circle cx="582.3" cy="652.4" r="0.95"/><circle cx="625.5" cy="656.4" r="0.95"/><circle cx="637.9" cy="781.8" r="0.95"/><circle cx="554.3" cy="709.7" r="0.95"/><circle cx="565.7" cy="744.4" r="0.95"/><circle cx="570.7" cy="760.1" r="0.95"/><circle cx="626.7" cy="755.4" r="0.95"/><circle cx="600.3" cy="689.5" r="0.95"/><circle cx="530.0" cy="713.1" r="0.95"/><circle cx="631.1" cy="673.5" r="0.95"/><circle cx="556.6" cy="789.3" r="0.95"/><circle cx="582.9" cy="734.9" r="0.95"/><circle cx="580.9" cy="669.2" r="0.95"/><circle cx="628.7" cy="663.3" r="0.95"/><circle cx="573.5" cy="727.8" r="0.95"/><circle cx="623.8" cy="784.8" r="0.95"/><circle cx="562.9" cy="745.1" r="0.95"/><circle cx="523.3" cy="720.7" r="0.95"/><circle cx="589.1" cy="677.3" r="0.95"/><circle cx="603.0" cy="788.8" r="0.95"/><circle cx="621.8" cy="675.6" r="0.95"/><circle cx="547.2" cy="690.5" r="0.95"/><circle cx="645.2" cy="779.6" r="0.95"/><circle cx="591.9" cy="790.9" r="0.95"/><circle cx="616.1" cy="775.2" r="0.95"/><circle cx="665.6" cy="701.4" r="0.95"/><circle cx="662.0" cy="687.3" r="0.95"/><circle cx="651.8" cy="767.1" r="0.95"/><circle cx="560.7" cy="760.2" r="0.95"/><circle cx="593.3" cy="757.4" r="0.95"/><circle cx="553.4" cy="739.6" r="0.95"/><circle cx="585.4" cy="720.5" r="0.95"/><circle cx="591.1" cy="790.7" r="0.95"/><circle cx="538.1" cy="781.8" r="0.95"/><circle cx="540.7" cy="731.0" r="0.95"/><circle cx="524.5" cy="682.0" r="0.95"/><circle cx="535.7" cy="755.4" r="0.95"/><circle cx="597.1" cy="659.5" r="0.95"/><circle cx="602.1" cy="763.6" r="0.95"/><circle cx="524.4" cy="752.5" r="0.95"/><circle cx="594.5" cy="697.0" r="0.95"/><circle cx="585.2" cy="770.3" r="0.95"/><circle cx="646.7" cy="757.6" r="0.95"/><circle cx="571.9" cy="650.9" r="0.95"/><circle cx="641.7" cy="729.6" r="0.95"/><circle cx="554.8" cy="790.0" r="0.95"/><circle cx="548.8" cy="717.5" r="0.95"/><circle cx="532.6" cy="702.1" r="0.95"/><circle cx="524.1" cy="720.9" r="0.95"/><circle cx="598.6" cy="659.0" r="0.95"/><circle cx="560.3" cy="760.3" r="0.95"/><circle cx="605.5" cy="655.1" r="0.95"/><circle cx="523.4" cy="771.3" r="0.95"/><circle cx="569.8" cy="688.2" r="0.95"/><circle cx="528.9" cy="671.4" r="0.95"/><circle cx="628.0" cy="688.3" r="0.95"/><circle cx="558.6" cy="788.0" r="0.95"/><circle cx="541.9" cy="749.8" r="0.95"/><circle cx="609.7" cy="700.4" r="0.95"/><circle cx="552.8" cy="734.7" r="0.95"/><circle cx="538.7" cy="698.7" r="0.95"/><circle cx="640.1" cy="664.5" r="0.95"/><circle cx="588.1" cy="779.2" r="0.95"/><circle cx="573.2" cy="766.7" r="0.95"/><circle cx="584.1" cy="794.9" r="0.95"/><circle cx="611.9" cy="769.9" r="0.95"/><circle cx="530.6" cy="729.2" r="0.95"/><circle cx="562.0" cy="653.5" r="0.95"/><circle cx="613.8" cy="762.3" r="0.95"/><circle cx="600.3" cy="689.3" r="0.95"/><circle cx="591.7" cy="705.4" r="0.95"/><circle cx="526.2" cy="741.2" r="0.95"/><circle cx="644.4" cy="712.9" r="0.95"/><circle cx="651.4" cy="729.6" r="0.95"/><circle cx="656.4" cy="738.2" r="0.95"/><circle cx="535.1" cy="668.5" r="0.95"/><circle cx="535.5" cy="732.0" r="0.95"/><circle cx="529.8" cy="766.1" r="0.95"/><circle cx="528.5" cy="707.3" r="0.95"/><circle cx="541.2" cy="706.9" r="0.95"/><circle cx="641.3" cy="757.8" r="0.95"/><circle cx="542.5" cy="784.8" r="0.95"/><circle cx="615.5" cy="687.9" r="0.95"/><circle cx="527.6" cy="752.3" r="0.95"/><circle cx="561.1" cy="715.4" r="0.95"/><circle cx="555.1" cy="756.3" r="0.95"/><circle cx="578.3" cy="770.7" r="0.95"/><circle cx="538.3" cy="658.2" r="0.95"/><circle cx="528.1" cy="722.4" r="0.95"/><circle cx="641.7" cy="702.9" r="0.95"/><circle cx="582.3" cy="786.5" r="0.95"/><circle cx="654.3" cy="757.9" r="0.95"/><circle cx="617.1" cy="717.1" r="0.95"/><circle cx="587.3" cy="669.0" r="0.95"/><circle cx="609.6" cy="661.7" r="0.95"/><circle cx="628.4" cy="703.3" r="0.95"/><circle cx="665.5" cy="773.0" r="0.95"/><circle cx="565.6" cy="666.7" r="0.95"/><circle cx="541.3" cy="741.6" r="0.95"/><circle cx="644.4" cy="788.3" r="0.95"/><circle cx="576.1" cy="708.4" r="0.95"/><circle cx="540.2" cy="709.3" r="0.95"/><circle cx="614.7" cy="739.2" r="0.95"/><circle cx="659.6" cy="651.8" r="0.95"/><circle cx="664.2" cy="775.8" r="0.95"/><circle cx="624.7" cy="773.3" r="0.95"/><circle cx="572.2" cy="664.4" r="0.95"/><circle cx="604.6" cy="664.8" r="0.95"/><circle cx="583.6" cy="746.3" r="0.95"/><circle cx="536.5" cy="673.5" r="0.95"/><circle cx="614.3" cy="739.1" r="0.95"/><circle cx="650.6" cy="744.6" r="0.95"/><circle cx="583.6" cy="780.8" r="0.95"/><circle cx="522.3" cy="773.6" r="0.95"/><circle cx="630.2" cy="735.3" r="0.95"/><circle cx="590.9" cy="677.9" r="0.95"/><circle cx="620.3" cy="780.5" r="0.95"/><circle cx="558.3" cy="668.4" r="0.95"/><circle cx="625.5" cy="736.4" r="0.95"/><circle cx="598.6" cy="757.8" r="0.95"/><circle cx="623.1" cy="657.2" r="0.95"/><circle cx="629.6" cy="655.6" r="0.95"/><circle cx="631.3" cy="787.6" r="0.95"/><circle cx="638.0" cy="780.8" r="0.95"/><circle cx="634.5" cy="756.9" r="0.95"/><circle cx="629.3" cy="759.3" r="0.95"/><circle cx="530.3" cy="688.3" r="0.95"/><circle cx="639.3" cy="761.4" r="0.95"/><circle cx="577.6" cy="715.1" r="0.95"/><circle cx="560.4" cy="712.4" r="0.95"/><circle cx="534.9" cy="748.4" r="0.95"/><circle cx="545.4" cy="680.5" r="0.95"/><circle cx="541.8" cy="722.5" r="0.95"/><circle cx="626.5" cy="726.9" r="0.95"/><circle cx="561.3" cy="715.1" r="0.95"/><circle cx="599.6" cy="695.7" r="0.95"/><circle cx="599.3" cy="715.3" r="0.95"/><circle cx="555.8" cy="763.5" r="0.95"/><circle cx="558.3" cy="785.8" r="0.95"/><circle cx="613.9" cy="712.4" r="0.95"/><circle cx="573.6" cy="665.9" r="0.95"/><circle cx="654.5" cy="766.0" r="0.95"/><circle cx="547.0" cy="732.1" r="0.95"/><circle cx="662.8" cy="670.3" r="0.95"/><circle cx="608.3" cy="724.8" r="0.95"/><circle cx="549.1" cy="725.6" r="0.95"/><circle cx="645.5" cy="714.0" r="0.95"/><circle cx="615.6" cy="786.7" r="0.95"/><circle cx="605.7" cy="738.5" r="0.95"/><circle cx="574.3" cy="666.1" r="0.95"/><circle cx="643.8" cy="778.9" r="0.95"/><circle cx="557.2" cy="720.4" r="0.95"/><circle cx="554.4" cy="656.7" r="0.95"/><circle cx="561.8" cy="774.9" r="0.95"/><circle cx="585.6" cy="658.9" r="0.95"/><circle cx="544.3" cy="692.3" r="0.95"/><circle cx="622.0" cy="678.3" r="0.95"/><circle cx="613.7" cy="762.6" r="0.95"/><circle cx="584.1" cy="660.7" r="0.95"/><circle cx="602.3" cy="773.4" r="0.95"/><circle cx="539.4" cy="654.9" r="0.95"/><circle cx="622.3" cy="754.0" r="0.95"/><circle cx="583.9" cy="723.0" r="0.95"/><circle cx="646.5" cy="770.7" r="0.95"/><circle cx="524.1" cy="697.0" r="0.95"/><circle cx="613.9" cy="762.2" r="0.95"/><circle cx="541.4" cy="785.2" r="0.95"/><circle cx="566.2" cy="676.9" r="0.95"/><circle cx="640.4" cy="665.0" r="0.95"/><circle cx="657.3" cy="678.5" r="0.95"/><circle cx="556.4" cy="749.2" r="0.95"/><circle cx="549.4" cy="743.3" r="0.95"/><circle cx="593.7" cy="741.7" r="0.95"/><circle cx="627.2" cy="776.4" r="0.95"/><circle cx="535.3" cy="669.6" r="0.95"/><circle cx="642.4" cy="679.2" r="0.95"/><circle cx="601.1" cy="747.7" r="0.95"/><circle cx="630.4" cy="786.2" r="0.95"/><circle cx="662.5" cy="707.4" r="0.95"/><circle cx="561.7" cy="791.5" r="0.95"/><circle cx="659.6" cy="749.1" r="0.95"/><circle cx="565.6" cy="744.5" r="0.95"/><circle cx="548.8" cy="744.6" r="0.95"/><circle cx="654.6" cy="774.9" r="0.95"/><circle cx="662.7" cy="695.9" r="0.95"/><circle cx="659.6" cy="748.4" r="0.95"/><circle cx="648.3" cy="770.5" r="0.95"/><circle cx="646.1" cy="781.4" r="0.95"/><circle cx="567.4" cy="652.5" r="0.95"/><circle cx="652.6" cy="776.1" r="0.95"/><circle cx="592.9" cy="662.3" r="0.95"/><circle cx="583.8" cy="705.5" r="0.95"/><circle cx="641.6" cy="757.7" r="0.95"/><circle cx="575.1" cy="751.7" r="0.95"/><circle cx="551.4" cy="697.5" r="0.95"/><circle cx="621.4" cy="707.2" r="0.95"/><circle cx="557.3" cy="720.7" r="0.95"/><circle cx="635.2" cy="672.0" r="0.95"/><circle cx="572.2" cy="781.4" r="0.95"/><circle cx="619.3" cy="708.0" r="0.95"/><circle cx="552.1" cy="659.8" r="0.95"/><circle cx="576.9" cy="786.9" r="0.95"/><circle cx="597.8" cy="741.5" r="0.95"/><circle cx="552.8" cy="661.5" r="0.95"/><circle cx="572.9" cy="751.6" r="0.95"/><circle cx="552.7" cy="739.7" r="0.95"/><circle cx="573.0" cy="730.3" r="0.95"/><circle cx="547.1" cy="723.4" r="0.95"/><circle cx="658.4" cy="765.1" r="0.95"/><circle cx="561.7" cy="760.6" r="0.95"/><circle cx="549.3" cy="725.7" r="0.95"/><circle cx="629.7" cy="735.0" r="0.95"/><circle cx="616.3" cy="725.7" r="0.95"/><circle cx="528.6" cy="667.0" r="0.95"/><circle cx="598.9" cy="713.4" r="0.95"/><circle cx="593.6" cy="707.7" r="0.95"/><circle cx="640.8" cy="747.7" r="0.95"/><circle cx="646.2" cy="694.4" r="0.95"/><circle cx="587.0" cy="678.2" r="0.95"/><circle cx="579.8" cy="739.7" r="0.95"/><circle cx="597.7" cy="756.7" r="0.95"/><circle cx="575.5" cy="710.7" r="0.95"/><circle cx="648.3" cy="663.4" r="0.95"/><circle cx="657.3" cy="737.7" r="0.95"/><circle cx="551.8" cy="786.7" r="0.95"/><circle cx="617.2" cy="740.2" r="0.95"/><circle cx="600.6" cy="681.9" r="0.95"/><circle cx="585.4" cy="720.5" r="0.95"/><circle cx="623.0" cy="763.5" r="0.95"/><circle cx="580.6" cy="695.5" r="0.95"/><circle cx="594.5" cy="756.0" r="0.95"/><circle cx="660.8" cy="717.4" r="0.95"/><circle cx="552.8" cy="699.7" r="0.95"/><circle cx="624.0" cy="790.5" r="0.95"/><circle cx="583.3" cy="665.5" r="0.95"/><circle cx="643.2" cy="679.7" r="0.95"/><circle cx="592.5" cy="749.4" r="0.95"/><circle cx="618.8" cy="731.7" r="0.95"/><circle cx="539.9" cy="714.6" r="0.95"/><circle cx="530.2" cy="779.1" r="0.95"/><circle cx="599.7" cy="744.3" r="0.95"/><circle cx="665.3" cy="771.8" r="0.95"/><circle cx="604.1" cy="685.4" r="0.95"/><circle cx="649.3" cy="663.3" r="0.95"/><circle cx="563.9" cy="674.6" r="0.95"/><circle cx="664.4" cy="707.1" r="0.95"/><circle cx="601.3" cy="680.1" r="0.95"/><circle cx="619.8" cy="663.3" r="0.95"/><circle cx="583.6" cy="666.7" r="0.95"/><circle cx="641.5" cy="670.5" r="0.95"/><circle cx="588.8" cy="730.6" r="0.95"/><circle cx="630.4" cy="786.3" r="0.95"/><circle cx="578.6" cy="668.6" r="0.95"/><circle cx="527.3" cy="722.4" r="0.95"/><circle cx="525.5" cy="746.2" r="0.95"/><circle cx="630.6" cy="673.4" r="0.95"/><circle cx="561.6" cy="730.4" r="0.95"/><circle cx="526.3" cy="722.3" r="0.95"/><circle cx="609.6" cy="654.1" r="0.95"/><circle cx="664.2" cy="707.2" r="0.95"/><circle cx="525.1" cy="768.9" r="0.95"/><circle cx="550.2" cy="741.3" r="0.95"/><circle cx="539.3" cy="672.1" r="0.95"/><circle cx="573.9" cy="694.0" r="0.95"/><circle cx="621.7" cy="658.0" r="0.95"/><circle cx="663.1" cy="664.6" r="0.95"/><circle cx="613.9" cy="782.4" r="0.95"/><circle cx="537.6" cy="685.2" r="0.95"/><circle cx="587.6" cy="676.6" r="0.95"/><circle cx="557.4" cy="692.8" r="0.95"/><circle cx="583.3" cy="781.2" r="0.95"/><circle cx="601.5" cy="749.9" r="0.95"/><circle cx="541.0" cy="678.7" r="0.95"/><circle cx="543.2" cy="733.1" r="0.95"/><circle cx="632.3" cy="672.4" r="0.95"/><circle cx="565.9" cy="723.4" r="0.95"/><circle cx="520.0" cy="758.0" r="0.95"/><circle cx="593.6" cy="691.6" r="0.95"/><circle cx="534.0" cy="747.9" r="0.95"/><circle cx="655.3" cy="712.5" r="0.95"/><circle cx="634.0" cy="727.3" r="0.95"/><circle cx="556.7" cy="748.0" r="0.95"/><circle cx="664.3" cy="779.5" r="0.95"/><circle cx="542.2" cy="779.7" r="0.95"/><circle cx="530.0" cy="712.8" r="0.95"/><circle cx="562.2" cy="760.8" r="0.95"/><circle cx="616.6" cy="788.4" r="0.95"/><circle cx="587.3" cy="778.2" r="0.95"/><circle cx="576.0" cy="733.8" r="0.95"/><circle cx="599.5" cy="724.6" r="0.95"/><circle cx="530.8" cy="748.5" r="0.95"/><circle cx="548.0" cy="759.9" r="0.95"/><circle cx="634.1" cy="777.8" r="0.95"/><circle cx="664.3" cy="777.8" r="0.95"/><circle cx="639.1" cy="788.9" r="0.95"/><circle cx="535.1" cy="674.2" r="0.95"/><circle cx="561.2" cy="698.9" r="0.95"/><circle cx="618.9" cy="777.5" r="0.95"/><circle cx="559.1" cy="702.7" r="0.95"/><circle cx="550.4" cy="659.8" r="0.95"/><circle cx="549.6" cy="750.9" r="0.95"/><circle cx="583.8" cy="680.8" r="0.95"/><circle cx="566.5" cy="723.7" r="0.95"/><circle cx="586.1" cy="777.8" r="0.95"/><circle cx="575.7" cy="791.1" r="0.95"/><circle cx="644.7" cy="779.1" r="0.95"/><circle cx="542.1" cy="738.8" r="0.95"/><circle cx="585.1" cy="721.5" r="0.95"/><circle cx="597.1" cy="659.5" r="0.95"/><circle cx="656.2" cy="727.3" r="0.95"/><circle cx="530.2" cy="766.8" r="0.95"/><circle cx="581.3" cy="669.3" r="0.95"/><circle cx="578.0" cy="714.2" r="0.95"/><circle cx="593.3" cy="661.1" r="0.95"/><circle cx="591.0" cy="761.9" r="0.95"/><circle cx="566.3" cy="778.9" r="0.95"/><circle cx="564.8" cy="747.3" r="0.95"/><circle cx="553.2" cy="750.2" r="0.95"/><circle cx="605.0" cy="724.2" r="0.95"/><circle cx="565.2" cy="769.0" r="0.95"/><circle cx="609.8" cy="772.1" r="0.95"/><circle cx="522.5" cy="673.7" r="0.95"/><circle cx="643.8" cy="712.2" r="0.95"/><circle cx="663.9" cy="768.8" r="0.95"/><circle cx="556.7" cy="776.9" r="0.95"/></g>
<ellipse cx="556" cy="748" rx="6" ry="5" fill="#cdc8cc"/>
<ellipse cx="600" cy="735" rx="5" ry="4" fill="#cdc8cc"/>
<ellipse cx="630" cy="745" rx="6" ry="4" fill="#cdc8cc"/>
<ellipse cx="548" cy="712" rx="4" ry="5" fill="#cdc8cc"/>
<ellipse cx="652" cy="722" rx="4" ry="6" fill="#cdc8cc"/>
<ellipse cx="603" cy="690" rx="5" ry="4" fill="#cdc8cc"/>
<ellipse cx="540" cy="770" rx="5" ry="4" fill="#cdc8cc"/>
<ellipse cx="640" cy="782" rx="5" ry="4" fill="#cdc8cc"/>
<polygon points="578,716 586,714 589,725 588,745 590,765 592,794 579,794 577,770 574,745 575,728" fill="#cdc8cc" />
<polygon points="531,654 541,654 537,670 532,688 526,692 524,676 527,664" fill="#cdc8cc" />
<path d="M541 654 L537 670 L532 688 L526 693" stroke="#a84e80" stroke-width="1.6" fill="none"/>
<g fill="#6e3278" opacity="0.85">
<ellipse cx="559.5" cy="665" rx="8.5" ry="6.5"/>
<path d="M574 673 L584 671 L593 675 L595 684 L591 691 L580 692 L574 687 L572 680Z"/>
<path d="M627 664 L639 662 L650 669 L652 683 L646 696 L638 698 L631 689 L628 678Z"/>
<path d="M610 752 L622 750 L628 760 L627 772 L618 777 L610 770 L608 760Z"/>
<path d="M561 725 L572 724 L576 733 L574 742 L564 743 L559 735Z"/>
</g>
<g fill="#3e1a4e"><ellipse cx="559" cy="665" rx="6" ry="4.2"/><ellipse cx="614" cy="766" rx="4" ry="5"/></g>
<g fill="#cdc8cc"><ellipse cx="587" cy="678" rx="4" ry="5"/><circle cx="632" cy="668" r="4.5"/><circle cx="643" cy="688" r="3.5"/><ellipse cx="619" cy="761" rx="2" ry="3"/></g>
<circle cx="568" cy="737.3" r="2.8" fill="#d27a66"/>
</g></g>
<rect x="19.5" y="653.5" width="159" height="138.8" fill="none" stroke="#111" stroke-width="1.8" />
<rect x="187.8" y="653.5" width="139.5" height="138.3" fill="none" stroke="#111" stroke-width="1.8" />
<rect x="355.5" y="653.5" width="158.5" height="139" fill="none" stroke="#111" stroke-width="1.8" />
<rect x="522.9" y="653.8" width="140" height="138.6" fill="none" stroke="#111" stroke-width="1.8" />
<rect x="19.5" y="800.4" width="159.5" height="140.6" fill="#03030c" stroke="none" stroke-width="1" />
<rect x="187" y="800.4" width="141" height="140.6" fill="#03030c" stroke="none" stroke-width="1" />
<rect x="355.2" y="800.4" width="159.6" height="140.6" fill="#03030c" stroke="none" stroke-width="1" />
<rect x="522.6" y="800.6" width="140.6" height="140.4" fill="#03030c" stroke="none" stroke-width="1" />
<g clip-path="url(#c_hBL)">
<rect x="19" y="800" width="160" height="140" fill="#1216a4" stroke="none" stroke-width="1" />
<rect x="19" y="800" width="160" height="140" filter="url(#ifH)"/>
<g opacity="0.95">
<mask id="m_hBLg"><rect x="19" y="800" width="160" height="140" fill="#000"/><g filter="url(#soft45)"><ellipse cx="40" cy="906" rx="22" ry="22" fill="#fff"/><ellipse cx="60" cy="930" rx="14" ry="8" fill="#fff"/><polygon points="152,805 176,805 178,842 162,850 150,832" fill="#fff" opacity="0.95"/><path d="M160 846 L156 866 L151 880 L141 893" stroke="#fff" stroke-width="8" fill="none" opacity="0.8"/><path d="M27 890 L35 878 L45 873 L52 866 L68 861 L80 850" stroke="#fff" stroke-width="5" fill="none" opacity="0.7"/><circle cx="130" cy="845" r="7" fill="#fff" opacity="0.85"/><circle cx="145" cy="862" r="5" fill="#fff" opacity="0.8"/><circle cx="100" cy="895" r="5" fill="#fff" opacity="0.7"/><circle cx="82" cy="880" r="5" fill="#fff" opacity="0.6"/><circle cx="120" cy="872" r="4" fill="#fff" opacity="0.6"/><circle cx="66" cy="872" r="5" fill="#fff" opacity="0.6"/><circle cx="112" cy="832" r="4" fill="#fff" opacity="0.6"/><circle cx="94" cy="858" r="3" fill="#fff" opacity="0.5"/></g></mask>
<rect x="19" y="800" width="160" height="140" filter="url(#ifGreen)" mask="url(#m_hBLg)"/>
</g>
<ellipse cx="140" cy="832" rx="3" ry="4" fill="#03030c"/>
<ellipse cx="143" cy="850" rx="3.5" ry="6" fill="#03030c"/>
<ellipse cx="88" cy="872" rx="2.5" ry="3" fill="#03030c"/>
<ellipse cx="94" cy="896" rx="4" ry="4.5" fill="#03030c"/>
<ellipse cx="60" cy="882" rx="3" ry="3" fill="#03030c"/>
<ellipse cx="86" cy="860" rx="2" ry="3" fill="#03030c"/>
<ellipse cx="120" cy="860" rx="2" ry="2" fill="#03030c"/>
<ellipse cx="40" cy="890" rx="2" ry="2" fill="#03030c"/>
</g>
<path d="M42 855 C46 850 52 848 58 848 L64 847" stroke="#1b1eae" stroke-width="1.5" fill="none"/>
<g clip-path="url(#c_hBR)">
<rect x="187" y="800" width="141" height="115" fill="#1619a6" stroke="none" stroke-width="1" />
<rect x="187" y="800" width="141" height="115" filter="url(#ifH)"/>
<linearGradient id="gBR" x1="0" y1="0" x2="0" y2="1"><stop offset="0" stop-color="#fff" stop-opacity="0.35"/><stop offset="0.6" stop-color="#fff" stop-opacity="0.9"/><stop offset="1" stop-color="#fff" stop-opacity="1"/></linearGradient><mask id="mBR"><rect x="187" y="800" width="141" height="115" fill="url(#gBR)"/></mask>
<rect x="187" y="800" width="141" height="115" filter="url(#ifGreenP2)" mask="url(#mBR)"/>
<rect x="187" y="800" width="141" height="115" filter="url(#ifHoles)"/>
</g>
<g clip-path="url(#c_iBL)">
<rect x="355" y="800" width="160" height="140" fill="#0f0874" stroke="none" stroke-width="1" />
<rect x="355" y="800" width="160" height="140" filter="url(#ifI2)"/>
<polygon points="437,823 441,828 446,842 452,856 458,868 456,876 450,866 444,852 438,838 435,828" fill="#05040f" />
<polygon points="431,806 435,806 434,826 431,820" fill="#05040f" />
<ellipse cx="402" cy="848" rx="1.5" ry="2.5" fill="#05040f"/>
<ellipse cx="392" cy="820" rx="2" ry="1.5" fill="#05040f"/>
<ellipse cx="428" cy="890" rx="2" ry="2.5" fill="#05040f"/>
<ellipse cx="440" cy="906" rx="2" ry="3" fill="#05040f"/>
</g>
<path d="M364 872 L370 876 M375 878 L377 888" stroke="#1813a4" stroke-width="2" fill="none"/>
<g clip-path="url(#c_iBR)">
<g filter="url(#soft45)">
<path d="M662.8 841.5L660.8 840.8M662.8 841.5L664.8 840.8M664.8 833.7L666.7 836.8M524.1 942.2L527.6 939.6M526.2 936.2L527.6 939.6M536.9 940.2L533.3 939.7M531.8 940.6L533.3 939.7M665.3 829.9L664.8 823.8M662.8 841.5L662.1 849.0M662.1 849.0L660.5 850.0M578.1 868.2L581.2 874.5M578.1 868.2L572.7 871.3M578.4 876.7L572.4 872.2M578.4 876.7L579.9 876.4M572.7 871.3L572.4 872.2M579.9 876.4L581.2 874.5M599.1 798.6L599.1 798.6M599.1 798.6L591.7 798.1M615.3 845.4L618.9 841.0M615.3 845.4L612.8 844.1M618.9 841.0L615.1 836.5M612.8 844.1L610.8 840.7M610.8 840.7L611.2 839.8M611.2 839.8L615.1 836.5M659.2 856.9L652.3 854.4M659.2 856.9L660.1 856.4M652.3 854.4L651.9 853.7M660.1 856.4L660.5 850.0M652.7 850.6L651.9 853.7M655.8 843.3L653.4 842.5M653.4 842.5L649.9 846.7M519.5 899.1L526.5 900.7M520.2 905.8L526.3 903.0M524.2 893.5L521.4 893.8M524.2 893.5L527.4 899.3M527.4 899.3L526.5 900.7M519.8 884.4L520.1 884.4M522.6 924.4L521.1 924.1M524.3 929.3L521.3 931.3M525.4 831.6L525.9 829.4M525.4 831.6L528.7 836.5M528.7 836.5L531.9 835.5M531.9 835.5L533.4 830.2M525.9 829.4L530.0 827.9M536.9 940.2L542.3 935.9M542.3 935.9L544.9 941.6M526.2 936.2L528.1 932.2M533.3 939.7L533.6 932.8M533.6 932.8L528.1 932.2M524.3 929.3L526.7 929.8M521.6 807.7L519.0 804.1M521.6 807.7L525.6 807.4M525.6 807.4L527.7 804.1M523.9 800.6L520.4 801.3M525.4 831.6L519.2 834.1M525.9 829.4L522.8 826.3M527.6 821.8L526.5 821.4M526.5 821.4L523.1 822.4M522.8 826.3L523.1 822.4M519.1 842.8L524.0 844.5M520.7 837.0L527.0 838.5M524.0 844.5L527.1 841.8M527.0 838.5L527.1 841.8M528.7 836.5L527.0 838.5M599.1 798.6L599.9 800.7M606.2 800.8L599.9 800.7M595.1 806.4L599.5 802.1M593.9 806.4L589.4 802.3M589.4 802.3L591.7 798.1M531.6 798.6L532.4 797.4M528.1 804.0L527.7 804.1M523.9 800.6L525.4 797.9M572.0 872.6L572.4 872.2M572.0 872.6L566.7 872.0M566.7 872.0L565.1 868.1M578.1 868.2L578.3 867.7M578.3 867.7L575.1 862.8M575.1 862.8L569.8 865.1M569.5 866.0L569.8 865.1M575.1 862.8L575.5 860.0M575.5 860.0L574.1 858.7M574.1 858.7L568.8 857.8M568.8 857.8L566.1 859.3M579.9 829.3L584.3 823.1M579.9 829.3L586.3 830.8M588.6 829.1L586.1 823.7M584.3 823.1L586.1 823.7M585.4 833.8L586.3 830.8M580.5 834.9L579.0 833.8M579.6 829.4L579.9 829.3M590.7 815.5L590.9 820.4M595.9 814.8L599.5 817.5M597.7 821.6L593.6 822.2M615.9 834.7L623.4 836.3M618.5 830.5L620.4 829.7M625.4 833.4L623.4 836.3M622.3 844.1L621.6 841.4M622.3 844.1L626.3 845.1M621.6 841.4L623.6 839.1M623.6 839.1L629.4 841.3M618.9 841.0L621.6 841.4M615.6 834.9L615.9 834.7M626.1 833.1L630.6 836.3M626.1 833.1L625.4 833.4M630.4 841.0L630.6 836.3M658.5 835.8L658.3 835.7M653.4 842.5L651.6 837.7M651.6 837.7L658.3 835.7M658.3 835.7L657.5 829.4M631.7 802.3L627.1 798.5M631.7 802.3L636.0 799.2M636.0 799.2L635.7 798.6M639.1 800.1L639.9 799.8M633.5 834.5L630.6 836.3M631.9 828.1L632.4 828.4M639.0 842.4L639.0 842.8M639.0 842.4L646.0 839.6M639.0 842.8L644.4 847.6M646.6 846.7L645.2 847.6M645.2 847.6L644.4 847.6M646.9 853.6L645.2 847.6M646.9 853.6L651.9 853.7M649.9 846.7L646.6 846.7M630.3 841.1L632.7 846.9M637.8 840.4L630.4 841.0M637.8 840.4L639.0 842.4M639.0 842.8L636.3 846.4M632.7 846.9L636.3 846.4M636.3 846.4L639.0 851.2M544.9 884.1L540.8 889.4M544.9 884.1L546.3 883.5M546.3 883.5L547.4 884.3M547.4 884.3L548.6 889.1M548.6 889.1L544.9 891.9M542.2 877.3L546.5 880.7M546.5 880.7L546.3 883.5M527.4 899.3L531.0 898.3M532.3 892.4L526.9 890.7M532.3 892.4L533.1 894.0M533.1 894.0L531.0 898.3M537.0 886.8L537.9 881.8M537.0 886.8L534.3 887.6M534.3 887.6L530.0 883.9M537.9 881.8L535.2 879.6M535.2 879.6L531.8 879.5M530.1 880.5L531.8 879.5M538.9 881.6L537.9 881.8M540.8 889.4L537.0 886.8M540.9 889.7L537.9 894.8M533.1 894.0L537.9 894.8M538.9 872.9L535.2 879.6M520.1 884.4L523.4 879.9M527.5 879.4L530.1 880.5M527.5 879.4L526.5 871.3M532.1 872.8L526.5 871.3M532.1 872.8L531.8 879.5M521.3 866.3L524.2 870.6M524.2 870.6L520.6 874.7M523.4 879.9L520.6 874.7M526.5 871.3L526.1 870.9M526.1 870.9L524.2 870.6M549.1 877.2L548.4 874.0M541.8 875.7L548.0 873.7M548.2 859.9L546.2 864.9M551.2 859.4L552.1 860.1M546.2 864.9L547.8 867.0M542.6 864.4L541.8 859.6M542.6 864.4L546.2 864.9M543.7 857.5L548.2 859.9M543.7 857.5L541.8 859.6M521.3 865.8L525.6 862.4M525.6 862.4L529.5 862.6M531.0 864.4L529.5 862.6M580.5 834.9L581.7 838.4M579.0 833.8L575.1 835.7M578.1 841.6L575.1 840.4M574.4 852.2L575.9 850.1M569.7 853.9L568.0 851.4M568.0 851.4L570.4 846.7M574.1 858.7L574.4 852.2M568.8 857.8L569.7 853.9M563.8 846.2L570.4 846.7M579.6 829.4L577.7 828.2M577.7 828.2L573.4 828.6M575.1 835.7L572.4 833.8M562.3 829.9L565.9 832.2M566.6 824.4L561.8 825.1M566.6 824.4L568.8 827.8M568.8 827.8L565.9 832.2M546.4 870.2L547.8 867.0M548.4 874.0L553.1 871.8M551.4 866.7L553.1 867.9M553.1 871.8L553.1 867.9M553.3 883.6L547.4 884.3M553.3 883.6L554.5 879.2M549.1 877.2L554.3 879.0M554.5 879.2L554.3 879.0M560.3 869.5L559.7 872.7M560.3 869.5L557.1 866.4M555.6 873.6L559.7 872.7M531.0 898.3L534.6 902.4M537.9 894.8L538.4 895.7M538.4 895.7L536.9 902.0M536.9 902.0L536.5 902.3M536.5 902.3L534.6 902.4M566.7 872.0L563.5 876.2M563.9 867.8L565.1 868.1M563.9 867.8L560.3 869.5M559.7 872.7L562.1 875.7M563.5 876.2L562.1 875.7M554.5 879.2L557.6 879.5M562.1 875.7L557.6 879.5M578.4 876.7L574.3 881.0M572.0 872.6L570.4 878.5M570.4 878.5L574.3 881.0M563.5 876.2L563.6 876.4M563.6 876.4L570.0 878.6M579.9 876.4L582.3 881.0M582.3 881.0L577.9 885.3M577.9 885.3L575.1 883.9M574.3 881.0L575.1 883.9M568.8 927.0L568.9 922.7M568.8 927.0L572.1 929.5M572.1 929.5L576.1 926.1M568.9 922.7L572.9 920.4M572.9 920.4L576.1 926.1M565.3 934.8L562.3 935.0M558.9 939.7L562.3 935.0M520.9 820.9L520.5 814.0M519.8 813.5L520.0 813.5M523.1 822.4L520.9 820.9M527.0 814.2L526.5 821.4M525.6 862.4L523.6 858.2M524.0 844.5L524.4 848.4M541.8 859.6L537.0 860.0M537.1 853.6L535.5 857.0M537.1 853.6L540.5 853.2M537.0 860.0L535.5 857.0M543.6 856.1L540.5 853.2M551.2 859.4L551.7 854.9M543.6 856.1L547.9 852.3M542.2 848.1L540.5 853.2M547.9 852.3L547.7 850.5M666.0 862.1L662.5 867.3M662.5 867.3L662.6 868.5M662.5 867.3L656.5 862.4M597.3 809.8L602.2 810.4M597.3 809.8L595.9 814.8M602.2 810.4L602.5 816.7M595.1 806.4L597.3 809.8M599.5 802.1L604.2 808.4M602.2 810.4L604.2 808.4M605.2 823.4L603.6 817.1M605.2 823.4L599.8 825.1M602.5 816.7L603.6 817.1M608.1 803.5L610.0 803.8M610.0 803.8L611.6 808.0M609.0 811.1L604.7 808.4M604.2 808.4L604.7 808.4M609.7 814.1L609.0 811.1M613.8 797.3L615.2 798.3M610.0 803.8L614.8 800.8M615.2 798.3L614.8 800.8M560.5 798.8L559.0 800.5M553.6 799.6L555.0 801.4M559.0 800.5L555.0 801.4M547.2 806.7L550.9 812.1M557.4 808.9L556.4 808.3M557.4 808.9L563.2 804.7M563.2 804.7L559.0 800.5M555.0 801.4L554.5 804.3M532.9 807.6L532.8 808.5M528.1 811.4L527.6 813.7M532.9 807.6L535.4 804.8M535.4 804.4L535.4 804.8M562.9 855.9L565.9 859.2M565.9 859.2L563.0 862.5M563.0 862.5L557.8 862.8M558.1 857.7L556.5 860.8M557.8 862.8L556.5 860.8M562.6 852.7L563.3 851.9M562.6 852.7L562.9 855.9M566.1 859.3L565.9 859.2M562.6 852.7L556.2 850.4M556.2 850.4L555.0 852.8M555.0 852.8L558.1 857.7M563.9 867.8L563.0 862.5M557.1 866.4L557.8 862.8M555.0 852.8L551.7 854.9M566.6 824.4L568.7 821.7M572.3 827.5L568.8 827.8M572.3 827.5L572.5 822.4M572.5 822.4L568.7 821.7M579.1 799.4L582.9 798.6M589.4 802.3L586.6 802.7M586.6 802.7L582.9 798.6M610.6 822.7L606.9 824.4M610.6 822.7L613.9 826.2M606.9 824.4L606.9 828.8M613.9 826.2L611.0 831.0M606.9 828.8L610.5 830.9M611.0 831.0L610.5 830.9M605.2 823.4L606.9 824.4M611.1 821.2L608.6 815.7M611.1 821.2L610.6 822.7M615.6 834.9L611.0 831.0M603.4 830.8L606.9 828.8M603.4 830.8L604.6 835.3M604.6 835.3L607.7 835.3M611.2 839.8L607.7 835.3M588.6 829.1L591.2 829.8M586.1 823.7L590.9 820.4M593.6 822.2L593.0 828.0M599.8 825.1L599.3 827.5M593.0 828.0L599.3 827.5M603.4 830.8L600.5 830.1M666.7 804.0L663.8 803.6M666.7 811.3L665.2 811.5M665.2 811.5L661.6 808.4M661.6 808.4L663.8 803.6M663.8 803.6L662.8 802.6M620.4 829.7L621.8 826.1M617.9 823.5L621.8 826.1M628.1 829.4L624.1 825.1M624.1 825.1L621.8 826.1M639.1 800.1L638.4 806.9M631.7 802.3L630.9 805.2M630.9 805.2L633.1 808.2M640.8 812.7L639.1 807.3M640.8 812.7L644.4 813.4M639.1 807.3L647.2 807.4M644.4 813.4L646.3 811.4M646.3 811.4L647.2 807.4M638.4 806.9L639.1 807.3M637.0 815.0L640.8 812.7M645.1 818.4L644.6 818.0M651.2 814.7L652.0 818.2M651.2 814.7L646.3 811.4M625.4 811.2L626.5 805.9M625.4 811.2L618.0 807.8M623.7 803.3L618.3 806.3M630.9 805.2L626.5 805.9M626.1 813.1L627.0 813.7M626.1 813.1L625.4 811.2M630.0 812.6L633.1 808.2M627.1 798.5L624.2 798.5M617.6 808.3L618.0 807.8M617.6 808.3L611.6 808.0M614.8 800.8L618.3 806.3M639.4 819.3L638.8 823.0M639.4 819.3L636.5 816.1M638.8 823.0L631.7 822.3M636.5 816.1L635.9 816.2M631.7 820.3L631.7 822.3M645.1 818.4L645.4 823.1M639.9 825.1L645.4 823.1M637.0 815.0L636.5 816.1M627.3 816.1L631.7 820.3M627.3 816.1L624.0 820.5M624.0 820.5L624.8 823.3M624.8 823.3L631.7 822.3M631.9 828.1L631.7 822.3M637.8 840.4L638.1 836.8M633.5 834.5L637.0 835.4M639.9 825.1L639.4 828.1M639.1 828.3L639.4 828.1M528.4 848.9L530.2 852.4M528.4 848.9L532.0 844.9M534.8 850.6L535.1 846.1M532.0 844.9L534.2 844.9M524.4 848.4L528.4 848.9M527.1 841.8L532.0 844.9M537.1 853.6L534.8 850.6M530.1 857.0L535.5 857.0M541.8 847.0L542.2 848.1M536.3 839.1L534.2 844.9M535.6 863.5L533.2 865.0M533.2 865.0L535.2 871.0M540.9 866.0L540.8 870.1M531.0 864.4L533.2 865.0M537.0 860.0L535.6 863.5M542.6 864.4L540.9 866.0M546.4 870.2L540.8 870.1M538.9 872.9L538.8 872.3M544.2 821.3L539.2 820.6M544.6 826.6L540.4 826.7M540.4 826.7L538.0 823.5M527.6 821.8L531.5 820.6M531.5 820.6L534.8 824.6M530.4 815.0L532.3 819.2M533.4 830.2L538.6 830.8M538.6 830.8L540.4 826.7M534.8 824.6L538.0 823.5M566.1 832.7L569.2 834.3M569.2 834.3L568.7 840.5M563.6 836.6L565.2 840.6M568.7 840.5L565.2 840.6M572.3 827.5L573.4 828.6M572.4 833.8L569.2 834.3M565.9 832.2L566.1 832.7M571.6 842.7L575.1 840.4M571.6 842.7L568.7 840.5M563.8 846.2L562.0 844.0M571.6 842.7L571.2 846.3M562.0 844.0L565.2 840.6M526.3 903.0L527.4 904.6M534.6 902.4L532.3 905.3M527.4 904.6L532.3 905.3M542.3 935.9L542.4 935.5M533.6 932.8L534.1 932.2M540.5 932.4L542.4 935.5M542.3 901.0L544.3 903.5M544.3 903.5L550.0 902.6M545.8 895.9L542.7 897.4M545.8 895.9L549.9 897.7M549.9 897.7L550.0 902.6M540.2 908.4L536.5 902.3M540.2 908.4L541.1 908.3M544.9 891.9L545.8 895.9M553.3 883.6L555.9 887.0M548.6 889.1L551.1 890.5M555.9 887.0L554.6 889.3M551.1 890.5L554.6 889.3M551.1 890.5L550.3 897.3M558.0 909.1L560.0 910.7M558.0 909.1L559.4 903.2M585.0 888.0L578.2 886.0M585.8 891.5L579.3 894.4M578.2 886.0L577.5 891.7M577.5 891.7L579.3 894.4M582.3 881.0L585.0 881.6M577.9 885.3L578.2 886.0M586.4 882.9L585.0 881.6M563.6 876.4L563.0 883.1M570.0 878.6L566.2 884.9M563.0 883.1L566.2 884.9M555.9 887.0L558.1 886.6M577.6 942.0L570.7 942.4M566.9 936.0L570.0 936.5M578.0 938.1L570.6 936.1M578.5 932.3L572.6 931.6M572.6 931.6L570.6 936.1M578.7 939.3L578.0 938.1M578.7 939.3L577.6 942.0M570.0 936.5L570.6 936.1M578.7 926.5L576.1 926.1M565.7 928.9L565.3 934.8M565.7 928.9L568.8 927.0M603.0 938.2L599.7 937.7M595.8 941.1L595.6 941.0M590.0 941.8L589.4 941.2M593.1 936.1L595.6 941.0M593.1 936.1L589.1 936.2M589.4 941.2L584.3 941.3M578.7 939.3L582.8 939.3M584.3 941.3L582.8 939.3M578.7 926.5L579.7 926.0M557.7 940.2L553.2 942.5M555.0 935.1L550.1 936.8M550.1 936.8L550.4 941.7M558.9 939.7L557.8 940.1M547.7 934.3L542.4 935.5M547.7 934.3L550.1 936.8M538.6 830.8L540.9 833.7M536.3 839.1L539.2 838.2M540.9 833.7L539.2 838.2M562.0 844.0L559.9 843.8M556.2 850.4L555.8 849.0M547.7 850.5L550.8 846.4M555.8 849.0L550.8 846.4M659.6 900.2L661.8 905.6M654.9 908.8L652.0 903.0M661.7 905.7L661.8 905.6M652.0 903.0L652.1 902.7M664.0 905.6L661.8 905.6M662.1 912.9L666.1 913.4M662.1 912.9L661.7 905.7M658.1 881.1L655.0 881.4M658.1 881.1L660.8 886.9M655.8 890.4L660.8 886.9M655.8 890.4L652.6 884.6M653.2 892.8L654.7 892.4M648.9 889.3L649.3 884.7M654.7 892.4L655.8 890.4M652.6 884.6L649.3 884.7M662.6 868.5L660.6 870.6M598.4 889.9L593.4 890.6M598.4 889.9L600.5 892.5M593.4 890.6L593.2 895.9M593.2 895.9L599.7 895.2M649.9 896.5L647.4 896.5M649.9 896.5L652.1 902.7M652.0 903.0L648.2 904.7M648.2 904.7L646.1 904.1M646.1 904.1L644.8 901.6M581.2 858.8L585.0 856.2M581.2 858.8L583.3 865.5M585.0 856.2L588.9 861.0M588.9 861.0L586.4 866.1M583.3 865.5L586.3 866.2M586.3 866.2L586.4 866.1M578.3 867.7L583.3 865.5M591.2 860.4L588.9 861.0M592.6 868.6L586.4 866.1M581.2 874.5L585.3 873.8M579.9 844.5L578.1 841.6M579.9 844.5L585.6 842.6M585.4 833.8L588.0 839.6M587.0 840.1L588.0 839.6M591.2 829.8L593.1 833.7M593.1 833.7L588.6 839.6M601.2 862.9L599.1 861.2M601.5 867.5L599.0 870.0M598.7 884.6L598.4 889.9M591.5 888.9L593.4 890.6M591.5 888.9L592.3 885.4M592.3 885.4L596.4 883.8M586.4 882.9L589.3 882.5M591.5 888.9L586.1 890.5M617.3 797.2L623.7 798.0M624.2 798.5L623.7 798.0M615.2 798.3L617.3 797.2M560.0 811.7L563.3 815.0M560.0 811.7L564.9 809.5M564.9 809.5L566.4 810.7M566.4 810.7L566.0 814.2M566.0 814.2L563.3 815.0M559.0 811.4L557.4 808.9M563.2 804.7L564.8 804.9M564.8 804.9L564.9 809.5M562.4 819.0L563.3 815.0M562.4 819.0L567.5 819.2M568.6 816.3L567.5 819.2M568.6 816.3L566.0 814.2M554.6 817.4L550.7 821.4M554.6 817.4L556.3 817.4M556.3 817.4L560.0 820.8M554.5 826.2L551.3 824.5M554.5 826.2L560.1 823.3M560.1 823.3L560.0 820.8M551.3 824.5L550.7 821.4M550.6 813.2L554.6 817.4M562.4 819.0L560.0 820.8M561.8 825.1L560.1 823.3M544.5 812.7L548.7 814.2M543.2 815.9L546.4 819.5M548.7 814.2L546.7 819.4M546.4 819.5L546.7 819.4M550.6 813.2L548.7 814.2M550.7 821.4L546.7 819.4M544.2 821.3L546.4 819.5M544.6 826.6L546.5 828.2M546.5 828.2L551.3 824.5M538.7 811.6L535.7 812.1M535.0 813.3L535.7 812.1M535.0 813.3L535.9 817.9M540.3 816.5L538.7 819.2M535.9 817.9L538.7 819.2M532.8 808.5L535.7 812.1M530.4 815.0L535.0 813.3M532.3 819.2L535.9 817.9M543.2 815.9L540.3 816.5M539.4 806.8L544.3 803.2M539.4 806.8L539.5 810.8M543.8 811.2L546.6 806.5M535.4 804.8L539.4 806.8M544.5 812.7L543.8 811.2M547.2 806.7L546.6 806.5M535.4 804.4L538.8 800.0M544.3 803.2L544.3 802.9M553.6 799.6L545.9 800.3M577.7 828.2L577.4 822.8M584.3 823.1L583.4 822.1M577.4 822.8L583.4 822.1M572.5 822.4L574.9 820.8M577.4 822.8L574.9 820.8M572.5 814.6L568.6 816.3M574.9 820.8L575.4 817.2M593.9 806.4L588.4 813.0M586.6 802.7L584.5 806.6M584.5 806.6L588.4 813.0M590.7 815.5L588.4 813.4M588.4 813.4L588.4 813.0M583.4 822.1L582.6 816.1M582.6 816.1L580.6 815.3M615.3 845.4L617.1 848.7M612.8 844.1L608.7 849.4M614.4 850.5L617.1 848.7M620.6 847.6L617.6 848.9M617.1 848.7L617.6 848.9M601.2 862.9L606.0 861.6M607.6 868.5L608.4 867.9M606.0 861.6L608.4 867.9M655.0 800.2L648.5 799.1M661.9 816.2L658.2 814.0M661.9 816.2L662.7 818.7M658.2 814.0L652.8 818.9M662.7 818.7L661.9 821.2M653.4 820.6L652.8 818.9M665.2 811.5L661.9 816.2M661.6 808.4L659.2 809.0M659.2 809.0L658.0 813.2M651.2 814.7L653.5 811.5M652.0 818.2L652.8 818.9M658.0 813.2L653.5 811.5M658.1 828.8L658.7 822.8M656.1 829.5L651.9 826.4M652.0 822.6L651.9 826.4M652.0 822.6L653.4 820.6M646.5 824.0L652.0 822.6M620.5 819.2L617.8 820.1M620.5 819.2L621.3 814.8M621.3 814.8L616.9 812.4M616.9 812.4L615.2 814.3M617.9 823.5L617.8 820.1M624.0 820.5L620.5 819.2M617.6 808.3L616.9 812.4M609.7 814.1L615.2 814.3M644.4 835.0L644.1 830.7M644.4 835.0L647.0 837.7M651.7 832.6L648.6 829.1M644.1 830.7L647.0 828.9M647.0 837.7L651.1 837.4M648.6 829.1L647.0 828.9M638.1 836.8L644.4 835.0M639.4 828.1L644.1 830.7M651.6 837.7L651.1 837.4M656.1 829.5L651.7 832.6M651.9 826.4L648.6 829.1M646.5 824.0L647.0 828.9M527.4 904.6L526.9 909.5M526.9 909.5L523.4 911.4M523.4 911.4L522.4 914.2M522.4 914.2L522.7 915.2M555.1 909.2L552.5 913.9M550.8 905.6L547.0 910.7M550.3 903.0L550.8 905.6M550.3 903.0L558.2 901.9M558.0 909.1L555.1 909.2M559.4 903.2L558.2 901.9M550.3 903.0L550.0 902.6M541.1 908.3L546.1 911.1M564.8 909.4L567.3 911.0M567.3 911.0L567.9 913.8M567.9 913.8L563.7 918.2M560.0 910.7L560.0 915.3M560.0 915.3L563.7 918.2M573.7 916.4L574.3 918.1M564.0 920.2L563.7 918.2M550.3 897.3L554.3 896.3M554.3 896.3L556.2 892.8M558.2 901.9L558.2 898.6M554.3 896.3L558.2 898.6M585.8 891.5L587.0 893.8M587.0 893.8L592.9 896.1M575.1 883.9L571.3 886.8M566.2 884.9L566.4 885.3M571.3 886.8L566.4 885.3M577.5 891.7L571.6 891.4M571.3 886.8L571.6 891.4M579.3 894.4L578.6 898.0M578.6 898.0L578.3 898.2M569.8 893.7L572.2 898.5M572.2 898.5L578.3 898.2M600.8 898.1L599.7 895.2M600.8 898.1L596.7 901.4M592.9 896.1L592.4 899.7M582.7 914.8L580.8 910.6M582.7 914.8L587.9 913.4M580.8 910.6L583.0 907.2M583.9 906.7L583.0 907.2M583.9 906.7L586.8 907.8M587.9 913.4L586.8 907.8M597.8 905.9L594.2 908.4M597.8 905.9L596.7 901.4M592.4 899.7L590.9 901.0M590.9 901.0L591.4 906.4M594.2 908.4L591.4 906.4M579.7 926.0L583.6 927.2M581.5 918.6L586.1 920.9M593.1 936.1L595.8 931.9M599.7 937.7L597.3 931.6M595.8 931.9L597.3 931.6M550.4 845.0L543.1 844.6M539.2 838.2L542.6 840.7M543.1 844.6L542.6 840.7M603.8 937.7L603.0 938.2M609.5 939.5L612.2 939.7M666.9 928.7L666.6 928.2M659.8 931.7L660.4 928.6M659.8 931.7L662.0 935.2M660.4 928.6L661.0 927.9M662.0 935.2L666.9 934.6M645.9 919.9L644.6 918.4M646.5 913.2L652.2 914.7M652.2 914.7L650.2 919.8M653.2 892.8L649.9 896.5M659.7 899.9L659.4 897.3M646.0 911.6L648.3 909.3M648.3 909.3L648.2 904.7M646.1 904.1L642.7 906.7M643.2 910.3L642.7 906.7M637.9 902.2L640.1 900.2M637.9 902.2L637.7 904.3M640.0 851.2L643.3 856.4M656.4 862.4L652.5 867.1M652.5 867.1L647.2 864.1M650.7 859.4L649.0 860.1M656.5 862.4L656.4 862.4M660.6 870.6L652.9 870.4M652.9 870.4L652.5 867.1M653.8 874.8L652.9 870.4M655.0 881.4L651.6 878.3M653.8 874.8L651.6 878.3M615.1 872.0L624.0 872.6M615.1 872.0L614.0 868.3M621.8 865.2L614.0 868.3M621.8 865.2L625.0 870.8M624.0 872.6L625.0 870.8M630.6 866.0L625.4 870.7M633.0 866.3L633.7 873.8M633.7 873.8L625.4 870.7M614.9 872.7L615.1 872.0M614.9 872.7L619.1 879.0M624.0 872.6L623.9 874.0M619.1 879.0L623.9 874.0M632.7 846.9L632.5 847.3M639.0 851.2L634.3 854.9M634.3 854.9L633.7 854.9M626.3 845.1L627.3 848.9M630.6 866.0L628.2 861.7M633.0 866.3L636.3 864.5M636.3 864.5L630.9 857.0M621.8 865.2L622.1 863.0M625.4 870.7L625.0 870.8M616.1 860.3L612.9 865.7M616.1 860.3L622.0 862.7M612.9 865.7L612.7 867.4M614.0 868.3L612.7 867.4M622.0 862.7L622.1 863.0M632.3 912.4L636.5 910.4M632.3 912.4L632.4 915.5M632.4 915.5L637.9 918.1M636.5 910.4L639.1 912.7M639.1 917.1L637.9 918.1M643.2 910.3L639.1 912.7M636.1 906.2L636.5 910.4M601.9 906.4L603.6 904.8M601.9 906.4L597.8 905.9M600.8 898.1L601.7 898.7M598.7 884.6L601.3 883.3M601.3 883.3L605.3 888.3M600.5 892.5L604.1 891.4M648.9 889.3L645.9 889.9M645.9 889.9L643.8 893.2M647.4 896.5L644.5 894.8M643.8 893.2L644.5 894.8M640.1 900.2L640.3 898.9M644.5 894.8L640.3 898.9M584.2 848.3L583.2 852.5M584.2 848.3L579.6 846.3M583.2 852.5L577.8 851.1M579.6 846.3L576.7 850.1M585.6 842.6L586.3 847.2M579.1 858.5L577.8 851.1M585.3 855.0L583.2 852.5M575.9 850.1L576.7 850.1M587.5 853.7L593.5 854.1M593.7 853.9L591.7 847.3M585.3 855.0L587.5 853.7M586.3 847.2L588.1 848.2M593.5 857.5L593.5 854.1M588.6 839.6L593.2 843.3M591.4 878.7L586.9 875.3M591.8 872.1L586.7 874.8M591.8 872.1L595.0 876.8M595.0 876.8L594.3 877.8M586.7 874.8L586.9 875.3M585.3 873.8L586.7 874.8M592.6 868.6L591.8 872.1M597.9 875.7L595.0 876.8M601.3 883.3L602.1 882.0M571.5 798.3L565.9 797.7M572.1 799.5L568.1 804.2M565.3 798.5L566.1 804.1M579.1 799.4L576.6 802.0M576.6 802.0L572.1 799.5M560.5 798.8L565.3 798.5M564.8 804.9L566.1 804.1M579.4 810.1L580.6 807.4M579.4 810.1L572.3 810.4M580.6 807.4L576.6 803.2M572.3 810.4L572.0 809.9M584.5 806.6L580.6 807.4M572.5 814.6L572.3 810.4M576.6 802.0L576.6 803.2M568.1 804.2L571.9 807.9M566.4 810.7L572.0 809.9M606.5 860.8L609.8 860.1M612.5 856.6L608.4 853.9M606.0 861.6L606.5 860.8M608.4 867.9L612.7 867.4M612.9 865.7L609.8 860.1M599.1 861.2L601.4 855.5M601.4 855.5L604.7 856.4M614.8 857.5L612.7 856.6M614.8 857.5L616.1 860.3M612.7 856.6L612.5 856.6M657.1 807.1L652.8 808.9M657.1 807.1L656.8 801.3M656.8 801.3L656.1 800.6M649.6 807.0L655.1 800.3M656.1 800.6L655.1 800.3M659.2 809.0L657.1 807.1M653.5 811.5L652.8 808.9M662.8 802.6L656.8 801.3M647.3 807.2L649.6 807.0M655.0 800.2L655.1 800.3M534.1 932.2L533.6 926.0M526.7 929.8L530.0 925.2M530.0 925.2L533.6 926.0M533.1 910.0L532.0 911.4M533.1 910.0L539.6 909.0M532.0 911.4L532.1 914.3M539.6 909.0L539.0 916.7M526.9 909.5L532.0 911.4M552.5 913.9L552.7 915.3M586.2 898.1L589.0 900.7M589.0 900.7L584.1 904.5M590.9 901.0L589.0 900.7M578.6 898.0L581.5 899.5M583.9 906.7L584.1 904.5M591.4 906.4L586.8 907.8M578.3 898.2L577.4 904.1M566.6 893.3L563.5 896.0M559.9 893.5L561.4 895.7M559.9 893.5L560.9 889.5M560.9 889.5L564.8 889.4M563.5 896.0L561.4 895.7M566.4 885.3L564.8 889.4M569.8 893.7L566.6 893.3M565.7 902.3L569.8 902.1M572.2 898.5L569.8 902.1M556.2 892.8L559.9 893.5M558.2 898.6L561.4 895.7M570.5 908.5L575.7 911.0M571.0 904.0L575.8 905.4M575.8 905.4L576.2 910.6M575.7 911.0L576.2 910.6M573.7 916.4L575.7 911.0M581.5 918.6L582.7 914.8M587.9 913.4L591.3 915.1M594.2 908.4L594.3 910.7M602.5 911.0L601.9 906.4M602.5 911.0L599.3 913.2M599.3 913.2L594.3 910.7M591.9 930.2L590.4 926.2M591.9 930.2L586.6 934.2M590.4 926.2L584.8 928.7M584.7 932.2L586.3 934.2M589.1 936.2L586.6 934.2M595.8 931.9L591.9 930.2M582.8 939.3L586.3 934.2M550.4 845.0L551.2 840.9M542.6 840.7L548.5 838.2M551.2 840.9L548.5 838.2M559.9 843.8L556.8 839.3M562.3 829.9L556.7 833.2M554.5 826.2L555.0 832.0M556.7 833.2L555.0 832.0M563.6 836.6L557.6 837.0M556.7 833.2L557.6 837.0M557.6 837.0L556.8 839.3M617.9 929.6L617.3 924.9M617.9 929.6L614.7 932.0M617.3 924.9L611.7 925.1M611.7 925.1L610.9 926.0M614.7 932.0L610.9 926.0M621.6 930.5L617.9 929.6M615.6 935.5L619.8 937.5M615.6 935.5L614.5 932.6M622.2 932.0L619.8 937.5M614.7 932.0L614.5 932.6M607.7 937.5L609.1 933.4M614.5 932.6L609.1 933.4M629.5 920.9L636.1 922.8M636.1 922.8L637.9 918.1M629.3 920.4L629.7 917.6M623.9 919.6L619.7 918.7M618.2 923.8L617.7 920.3M619.7 918.7L617.7 920.3M624.5 926.5L621.6 930.5M624.5 926.5L622.8 924.5M624.5 926.5L627.1 926.6M627.1 926.6L629.5 920.9M623.9 919.6L629.3 920.4M623.9 919.6L623.9 919.6M615.0 919.0L617.7 920.3M615.0 919.0L611.7 920.4M636.1 906.2L629.3 905.7M632.3 912.4L629.4 910.6M629.7 917.6L625.7 913.4M629.4 910.6L625.7 913.4M623.9 919.6L624.7 913.5M625.7 913.4L624.7 913.5M627.1 926.6L629.0 928.4M628.1 932.9L626.8 933.8M661.8 942.7L662.0 940.9M662.0 935.2L661.2 939.7M661.2 939.7L662.0 940.9M659.7 899.9L666.4 899.1M663.4 894.1L661.3 887.0M664.0 886.4L661.3 887.0M666.2 884.7L664.0 886.4M660.8 886.9L661.3 887.0M649.3 884.7L647.9 883.6M645.9 889.9L642.9 884.7M642.9 884.7L647.9 883.6M651.6 878.3L648.7 878.6M647.9 883.6L648.7 878.6M606.7 872.9L603.8 874.4M606.7 872.9L611.0 876.8M603.8 874.4L604.7 880.6M611.0 876.8L607.7 880.9M607.7 880.9L604.7 880.6M599.6 873.3L603.8 874.4M614.9 872.7L611.0 876.8M611.0 876.8L611.0 876.8M610.8 886.1L605.3 888.3M622.4 858.1L628.4 855.0M619.7 854.5L619.8 854.1M619.8 854.1L626.3 851.6M626.3 851.6L628.4 855.0M630.9 857.0L630.9 856.5M630.9 856.5L628.4 855.0M614.8 857.5L619.7 854.5M612.7 856.6L614.4 850.5M617.6 848.9L619.8 854.1M626.3 850.5L626.3 851.6M633.7 854.9L630.9 856.5M611.0 876.8L616.9 881.9M619.1 879.0L618.6 881.3M616.9 881.9L618.6 881.3M599.9 841.3L602.7 838.9M602.6 838.4L602.7 838.9M593.1 833.7L596.1 834.6M600.5 830.1L597.3 834.2M604.6 835.3L602.6 838.4M606.8 842.0L602.7 838.9M601.1 846.6L597.9 847.6M593.7 853.9L596.8 853.0M597.9 847.6L596.8 853.0M596.8 853.0L600.7 854.4M525.3 916.9L524.7 923.1M524.7 923.1L529.3 924.3M529.3 924.3L530.1 917.9M532.1 914.3L529.8 917.3M522.6 924.4L524.7 923.1M534.9 920.9L534.9 925.1M539.1 925.3L541.6 918.4M539.1 925.3L534.9 925.1M541.6 918.4L539.2 917.1M541.6 927.9L540.5 932.4M546.1 911.1L545.0 916.8M552.7 915.3L550.8 917.5M550.8 917.5L545.0 916.8M541.6 918.4L543.3 918.3M603.4 932.6L599.3 930.2M603.4 932.6L607.3 931.0M599.3 930.2L604.3 926.2M607.3 931.0L607.4 926.8M604.3 926.2L606.2 926.1M606.2 926.1L607.4 926.8M603.8 937.7L603.4 932.6M597.3 931.6L598.4 930.3M598.4 930.3L599.3 930.2M609.1 933.4L607.3 931.0M610.9 926.0L607.4 926.8M607.1 917.2L611.7 920.4M606.1 918.0L606.2 926.1M596.3 923.6L600.2 922.3M596.3 923.6L591.9 921.4M592.1 919.4L599.2 916.3M600.2 922.3L602.1 918.8M598.4 930.3L596.3 923.6M590.4 926.2L591.9 921.4M599.3 913.2L599.2 916.3M586.1 920.9L591.7 920.9M606.1 918.0L602.1 918.8M607.1 917.2L607.1 917.0M602.5 911.0L605.7 912.9M553.0 832.4L548.4 836.8M548.4 836.8L544.9 832.5M548.5 838.2L548.4 836.8M555.0 832.0L553.0 832.4M546.5 828.2L546.6 828.8M540.9 833.7L544.9 832.5M624.7 913.5L620.7 911.4M619.9 912.5L620.7 911.4M619.9 912.5L614.8 914.9M607.1 917.0L612.6 913.8M614.8 914.9L612.6 913.8M620.6 938.8L625.1 939.8M626.8 933.8L625.5 939.6M625.1 939.8L625.5 939.6M656.6 917.1L660.8 914.0M652.7 914.3L654.0 910.8M660.9 913.8L660.8 914.0M660.9 913.8L654.4 910.4M654.4 910.4L654.0 910.8M648.3 909.3L654.0 910.8M652.2 914.7L652.7 914.3M662.1 912.9L660.9 913.8M654.9 908.8L654.4 910.4M655.9 921.4L656.8 920.2M655.9 921.4L660.9 926.8M656.8 920.2L662.2 919.5M660.9 926.8L663.5 920.6M663.5 920.6L662.2 919.5M652.9 922.3L655.9 921.4M656.6 917.1L656.8 920.2M660.8 914.0L662.2 919.5M661.0 927.9L660.9 926.8M666.2 920.1L663.5 920.6M644.3 863.5L638.5 865.7M644.3 863.5L641.9 858.1M639.3 858.7L636.9 864.5M639.3 858.7L641.9 858.1M636.9 864.5L638.5 865.7M643.3 856.4L641.9 858.1M646.6 864.3L644.3 863.5M634.3 854.9L639.3 858.7M636.3 864.5L636.9 864.5M623.9 874.0L627.4 878.9M620.9 882.6L626.9 881.6M627.4 878.9L626.9 881.6M625.2 888.3L622.1 888.5M625.2 888.3L628.3 883.7M622.1 888.5L620.9 882.6M626.9 881.6L628.3 883.7M641.4 892.2L640.5 886.0M642.9 884.7L642.1 884.5M652.9 870.4L648.6 872.0M648.7 878.6L648.1 878.0M648.1 878.0L648.6 872.0M646.6 864.3L644.7 870.6M601.7 898.7L608.5 897.2M604.1 891.4L608.6 894.9M612.2 886.8L611.3 892.3M612.2 886.8L613.3 886.5M613.3 886.5L619.8 891.1M611.3 892.3L616.1 894.8M616.1 894.8L619.8 891.5M619.8 891.5L619.8 891.1M610.8 886.1L612.2 886.8M608.6 894.9L611.3 892.3M622.1 888.5L619.8 891.1M615.7 899.0L608.9 897.7M608.9 897.7L608.5 897.2M603.4 849.9L601.5 846.8M603.4 849.9L607.9 850.2M601.5 846.8L606.3 843.7M606.3 843.7L608.5 849.5M608.5 849.5L607.9 850.2M601.1 846.6L601.5 846.8M600.7 854.4L603.4 849.9M608.4 853.9L607.9 850.2M606.8 842.0L606.3 843.7M608.7 849.4L608.5 849.5M541.6 927.9L543.6 927.3M547.7 934.3L549.3 930.3M543.6 927.3L549.3 930.3M543.3 918.3L546.3 923.1M543.6 927.3L546.3 923.1M637.9 902.2L632.2 898.0M629.3 905.7L629.1 905.6M629.1 905.6L629.7 900.3M612.6 913.8L612.2 910.5M612.2 910.5L608.8 909.6M608.8 909.6L607.6 904.6M608.4 904.0L607.6 904.6M622.5 905.8L621.5 900.1M620.1 908.8L615.7 907.2M616.0 899.4L614.2 904.7M629.1 905.6L622.5 905.8M623.2 898.2L629.7 900.3M623.2 898.2L621.5 900.1M620.7 911.4L620.1 908.8M612.2 910.5L615.7 907.2M615.7 899.0L616.0 899.4M619.8 891.5L623.3 895.5M623.3 895.5L623.2 898.2M608.4 904.0L614.2 904.7M628.1 932.9L633.5 935.7M635.1 934.5L634.0 928.1M636.1 922.8L636.8 925.2M634.0 928.1L636.8 925.2M645.9 919.9L644.8 923.8M661.2 939.7L655.6 939.4M625.5 939.6L630.5 940.8M632.5 939.2L630.5 940.8M635.9 878.0L641.0 880.6M635.9 878.0L634.9 875.7M635.0 875.2L640.3 871.2M640.3 871.2L642.2 871.6M642.2 871.6L644.2 877.5M640.5 886.0L636.1 886.9M642.1 884.5L641.0 880.6M636.1 886.9L634.2 882.1M634.2 882.1L635.9 878.0M628.3 883.7L628.4 883.7M628.4 883.7L634.2 882.1M633.7 873.8L635.0 875.2M638.5 865.7L640.3 871.2M648.1 878.0L644.2 877.5M551.7 921.8L549.8 923.6M549.8 923.6L550.9 929.3M550.9 929.3L556.6 930.1M559.0 926.2L558.9 925.4M550.8 917.5L551.7 921.8M546.3 923.1L549.8 923.6M556.9 916.7L556.2 922.6M564.0 920.2L558.9 925.4M628.9 892.5L632.1 888.8M628.9 892.5L632.3 897.1M632.3 897.1L636.9 893.7M637.1 893.4L636.9 893.7M637.1 893.4L634.9 888.5M625.2 888.3L628.9 892.5M623.3 895.5L628.9 892.5M628.4 883.7L632.1 888.8M632.2 898.0L632.3 897.1M640.3 898.9L636.9 893.7M641.4 892.2L637.1 893.4M636.1 886.9L634.9 888.5M632.5 939.2L637.6 941.8M637.6 943.7L637.6 941.8M659.8 931.7L655.8 933.6M655.6 939.4L654.9 938.2M655.8 933.6L654.9 938.2M635.1 934.5L638.8 934.8M637.2 925.4L640.5 929.7M640.5 929.7L638.8 934.8M641.0 939.0L641.5 937.2M643.0 936.7L648.2 940.2M637.6 941.8L641.0 939.0M638.8 934.8L641.5 937.2M650.4 937.0L654.9 938.2M650.4 937.0L648.2 940.2M649.2 933.2L651.9 931.8M649.2 933.2L646.6 932.5M646.6 932.5L645.5 929.9M646.4 926.9L645.5 929.9M652.1 926.1L652.8 927.3M650.4 937.0L649.2 933.2M655.8 933.6L651.9 931.8M643.0 936.7L646.6 932.5M640.5 929.7L645.5 929.9M660.4 928.6L652.8 927.3M644.8 923.8L646.4 926.9M652.9 922.3L652.1 926.1" stroke="#2410b6" stroke-width="1.35" stroke-linecap="round" fill="none"/>
<g fill="#2e1cd8"><circle cx="542.4" cy="927.6" r="1.0"/><circle cx="646.9" cy="828.9" r="1.0"/><circle cx="653.9" cy="800.0" r="1.0"/><circle cx="637.6" cy="886.6" r="1.0"/><circle cx="575.9" cy="925.6" r="1.0"/><circle cx="591.9" cy="831.3" r="1.0"/><circle cx="585.1" cy="932.7" r="1.0"/><circle cx="641.4" cy="858.2" r="1.0"/><circle cx="534.0" cy="909.9" r="1.0"/><circle cx="625.5" cy="888.6" r="1.0"/><circle cx="563.5" cy="845.9" r="1.0"/><circle cx="623.2" cy="897.0" r="1.0"/><circle cx="583.2" cy="881.2" r="1.0"/><circle cx="603.8" cy="817.8" r="1.0"/><circle cx="536.2" cy="887.0" r="1.0"/><circle cx="544.5" cy="864.7" r="1.0"/><circle cx="607.4" cy="928.3" r="1.0"/><circle cx="569.9" cy="827.7" r="1.0"/><circle cx="560.7" cy="890.3" r="1.0"/><circle cx="666.9" cy="928.6" r="1.0"/><circle cx="578.0" cy="848.5" r="1.0"/><circle cx="632.7" cy="847.0" r="1.0"/><circle cx="609.6" cy="926.3" r="1.0"/><circle cx="580.8" cy="873.6" r="1.0"/><circle cx="593.9" cy="895.8" r="1.0"/><circle cx="571.0" cy="942.4" r="1.0"/><circle cx="607.7" cy="904.8" r="1.0"/><circle cx="645.0" cy="847.6" r="1.0"/><circle cx="544.3" cy="810.3" r="1.0"/><circle cx="657.7" cy="932.7" r="1.0"/><circle cx="558.0" cy="800.7" r="1.0"/><circle cx="647.0" cy="828.5" r="1.0"/><circle cx="586.0" cy="891.8" r="1.0"/><circle cx="553.1" cy="868.2" r="1.0"/><circle cx="533.7" cy="809.7" r="1.0"/><circle cx="625.6" cy="833.4" r="1.0"/><circle cx="655.0" cy="881.3" r="1.0"/><circle cx="534.1" cy="810.2" r="1.0"/><circle cx="634.9" cy="800.1" r="1.0"/><circle cx="554.5" cy="910.4" r="1.0"/><circle cx="548.5" cy="838.2" r="1.0"/><circle cx="653.8" cy="932.7" r="1.0"/><circle cx="560.0" cy="851.8" r="1.0"/><circle cx="609.2" cy="867.8" r="1.0"/><circle cx="593.3" cy="890.5" r="1.0"/><circle cx="562.6" cy="935.0" r="1.0"/><circle cx="629.9" cy="835.8" r="1.0"/><circle cx="627.1" cy="940.0" r="1.0"/><circle cx="563.0" cy="917.6" r="1.0"/><circle cx="615.6" cy="834.9" r="1.0"/><circle cx="589.9" cy="926.4" r="1.0"/><circle cx="555.6" cy="909.2" r="1.0"/><circle cx="552.6" cy="914.5" r="1.0"/><circle cx="628.3" cy="883.7" r="1.0"/><circle cx="582.0" cy="858.3" r="1.0"/><circle cx="560.8" cy="824.1" r="1.0"/><circle cx="657.7" cy="813.1" r="1.0"/><circle cx="543.3" cy="833.0" r="1.0"/><circle cx="541.8" cy="833.4" r="1.0"/><circle cx="560.6" cy="894.6" r="1.0"/><circle cx="663.2" cy="893.5" r="1.0"/><circle cx="615.5" cy="880.6" r="1.0"/><circle cx="553.4" cy="847.7" r="1.0"/><circle cx="538.1" cy="823.6" r="1.0"/><circle cx="523.1" cy="822.6" r="1.0"/><circle cx="608.3" cy="849.8" r="1.0"/><circle cx="594.3" cy="908.3" r="1.0"/><circle cx="617.9" cy="807.9" r="1.0"/><circle cx="655.4" cy="939.1" r="1.0"/><circle cx="542.9" cy="909.3" r="1.0"/><circle cx="585.9" cy="882.5" r="1.0"/><circle cx="634.0" cy="854.9" r="1.0"/><circle cx="552.3" cy="867.3" r="1.0"/><circle cx="543.6" cy="927.3" r="1.0"/><circle cx="638.1" cy="893.1" r="1.0"/><circle cx="605.4" cy="873.6" r="1.0"/><circle cx="636.4" cy="864.5" r="1.0"/><circle cx="634.5" cy="895.5" r="1.0"/><circle cx="657.2" cy="856.2" r="1.0"/><circle cx="533.2" cy="865.0" r="1.0"/><circle cx="523.3" cy="924.0" r="1.0"/><circle cx="597.0" cy="906.4" r="1.0"/><circle cx="546.4" cy="819.5" r="1.0"/><circle cx="519.7" cy="899.1" r="1.0"/><circle cx="542.8" cy="918.3" r="1.0"/><circle cx="613.1" cy="814.2" r="1.0"/><circle cx="537.2" cy="900.6" r="1.0"/><circle cx="522.3" cy="800.9" r="1.0"/><circle cx="582.3" cy="939.3" r="1.0"/><circle cx="526.6" cy="842.2" r="1.0"/><circle cx="603.1" cy="809.5" r="1.0"/><circle cx="644.6" cy="847.6" r="1.0"/><circle cx="649.3" cy="846.7" r="1.0"/><circle cx="636.4" cy="874.1" r="1.0"/><circle cx="629.7" cy="864.5" r="1.0"/><circle cx="639.6" cy="868.9" r="1.0"/><circle cx="602.3" cy="909.1" r="1.0"/><circle cx="580.6" cy="875.4" r="1.0"/><circle cx="647.0" cy="913.3" r="1.0"/><circle cx="590.9" cy="799.6" r="1.0"/><circle cx="583.1" cy="820.1" r="1.0"/><circle cx="545.0" cy="854.8" r="1.0"/><circle cx="635.1" cy="876.1" r="1.0"/><circle cx="661.1" cy="913.7" r="1.0"/><circle cx="627.9" cy="933.0" r="1.0"/><circle cx="601.1" cy="862.8" r="1.0"/><circle cx="594.6" cy="931.4" r="1.0"/><circle cx="541.4" cy="933.9" r="1.0"/><circle cx="615.1" cy="798.9" r="1.0"/><circle cx="590.6" cy="829.6" r="1.0"/><circle cx="523.2" cy="864.3" r="1.0"/><circle cx="621.6" cy="900.7" r="1.0"/><circle cx="547.0" cy="929.1" r="1.0"/><circle cx="601.5" cy="830.3" r="1.0"/><circle cx="571.9" cy="822.3" r="1.0"/><circle cx="636.8" cy="925.1" r="1.0"/><circle cx="652.9" cy="910.5" r="1.0"/><circle cx="568.8" cy="816.2" r="1.0"/><circle cx="578.3" cy="898.6" r="1.0"/><circle cx="654.9" cy="892.1" r="1.0"/><circle cx="608.5" cy="836.3" r="1.0"/><circle cx="616.2" cy="930.9" r="1.0"/><circle cx="637.2" cy="886.7" r="1.0"/><circle cx="641.4" cy="858.2" r="1.0"/><circle cx="608.4" cy="868.0" r="1.0"/><circle cx="657.2" cy="922.8" r="1.0"/><circle cx="539.2" cy="829.3" r="1.0"/><circle cx="601.1" cy="804.2" r="1.0"/><circle cx="522.7" cy="872.4" r="1.0"/><circle cx="609.6" cy="893.9" r="1.0"/><circle cx="615.1" cy="801.2" r="1.0"/><circle cx="652.0" cy="822.9" r="1.0"/><circle cx="650.4" cy="919.3" r="1.0"/><circle cx="604.0" cy="836.3" r="1.0"/><circle cx="606.0" cy="829.3" r="1.0"/><circle cx="525.5" cy="910.2" r="1.0"/><circle cx="592.5" cy="899.4" r="1.0"/><circle cx="618.5" cy="892.7" r="1.0"/><circle cx="624.8" cy="926.5" r="1.0"/><circle cx="558.6" cy="810.8" r="1.0"/><circle cx="557.1" cy="886.8" r="1.0"/><circle cx="644.4" cy="894.5" r="1.0"/><circle cx="625.5" cy="926.5" r="1.0"/><circle cx="548.9" cy="876.2" r="1.0"/><circle cx="537.0" cy="903.1" r="1.0"/><circle cx="658.9" cy="856.9" r="1.0"/><circle cx="631.2" cy="843.1" r="1.0"/><circle cx="660.9" cy="913.9" r="1.0"/><circle cx="565.9" cy="819.2" r="1.0"/><circle cx="604.1" cy="874.2" r="1.0"/><circle cx="647.0" cy="808.4" r="1.0"/><circle cx="556.3" cy="886.9" r="1.0"/><circle cx="636.5" cy="917.4" r="1.0"/><circle cx="570.9" cy="842.2" r="1.0"/><circle cx="586.7" cy="874.9" r="1.0"/><circle cx="563.1" cy="842.8" r="1.0"/><circle cx="642.4" cy="859.2" r="1.0"/><circle cx="549.6" cy="835.7" r="1.0"/><circle cx="574.1" cy="857.8" r="1.0"/><circle cx="623.2" cy="924.9" r="1.0"/><circle cx="560.5" cy="843.9" r="1.0"/><circle cx="593.4" cy="874.3" r="1.0"/><circle cx="595.3" cy="895.7" r="1.0"/><circle cx="572.8" cy="810.4" r="1.0"/><circle cx="642.6" cy="824.1" r="1.0"/><circle cx="599.7" cy="929.8" r="1.0"/><circle cx="599.3" cy="913.5" r="1.0"/><circle cx="534.4" cy="864.2" r="1.0"/><circle cx="552.5" cy="815.2" r="1.0"/><circle cx="528.2" cy="904.7" r="1.0"/><circle cx="607.0" cy="828.9" r="1.0"/><circle cx="602.9" cy="816.8" r="1.0"/><circle cx="632.1" cy="802.0" r="1.0"/><circle cx="652.6" cy="826.9" r="1.0"/><circle cx="568.0" cy="817.9" r="1.0"/><circle cx="593.5" cy="874.5" r="1.0"/><circle cx="652.1" cy="926.1" r="1.0"/><circle cx="527.5" cy="837.9" r="1.0"/><circle cx="583.0" cy="818.9" r="1.0"/><circle cx="538.2" cy="881.8" r="1.0"/><circle cx="540.8" cy="805.7" r="1.0"/><circle cx="625.9" cy="870.2" r="1.0"/><circle cx="567.1" cy="883.4" r="1.0"/><circle cx="574.3" cy="881.2" r="1.0"/><circle cx="578.2" cy="848.1" r="1.0"/><circle cx="596.9" cy="902.3" r="1.0"/><circle cx="654.3" cy="910.5" r="1.0"/><circle cx="595.8" cy="941.1" r="1.0"/><circle cx="524.9" cy="861.0" r="1.0"/><circle cx="610.7" cy="822.5" r="1.0"/><circle cx="536.1" cy="855.6" r="1.0"/><circle cx="542.1" cy="875.6" r="1.0"/><circle cx="609.9" cy="860.4" r="1.0"/><circle cx="602.6" cy="838.4" r="1.0"/><circle cx="571.4" cy="844.7" r="1.0"/><circle cx="628.0" cy="933.0" r="1.0"/><circle cx="550.6" cy="821.4" r="1.0"/><circle cx="581.7" cy="880.0" r="1.0"/><circle cx="557.5" cy="864.7" r="1.0"/><circle cx="522.6" cy="913.6" r="1.0"/><circle cx="622.9" cy="820.1" r="1.0"/><circle cx="592.6" cy="907.3" r="1.0"/><circle cx="624.4" cy="919.7" r="1.0"/><circle cx="532.7" cy="940.0" r="1.0"/><circle cx="574.8" cy="880.5" r="1.0"/><circle cx="629.3" cy="940.5" r="1.0"/><circle cx="616.5" cy="881.5" r="1.0"/><circle cx="643.7" cy="847.0" r="1.0"/><circle cx="550.9" cy="872.8" r="1.0"/><circle cx="534.9" cy="922.2" r="1.0"/><circle cx="603.7" cy="809.0" r="1.0"/><circle cx="601.2" cy="830.3" r="1.0"/><circle cx="531.3" cy="879.8" r="1.0"/><circle cx="575.5" cy="860.4" r="1.0"/><circle cx="542.2" cy="935.1" r="1.0"/><circle cx="585.9" cy="928.2" r="1.0"/><circle cx="568.9" cy="923.5" r="1.0"/><circle cx="595.6" cy="876.6" r="1.0"/><circle cx="622.9" cy="939.3" r="1.0"/><circle cx="576.1" cy="909.6" r="1.0"/><circle cx="560.0" cy="821.9" r="1.0"/><circle cx="645.9" cy="928.4" r="1.0"/><circle cx="589.8" cy="900.8" r="1.0"/><circle cx="582.2" cy="939.3" r="1.0"/><circle cx="662.5" cy="905.6" r="1.0"/><circle cx="552.1" cy="916.0" r="1.0"/><circle cx="585.5" cy="882.1" r="1.0"/><circle cx="555.3" cy="886.1" r="1.0"/><circle cx="534.9" cy="921.8" r="1.0"/><circle cx="623.9" cy="925.7" r="1.0"/><circle cx="628.6" cy="923.0" r="1.0"/><circle cx="532.1" cy="905.3" r="1.0"/><circle cx="593.1" cy="833.8" r="1.0"/><circle cx="630.6" cy="836.8" r="1.0"/><circle cx="635.8" cy="910.8" r="1.0"/><circle cx="577.8" cy="804.5" r="1.0"/><circle cx="634.5" cy="930.9" r="1.0"/><circle cx="519.6" cy="899.1" r="1.0"/><circle cx="634.2" cy="882.2" r="1.0"/><circle cx="576.5" cy="898.3" r="1.0"/><circle cx="572.7" cy="891.5" r="1.0"/><circle cx="631.7" cy="822.2" r="1.0"/><circle cx="622.0" cy="863.9" r="1.0"/><circle cx="552.7" cy="896.7" r="1.0"/><circle cx="546.9" cy="813.5" r="1.0"/><circle cx="660.8" cy="887.0" r="1.0"/><circle cx="528.7" cy="932.3" r="1.0"/><circle cx="625.4" cy="856.5" r="1.0"/><circle cx="661.5" cy="887.6" r="1.0"/><circle cx="572.4" cy="872.1" r="1.0"/><circle cx="645.2" cy="820.2" r="1.0"/><circle cx="647.5" cy="807.2" r="1.0"/><circle cx="535.4" cy="824.4" r="1.0"/><circle cx="521.7" cy="924.2" r="1.0"/><circle cx="534.9" cy="922.3" r="1.0"/><circle cx="597.6" cy="931.3" r="1.0"/><circle cx="546.7" cy="839.0" r="1.0"/><circle cx="555.8" cy="817.4" r="1.0"/><circle cx="648.6" cy="884.2" r="1.0"/><circle cx="636.5" cy="816.1" r="1.0"/><circle cx="656.6" cy="917.8" r="1.0"/><circle cx="563.1" cy="876.1" r="1.0"/><circle cx="558.5" cy="810.6" r="1.0"/><circle cx="552.6" cy="819.5" r="1.0"/><circle cx="599.1" cy="798.6" r="1.0"/><circle cx="549.2" cy="813.9" r="1.0"/><circle cx="619.8" cy="891.4" r="1.0"/><circle cx="572.0" cy="872.7" r="1.0"/><circle cx="524.2" cy="859.4" r="1.0"/><circle cx="543.1" cy="826.6" r="1.0"/><circle cx="583.9" cy="914.4" r="1.0"/><circle cx="624.7" cy="888.3" r="1.0"/><circle cx="614.1" cy="844.7" r="1.0"/><circle cx="598.3" cy="803.3" r="1.0"/><circle cx="618.9" cy="879.9" r="1.0"/><circle cx="603.4" cy="937.9" r="1.0"/><circle cx="524.9" cy="920.5" r="1.0"/><circle cx="639.2" cy="842.3" r="1.0"/><circle cx="545.8" cy="883.7" r="1.0"/><circle cx="588.9" cy="813.9" r="1.0"/><circle cx="569.5" cy="802.6" r="1.0"/><circle cx="662.3" cy="809.0" r="1.0"/><circle cx="541.8" cy="870.1" r="1.0"/><circle cx="644.7" cy="818.0" r="1.0"/><circle cx="659.4" cy="897.5" r="1.0"/><circle cx="589.9" cy="894.9" r="1.0"/><circle cx="649.9" cy="935.3" r="1.0"/><circle cx="660.0" cy="808.8" r="1.0"/><circle cx="574.1" cy="915.2" r="1.0"/><circle cx="652.4" cy="924.6" r="1.0"/><circle cx="553.9" cy="911.4" r="1.0"/><circle cx="548.4" cy="908.8" r="1.0"/><circle cx="616.8" cy="907.6" r="1.0"/><circle cx="527.6" cy="813.7" r="1.0"/><circle cx="580.9" cy="910.4" r="1.0"/><circle cx="650.3" cy="837.4" r="1.0"/><circle cx="581.0" cy="836.1" r="1.0"/><circle cx="524.2" cy="846.5" r="1.0"/><circle cx="570.0" cy="847.6" r="1.0"/><circle cx="640.1" cy="900.0" r="1.0"/><circle cx="603.7" cy="936.0" r="1.0"/><circle cx="563.5" cy="861.9" r="1.0"/><circle cx="607.4" cy="926.8" r="1.0"/><circle cx="540.4" cy="833.1" r="1.0"/><circle cx="591.8" cy="930.3" r="1.0"/><circle cx="593.2" cy="894.9" r="1.0"/><circle cx="564.8" cy="839.7" r="1.0"/><circle cx="521.5" cy="882.5" r="1.0"/><circle cx="587.5" cy="839.9" r="1.0"/><circle cx="653.1" cy="819.7" r="1.0"/><circle cx="638.9" cy="901.3" r="1.0"/><circle cx="566.6" cy="885.4" r="1.0"/><circle cx="561.7" cy="819.5" r="1.0"/><circle cx="604.8" cy="926.1" r="1.0"/><circle cx="613.4" cy="874.3" r="1.0"/><circle cx="617.1" cy="843.1" r="1.0"/><circle cx="645.2" cy="812.6" r="1.0"/><circle cx="666.9" cy="928.6" r="1.0"/><circle cx="641.6" cy="845.1" r="1.0"/><circle cx="596.4" cy="808.5" r="1.0"/><circle cx="636.1" cy="910.6" r="1.0"/><circle cx="604.2" cy="898.1" r="1.0"/><circle cx="644.2" cy="832.0" r="1.0"/><circle cx="596.2" cy="805.4" r="1.0"/><circle cx="661.0" cy="926.4" r="1.0"/><circle cx="611.6" cy="927.0" r="1.0"/><circle cx="615.7" cy="859.3" r="1.0"/><circle cx="652.5" cy="867.5" r="1.0"/><circle cx="595.0" cy="939.8" r="1.0"/><circle cx="551.1" cy="823.7" r="1.0"/><circle cx="626.1" cy="887.0" r="1.0"/><circle cx="623.2" cy="897.7" r="1.0"/><circle cx="578.9" cy="869.8" r="1.0"/><circle cx="601.3" cy="883.4" r="1.0"/><circle cx="579.2" cy="926.2" r="1.0"/><circle cx="532.8" cy="808.2" r="1.0"/><circle cx="578.3" cy="867.7" r="1.0"/><circle cx="564.5" cy="917.3" r="1.0"/><circle cx="600.7" cy="892.5" r="1.0"/><circle cx="619.1" cy="813.6" r="1.0"/><circle cx="564.5" cy="814.6" r="1.0"/><circle cx="563.3" cy="879.8" r="1.0"/><circle cx="642.7" cy="896.5" r="1.0"/><circle cx="560.0" cy="821.4" r="1.0"/><circle cx="583.3" cy="822.1" r="1.0"/><circle cx="630.2" cy="886.3" r="1.0"/><circle cx="569.9" cy="802.1" r="1.0"/><circle cx="577.1" cy="926.3" r="1.0"/><circle cx="616.8" cy="812.5" r="1.0"/><circle cx="628.9" cy="805.5" r="1.0"/><circle cx="655.6" cy="829.8" r="1.0"/><circle cx="650.7" cy="814.4" r="1.0"/><circle cx="549.9" cy="898.7" r="1.0"/><circle cx="657.0" cy="881.2" r="1.0"/><circle cx="581.6" cy="815.7" r="1.0"/><circle cx="662.7" cy="841.5" r="1.0"/><circle cx="609.0" cy="933.5" r="1.0"/><circle cx="602.1" cy="873.9" r="1.0"/><circle cx="624.6" cy="810.9" r="1.0"/><circle cx="581.6" cy="926.6" r="1.0"/><circle cx="620.7" cy="911.4" r="1.0"/><circle cx="562.7" cy="889.5" r="1.0"/><circle cx="521.5" cy="837.2" r="1.0"/><circle cx="545.3" cy="827.1" r="1.0"/><circle cx="563.9" cy="837.4" r="1.0"/><circle cx="529.3" cy="904.9" r="1.0"/><circle cx="662.6" cy="868.3" r="1.0"/><circle cx="577.3" cy="932.1" r="1.0"/><circle cx="557.4" cy="862.0" r="1.0"/><circle cx="607.2" cy="824.2" r="1.0"/><circle cx="651.2" cy="837.4" r="1.0"/><circle cx="569.5" cy="848.4" r="1.0"/><circle cx="617.8" cy="821.4" r="1.0"/><circle cx="587.0" cy="907.8" r="1.0"/><circle cx="594.7" cy="933.6" r="1.0"/><circle cx="614.7" cy="894.0" r="1.0"/><circle cx="587.2" cy="840.0" r="1.0"/><circle cx="538.5" cy="819.2" r="1.0"/><circle cx="652.2" cy="822.3" r="1.0"/><circle cx="537.2" cy="909.4" r="1.0"/><circle cx="647.8" cy="913.5" r="1.0"/><circle cx="527.2" cy="899.6" r="1.0"/><circle cx="621.7" cy="901.3" r="1.0"/><circle cx="652.4" cy="818.6" r="1.0"/><circle cx="533.8" cy="929.0" r="1.0"/><circle cx="541.4" cy="816.2" r="1.0"/><circle cx="640.9" cy="807.4" r="1.0"/><circle cx="560.8" cy="824.1" r="1.0"/><circle cx="578.0" cy="900.2" r="1.0"/><circle cx="638.6" cy="807.0" r="1.0"/><circle cx="591.4" cy="920.9" r="1.0"/><circle cx="581.9" cy="874.4" r="1.0"/><circle cx="573.4" cy="931.7" r="1.0"/><circle cx="604.0" cy="808.7" r="1.0"/><circle cx="544.4" cy="839.9" r="1.0"/><circle cx="638.1" cy="840.9" r="1.0"/><circle cx="602.7" cy="898.5" r="1.0"/><circle cx="598.7" cy="884.7" r="1.0"/><circle cx="566.7" cy="928.2" r="1.0"/><circle cx="582.2" cy="916.4" r="1.0"/><circle cx="547.7" cy="867.3" r="1.0"/><circle cx="561.6" cy="811.0" r="1.0"/><circle cx="592.6" cy="930.5" r="1.0"/><circle cx="583.1" cy="847.8" r="1.0"/><circle cx="571.3" cy="887.5" r="1.0"/><circle cx="597.8" cy="931.0" r="1.0"/><circle cx="633.0" cy="834.8" r="1.0"/><circle cx="550.9" cy="842.3" r="1.0"/><circle cx="645.9" cy="850.1" r="1.0"/><circle cx="648.3" cy="906.9" r="1.0"/><circle cx="574.4" cy="905.0" r="1.0"/><circle cx="646.4" cy="895.9" r="1.0"/><circle cx="589.4" cy="802.2" r="1.0"/><circle cx="653.4" cy="912.5" r="1.0"/><circle cx="637.0" cy="815.1" r="1.0"/><circle cx="600.6" cy="897.5" r="1.0"/><circle cx="549.0" cy="876.6" r="1.0"/><circle cx="638.1" cy="857.8" r="1.0"/><circle cx="617.6" cy="936.5" r="1.0"/><circle cx="585.6" cy="834.1" r="1.0"/><circle cx="538.1" cy="874.4" r="1.0"/><circle cx="540.3" cy="937.5" r="1.0"/><circle cx="570.3" cy="822.0" r="1.0"/><circle cx="637.8" cy="903.6" r="1.0"/><circle cx="586.3" cy="907.6" r="1.0"/><circle cx="527.1" cy="841.6" r="1.0"/><circle cx="596.4" cy="917.6" r="1.0"/><circle cx="560.2" cy="799.1" r="1.0"/><circle cx="587.0" cy="802.7" r="1.0"/><circle cx="557.6" cy="840.4" r="1.0"/><circle cx="611.6" cy="892.4" r="1.0"/><circle cx="666.7" cy="928.3" r="1.0"/><circle cx="592.8" cy="896.9" r="1.0"/><circle cx="613.2" cy="914.1" r="1.0"/><circle cx="640.6" cy="936.4" r="1.0"/><circle cx="536.2" cy="830.5" r="1.0"/><circle cx="563.8" cy="883.5" r="1.0"/><circle cx="562.3" cy="862.5" r="1.0"/><circle cx="628.5" cy="855.0" r="1.0"/><circle cx="578.9" cy="898.2" r="1.0"/><circle cx="535.3" cy="902.4" r="1.0"/><circle cx="637.3" cy="817.0" r="1.0"/><circle cx="535.3" cy="814.6" r="1.0"/><circle cx="646.3" cy="846.9" r="1.0"/><circle cx="624.5" cy="825.5" r="1.0"/><circle cx="521.3" cy="924.1" r="1.0"/><circle cx="638.5" cy="805.5" r="1.0"/><circle cx="557.7" cy="850.9" r="1.0"/><circle cx="623.3" cy="825.5" r="1.0"/><circle cx="632.1" cy="828.2" r="1.0"/><circle cx="554.6" cy="817.4" r="1.0"/><circle cx="552.3" cy="819.7" r="1.0"/><circle cx="617.2" cy="810.6" r="1.0"/><circle cx="608.0" cy="851.3" r="1.0"/><circle cx="583.3" cy="874.1" r="1.0"/><circle cx="578.2" cy="867.9" r="1.0"/><circle cx="602.9" cy="850.6" r="1.0"/><circle cx="625.1" cy="870.7" r="1.0"/><circle cx="550.1" cy="839.8" r="1.0"/><circle cx="646.3" cy="846.9" r="1.0"/><circle cx="661.5" cy="919.6" r="1.0"/><circle cx="579.8" cy="834.3" r="1.0"/><circle cx="652.1" cy="837.5" r="1.0"/><circle cx="637.6" cy="942.7" r="1.0"/><circle cx="638.1" cy="837.0" r="1.0"/><circle cx="655.8" cy="829.6" r="1.0"/><circle cx="611.0" cy="904.3" r="1.0"/><circle cx="580.1" cy="886.5" r="1.0"/><circle cx="634.9" cy="900.0" r="1.0"/><circle cx="564.0" cy="819.1" r="1.0"/><circle cx="634.3" cy="916.4" r="1.0"/><circle cx="659.3" cy="915.1" r="1.0"/><circle cx="527.4" cy="938.9" r="1.0"/><circle cx="523.5" cy="911.3" r="1.0"/><circle cx="563.4" cy="798.6" r="1.0"/><circle cx="620.6" cy="818.7" r="1.0"/><circle cx="592.1" cy="886.3" r="1.0"/><circle cx="624.5" cy="888.3" r="1.0"/><circle cx="586.8" cy="875.1" r="1.0"/><circle cx="609.6" cy="813.6" r="1.0"/><circle cx="529.2" cy="862.6" r="1.0"/><circle cx="530.5" cy="863.8" r="1.0"/><circle cx="610.0" cy="838.2" r="1.0"/><circle cx="663.8" cy="813.5" r="1.0"/><circle cx="543.6" cy="902.6" r="1.0"/><circle cx="582.4" cy="887.3" r="1.0"/><circle cx="534.6" cy="902.3" r="1.0"/><circle cx="608.4" cy="867.9" r="1.0"/><circle cx="653.3" cy="912.7" r="1.0"/><circle cx="637.2" cy="894.1" r="1.0"/><circle cx="539.1" cy="909.1" r="1.0"/><circle cx="611.7" cy="829.9" r="1.0"/><circle cx="620.9" cy="817.1" r="1.0"/><circle cx="657.7" cy="835.9" r="1.0"/><circle cx="587.2" cy="840.0" r="1.0"/><circle cx="628.4" cy="940.3" r="1.0"/><circle cx="658.2" cy="835.2" r="1.0"/><circle cx="617.9" cy="920.1" r="1.0"/><circle cx="539.4" cy="817.9" r="1.0"/><circle cx="527.1" cy="904.2" r="1.0"/><circle cx="657.4" cy="807.4" r="1.0"/><circle cx="630.9" cy="921.3" r="1.0"/><circle cx="595.7" cy="941.0" r="1.0"/><circle cx="588.7" cy="935.9" r="1.0"/><circle cx="583.7" cy="914.5" r="1.0"/><circle cx="618.7" cy="881.0" r="1.0"/><circle cx="644.9" cy="847.6" r="1.0"/><circle cx="614.4" cy="869.5" r="1.0"/><circle cx="653.2" cy="831.5" r="1.0"/><circle cx="589.1" cy="812.2" r="1.0"/><circle cx="587.7" cy="912.2" r="1.0"/><circle cx="616.4" cy="881.5" r="1.0"/><circle cx="566.4" cy="871.4" r="1.0"/><circle cx="608.0" cy="860.5" r="1.0"/><circle cx="588.4" cy="813.0" r="1.0"/><circle cx="605.6" cy="823.6" r="1.0"/><circle cx="574.0" cy="917.2" r="1.0"/><circle cx="621.8" cy="930.2" r="1.0"/><circle cx="562.1" cy="844.0" r="1.0"/><circle cx="591.9" cy="848.1" r="1.0"/><circle cx="650.2" cy="837.4" r="1.0"/><circle cx="575.4" cy="911.9" r="1.0"/><circle cx="615.7" cy="846.1" r="1.0"/><circle cx="627.1" cy="848.4" r="1.0"/><circle cx="572.4" cy="827.6" r="1.0"/><circle cx="534.4" cy="810.6" r="1.0"/><circle cx="523.2" cy="924.1" r="1.0"/><circle cx="544.2" cy="896.6" r="1.0"/><circle cx="629.3" cy="921.5" r="1.0"/><circle cx="662.0" cy="816.4" r="1.0"/><circle cx="563.9" cy="867.8" r="1.0"/><circle cx="560.6" cy="862.6" r="1.0"/><circle cx="582.5" cy="843.6" r="1.0"/><circle cx="607.4" cy="865.3" r="1.0"/><circle cx="664.9" cy="920.3" r="1.0"/><circle cx="532.4" cy="892.7" r="1.0"/><circle cx="548.1" cy="860.4" r="1.0"/><circle cx="646.2" cy="895.8" r="1.0"/><circle cx="594.0" cy="853.8" r="1.0"/><circle cx="651.0" cy="805.2" r="1.0"/><circle cx="615.0" cy="814.3" r="1.0"/><circle cx="624.9" cy="894.7" r="1.0"/><circle cx="607.1" cy="917.0" r="1.0"/><circle cx="633.2" cy="868.6" r="1.0"/><circle cx="583.7" cy="938.0" r="1.0"/><circle cx="557.4" cy="879.5" r="1.0"/><circle cx="616.9" cy="848.8" r="1.0"/><circle cx="546.5" cy="928.8" r="1.0"/><circle cx="612.6" cy="843.6" r="1.0"/><circle cx="662.5" cy="886.8" r="1.0"/><circle cx="572.8" cy="909.6" r="1.0"/><circle cx="638.7" cy="803.6" r="1.0"/><circle cx="554.2" cy="848.1" r="1.0"/><circle cx="567.9" cy="818.2" r="1.0"/><circle cx="617.4" cy="876.4" r="1.0"/><circle cx="619.3" cy="891.9" r="1.0"/><circle cx="606.7" cy="926.4" r="1.0"/><circle cx="560.0" cy="912.2" r="1.0"/><circle cx="651.4" cy="815.7" r="1.0"/><circle cx="642.0" cy="884.3" r="1.0"/><circle cx="612.2" cy="914.0" r="1.0"/><circle cx="535.5" cy="811.9" r="1.0"/><circle cx="539.6" cy="817.7" r="1.0"/><circle cx="601.7" cy="938.0" r="1.0"/><circle cx="564.0" cy="920.1" r="1.0"/><circle cx="541.9" cy="860.2" r="1.0"/><circle cx="546.5" cy="844.8" r="1.0"/><circle cx="542.8" cy="901.6" r="1.0"/><circle cx="620.5" cy="910.3" r="1.0"/><circle cx="647.0" cy="828.7" r="1.0"/><circle cx="559.7" cy="872.7" r="1.0"/><circle cx="607.7" cy="850.2" r="1.0"/><circle cx="656.8" cy="801.7" r="1.0"/><circle cx="660.0" cy="914.6" r="1.0"/><circle cx="525.7" cy="830.5" r="1.0"/><circle cx="662.5" cy="867.8" r="1.0"/><circle cx="665.1" cy="827.6" r="1.0"/><circle cx="627.2" cy="912.3" r="1.0"/><circle cx="631.7" cy="802.4" r="1.0"/><circle cx="644.4" cy="835.0" r="1.0"/><circle cx="658.4" cy="915.7" r="1.0"/><circle cx="576.8" cy="865.4" r="1.0"/><circle cx="615.7" cy="931.2" r="1.0"/><circle cx="546.7" cy="883.8" r="1.0"/><circle cx="598.4" cy="889.9" r="1.0"/><circle cx="555.4" cy="852.0" r="1.0"/><circle cx="612.5" cy="912.6" r="1.0"/><circle cx="585.9" cy="934.7" r="1.0"/><circle cx="581.8" cy="917.5" r="1.0"/><circle cx="639.0" cy="842.7" r="1.0"/><circle cx="666.2" cy="884.7" r="1.0"/><circle cx="661.7" cy="905.7" r="1.0"/><circle cx="532.0" cy="874.4" r="1.0"/><circle cx="519.6" cy="843.0" r="1.0"/><circle cx="646.7" cy="932.5" r="1.0"/><circle cx="591.3" cy="906.4" r="1.0"/><circle cx="577.4" cy="804.0" r="1.0"/><circle cx="554.9" cy="830.8" r="1.0"/><circle cx="619.7" cy="847.9" r="1.0"/><circle cx="575.4" cy="859.8" r="1.0"/></g>
</g>
<clipPath id="c_brt"><polygon points="572,800 600,799 621,800 624,812 623,832 624,846 612,856 594,860 580,856 571,848 568,830 570,812"/></clipPath>
<polygon points="572,800 600,799 621,800 624,812 623,832 624,846 612,856 594,860 580,856 571,848 568,830 570,812" fill="#2616c8" filter="url(#blur2)"/>
<g clip-path="url(#c_brt)" opacity="0.85">
<rect x="566" y="798" width="62" height="66" filter="url(#ifBright)"/>
</g>
<ellipse cx="590.5" cy="834" rx="5" ry="13" transform="rotate(18 590.5 834)" fill="#06041a"/>
<ellipse cx="612" cy="833" rx="3.5" ry="3" fill="#05040f"/>
</g>
<rect x="19.5" y="939.4" width="159.5" height="1.6" fill="#262626" stroke="none" stroke-width="1" />
<rect x="187" y="939.4" width="141" height="1.6" fill="#262626" stroke="none" stroke-width="1" />
<rect x="355.2" y="939.4" width="159.6" height="1.6" fill="#262626" stroke="none" stroke-width="1" />
<rect x="522.6" y="939.4" width="140.6" height="1.6" fill="#262626" stroke="none" stroke-width="1" />
<rect x="21.5" y="786.6" width="41.5" height="2.2" fill="#fff" stroke="none" stroke-width="1" />
<rect x="46" y="763.5" width="20" height="20.5" fill="none" stroke="#000" stroke-width="1.6" />
<line x1="66" y1="773.8" x2="192" y2="773.8" stroke="#000" stroke-width="1.5" />
<path d="M189 770.8 L195.5 773.8 L189 776.8Z" fill="#000"/>
<rect x="417" y="756.3" width="19.5" height="20.8" fill="none" stroke="#000" stroke-width="1.6" />
<line x1="436.5" y1="766.2" x2="528" y2="766.2" stroke="#000" stroke-width="1.5" />
<path d="M526 763.2 L532.8 766.2 L526 769.2Z" fill="#000"/>
<rect x="52.9" y="914.2" width="20" height="21.3" fill="none" stroke="#fff" stroke-width="1.6" />
<line x1="72.9" y1="924.9" x2="178.8" y2="924.9" stroke="#fff" stroke-width="1.5" />
<line x1="178.8" y1="924.9" x2="187.3" y2="924.9" stroke="#000" stroke-width="1.5" />
<line x1="187.3" y1="924.9" x2="194" y2="924.9" stroke="#fff" stroke-width="1.5" />
<path d="M190 921.9 L196.5 924.9 L190 927.9Z" fill="#fff"/>
<rect x="417" y="903.4" width="19.3" height="21" fill="none" stroke="#fff" stroke-width="1.6" />
<line x1="436.3" y1="913.9" x2="514.8" y2="913.9" stroke="#fff" stroke-width="1.5" />
<line x1="514.8" y1="913.9" x2="522.6" y2="913.9" stroke="#000" stroke-width="1.5" />
<line x1="522.6" y1="913.9" x2="530" y2="913.9" stroke="#fff" stroke-width="1.5" />
<path d="M527 910.9 L533.5 913.9 L527 916.9Z" fill="#fff"/>
<text x="17.83" y="641.90" font-size="15.31" font-weight="bold" fill="#000" textLength="10.18" lengthAdjust="spacingAndGlyphs" >h</text>
<text x="38.12" y="647.66" font-size="14.97" font-weight="bold" fill="#000" textLength="278.64" lengthAdjust="spacingAndGlyphs" >mock-vaccinated / SARS-CoV-2 (day 2)</text>
<text x="339.10" y="641.60" font-size="15.03" font-weight="bold" fill="#000" textLength="5.56" lengthAdjust="spacingAndGlyphs" >i</text>
<text x="373.21" y="647.66" font-size="14.97" font-weight="bold" fill="#000" textLength="269.51" lengthAdjust="spacingAndGlyphs" ><tspan fill="#f07f15">IBIS-vaccinated</tspan> / SARS-CoV-2 (day 2)</text>
</svg></body></html>
